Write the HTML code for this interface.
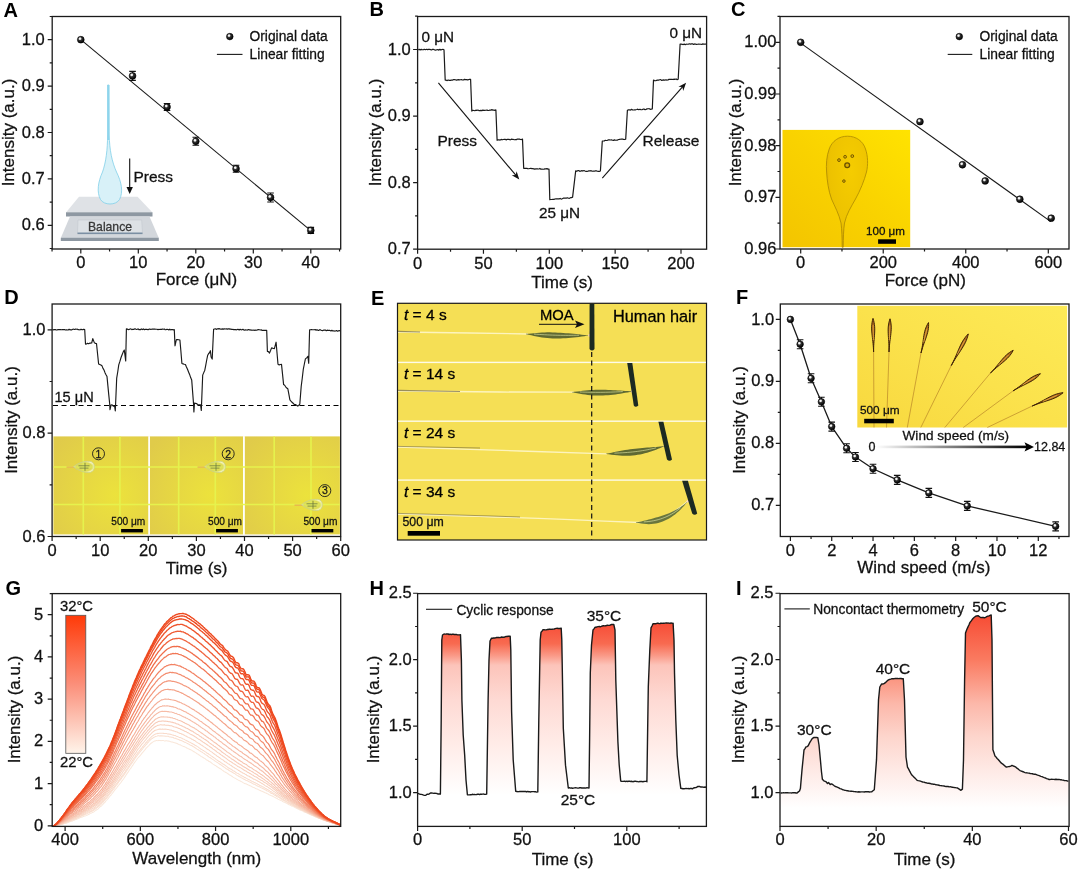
<!DOCTYPE html>
<html><head><meta charset="utf-8"><style>
html,body{margin:0;padding:0;background:#fff;width:1080px;height:870px;overflow:hidden}
svg{display:block;font-family:"Liberation Sans",sans-serif;will-change:transform}
</style></head><body>
<svg width="1080" height="870" viewBox="0 0 1080 870">
<defs><radialGradient id="sph" cx="0.38" cy="0.35" r="0.65">
<stop offset="0" stop-color="#fff"/><stop offset="0.18" stop-color="#eee"/><stop offset="0.42" stop-color="#333"/><stop offset="1" stop-color="#000"/></radialGradient>
<linearGradient id="cy" x1="0" y1="1" x2="1" y2="0"><stop offset="0" stop-color="#f3c400"/><stop offset="0.5" stop-color="#f9d200"/><stop offset="1" stop-color="#ffe300"/></linearGradient>
<radialGradient id="cdrop" cx="0.6" cy="0.3" r="0.65"><stop offset="0" stop-color="#f5cc00"/><stop offset="0.8" stop-color="#edc200"/><stop offset="1" stop-color="#dfb200"/></radialGradient>
<radialGradient id="dy" cx="0.65" cy="0.6" r="0.8"><stop offset="0" stop-color="#ece23c"/><stop offset="1" stop-color="#e0cb4a"/></radialGradient>
<radialGradient id="ddrop" cx="0.5" cy="0.5" r="0.5"><stop offset="0" stop-color="#e8ec70" stop-opacity="0.6"/><stop offset="0.75" stop-color="#d4dc60" stop-opacity="0.6"/><stop offset="1" stop-color="#f8f8c8" stop-opacity="0.9"/></radialGradient>
<linearGradient id="fib" x1="0" y1="0" x2="1" y2="0"><stop offset="0" stop-color="#6f6a40" stop-opacity="0.7"/><stop offset="1" stop-color="#3a4020"/></linearGradient>
<linearGradient id="fy" x1="0" y1="1" x2="1" y2="0"><stop offset="0" stop-color="#f8d83e"/><stop offset="0.5" stop-color="#fbe24c"/><stop offset="1" stop-color="#fdea56"/></linearGradient>
<linearGradient id="spin" x1="0" y1="0" x2="1" y2="0"><stop offset="0" stop-color="#8a4a08"/><stop offset="0.5" stop-color="#e0a030"/><stop offset="1" stop-color="#8a4a08"/></linearGradient>
<linearGradient id="wgrad" x1="0" y1="0" x2="1" y2="0"><stop offset="0" stop-color="#fff"/><stop offset="1" stop-color="#000"/></linearGradient>
<clipPath id="gclip"><rect x="51.5" y="593.6" width="289.2" height="232.2"/></clipPath>
<linearGradient id="cbar" x1="0" y1="0" x2="0" y2="1"><stop offset="0" stop-color="#ff3a08"/><stop offset="0.5" stop-color="#fb8f7a"/><stop offset="1" stop-color="#fff4ea"/></linearGradient>
<linearGradient id="hfill" gradientUnits="userSpaceOnUse" x1="0" y1="623" x2="0" y2="795"><stop offset="0" stop-color="#f74c36"/><stop offset="0.12" stop-color="#f86a50"/><stop offset="0.19" stop-color="#fa9a88"/><stop offset="0.245" stop-color="#fcc4ba"/><stop offset="0.45" stop-color="#fedad4"/><stop offset="0.71" stop-color="#ffece8"/><stop offset="1" stop-color="#ffffff"/></linearGradient>
<linearGradient id="ifill" gradientUnits="userSpaceOnUse" x1="0" y1="615" x2="0" y2="808"><stop offset="0" stop-color="#f74c34"/><stop offset="0.23" stop-color="#fa7a60"/><stop offset="0.46" stop-color="#fcb8aa"/><stop offset="0.63" stop-color="#fdd5cc"/><stop offset="0.81" stop-color="#feeae6"/><stop offset="1" stop-color="#ffffff"/></linearGradient></defs>
<rect width="1080" height="870" fill="#fff"/>
<text x="3.5" y="16.7" font-size="20" text-anchor="start" font-weight="bold" fill="#000" >A</text>
<g>
<path d="M79 196.7 L137.5 196.7 L152.5 212.5 L66 212.5 Z" fill="#dfe2e6"/>
<rect x="66" y="212.3" width="86.5" height="4.2" fill="#8e98a2"/>
<path d="M70 216.5 L149.5 216.5 L158.8 238 L60.8 238 Z" fill="#d3d7dc"/>
<path d="M78 220 L141.7 220 L142.5 233.5 L77.5 233.5 Z" fill="#dde1e5" stroke="#c3c8ce" stroke-width="0.6"/>
<rect x="77.5" y="232.5" width="65" height="1.6" fill="#7b8fa3"/>
<rect x="60.8" y="237.8" width="98" height="3.2" fill="#8e98a2"/>
</g>
<text x="110" y="230.5" font-size="12.2" text-anchor="middle" font-weight="normal" fill="#383838" stroke="#383838" stroke-width="0.28" >Balance</text>
<path d="M107.6 85 L109.0 85 L109.2 135 C109.5 150 112 162 116.5 172 C121.5 182 123.5 192 119.5 199.5 C116 205.5 104 205.5 100.5 199.5 C96.5 192 98 182 102.5 172 C106 162 107.5 150 107.6 135 Z" fill="#d8f1f8" stroke="#80cfe8" stroke-width="0.8"/>
<rect x="107.5" y="85" width="1.7" height="55" fill="#8ed4ec"/>
<path d="M129.7 158.5 V190" stroke="#111" stroke-width="1.1"/><path d="M126.5 187 L129.7 194 L132.9 187 Z" fill="#111"/>
<text x="133.5" y="182.3" font-size="15.5" text-anchor="start" font-weight="normal" fill="#111" stroke="#111" stroke-width="0.28" >Press</text>
<rect x="52.2" y="16.5" width="288.5" height="232.5" fill="none" stroke="#1a1a1a" stroke-width="1.3"/>
<path d="M80.8 249v4.5M138.3 249v4.5M195.8 249v4.5M253.3 249v4.5M310.8 249v4.5M52.05 249v2.5M109.55 249v2.5M167.05 249v2.5M224.55 249v2.5M282.05 249v2.5M339.55 249v2.5" stroke="#1a1a1a" stroke-width="1.2" fill="none"/>
<text x="80.8" y="268.4" font-size="16.5" text-anchor="middle" font-weight="normal" fill="#111" stroke="#111" stroke-width="0.28" >0</text>
<text x="138.3" y="268.4" font-size="16.5" text-anchor="middle" font-weight="normal" fill="#111" stroke="#111" stroke-width="0.28" >10</text>
<text x="195.8" y="268.4" font-size="16.5" text-anchor="middle" font-weight="normal" fill="#111" stroke="#111" stroke-width="0.28" >20</text>
<text x="253.3" y="268.4" font-size="16.5" text-anchor="middle" font-weight="normal" fill="#111" stroke="#111" stroke-width="0.28" >30</text>
<text x="310.8" y="268.4" font-size="16.5" text-anchor="middle" font-weight="normal" fill="#111" stroke="#111" stroke-width="0.28" >40</text>
<path d="M52.2 225.3h-4.5M52.2 178.9h-4.5M52.2 132.5h-4.5M52.2 86.1h-4.5M52.2 39.7h-4.5M52.2 248.5h-2.5M52.2 202.1h-2.5M52.2 155.7h-2.5M52.2 109.3h-2.5M52.2 62.9h-2.5M52.2 16.5h-2.5" stroke="#1a1a1a" stroke-width="1.2" fill="none"/>
<text x="44.7" y="230.4" font-size="16.5" text-anchor="end" font-weight="normal" fill="#111" stroke="#111" stroke-width="0.28" >0.6</text>
<text x="44.7" y="184" font-size="16.5" text-anchor="end" font-weight="normal" fill="#111" stroke="#111" stroke-width="0.28" >0.7</text>
<text x="44.7" y="137.6" font-size="16.5" text-anchor="end" font-weight="normal" fill="#111" stroke="#111" stroke-width="0.28" >0.8</text>
<text x="44.7" y="91.2" font-size="16.5" text-anchor="end" font-weight="normal" fill="#111" stroke="#111" stroke-width="0.28" >0.9</text>
<text x="44.7" y="44.8" font-size="16.5" text-anchor="end" font-weight="normal" fill="#111" stroke="#111" stroke-width="0.28" >1.0</text>
<text x="196.5" y="285.2" font-size="17" text-anchor="middle" font-weight="normal" fill="#111" stroke="#111" stroke-width="0.28" >Force (μN)</text>
<text transform="translate(14.4,132.5) rotate(-90)" x="0" y="0" font-size="17" text-anchor="middle" fill="#111" stroke="#111" stroke-width="0.28">Intensity (a.u.)</text>
<path d="M80.8 39.7 L310.8 230.64" fill="none" stroke="#1a1a1a" stroke-width="1.1" stroke-linejoin="round" />
<circle cx="80.8" cy="39.7" r="3.4" fill="url(#sph)" stroke="#000" stroke-width="0.6"/>
<path d="M132.55 71.39V80.39M129.25 71.39h6.6M129.25 80.39h6.6" stroke="#111" stroke-width="1.1" fill="none"/>
<circle cx="132.55" cy="75.89" r="3.4" fill="url(#sph)" stroke="#000" stroke-width="0.6"/>
<path d="M167.05 103.48V110.48M163.75 103.48h6.6M163.75 110.48h6.6" stroke="#111" stroke-width="1.1" fill="none"/>
<circle cx="167.05" cy="106.98" r="3.4" fill="url(#sph)" stroke="#000" stroke-width="0.6"/>
<path d="M195.8 137.32V145.32M192.5 137.32h6.6M192.5 145.32h6.6" stroke="#111" stroke-width="1.1" fill="none"/>
<circle cx="195.8" cy="141.32" r="3.4" fill="url(#sph)" stroke="#000" stroke-width="0.6"/>
<path d="M236.05 165.19V172.19M232.75 165.19h6.6M232.75 172.19h6.6" stroke="#111" stroke-width="1.1" fill="none"/>
<circle cx="236.05" cy="168.69" r="3.4" fill="url(#sph)" stroke="#000" stroke-width="0.6"/>
<path d="M270.55 192.96V201.96M267.25 192.96h6.6M267.25 201.96h6.6" stroke="#111" stroke-width="1.1" fill="none"/>
<circle cx="270.55" cy="197.46" r="3.4" fill="url(#sph)" stroke="#000" stroke-width="0.6"/>
<path d="M310.8 227.4V233.4M307.5 227.4h6.6M307.5 233.4h6.6" stroke="#111" stroke-width="1.1" fill="none"/>
<circle cx="310.8" cy="230.4" r="3.4" fill="url(#sph)" stroke="#000" stroke-width="0.6"/>
<circle cx="229.8" cy="36.6" r="3.3" fill="url(#sph)" stroke="#000" stroke-width="0.6"/>
<text x="249.5" y="41.2" font-size="13.8" text-anchor="start" font-weight="normal" fill="#111" stroke="#111" stroke-width="0.28" >Original data</text>
<path d="M216.9 54.4 L242.5 54.4" fill="none" stroke="#1a1a1a" stroke-width="1.1" stroke-linejoin="round" />
<text x="249.5" y="58.8" font-size="13.8" text-anchor="start" font-weight="normal" fill="#111" stroke="#111" stroke-width="0.28" >Linear fitting</text>
<text x="369.5" y="16.4" font-size="20" text-anchor="start" font-weight="bold" fill="#000" >B</text>
<rect x="417.6" y="16.5" width="289" height="232.7" fill="none" stroke="#1a1a1a" stroke-width="1.3"/>
<path d="M417.6 249.2v4.5M483.45 249.2v4.5M549.3 249.2v4.5M615.15 249.2v4.5M681 249.2v4.5M450.53 249.2v2.5M516.38 249.2v2.5M582.23 249.2v2.5M648.08 249.2v2.5" stroke="#1a1a1a" stroke-width="1.2" fill="none"/>
<text x="417.6" y="268.6" font-size="16.5" text-anchor="middle" font-weight="normal" fill="#111" stroke="#111" stroke-width="0.28" >0</text>
<text x="483.45" y="268.6" font-size="16.5" text-anchor="middle" font-weight="normal" fill="#111" stroke="#111" stroke-width="0.28" >50</text>
<text x="549.3" y="268.6" font-size="16.5" text-anchor="middle" font-weight="normal" fill="#111" stroke="#111" stroke-width="0.28" >100</text>
<text x="615.15" y="268.6" font-size="16.5" text-anchor="middle" font-weight="normal" fill="#111" stroke="#111" stroke-width="0.28" >150</text>
<text x="681" y="268.6" font-size="16.5" text-anchor="middle" font-weight="normal" fill="#111" stroke="#111" stroke-width="0.28" >200</text>
<path d="M417.6 249.2h-4.5M417.6 182.63h-4.5M417.6 116.07h-4.5M417.6 49.5h-4.5M417.6 215.92h-2.5M417.6 149.35h-2.5M417.6 82.78h-2.5M417.6 16.22h-2.5" stroke="#1a1a1a" stroke-width="1.2" fill="none"/>
<text x="410.8" y="254.3" font-size="16.5" text-anchor="end" font-weight="normal" fill="#111" stroke="#111" stroke-width="0.28" >0.7</text>
<text x="410.8" y="187.73" font-size="16.5" text-anchor="end" font-weight="normal" fill="#111" stroke="#111" stroke-width="0.28" >0.8</text>
<text x="410.8" y="121.17" font-size="16.5" text-anchor="end" font-weight="normal" fill="#111" stroke="#111" stroke-width="0.28" >0.9</text>
<text x="410.8" y="54.6" font-size="16.5" text-anchor="end" font-weight="normal" fill="#111" stroke="#111" stroke-width="0.28" >1.0</text>
<text x="562.1" y="287.5" font-size="17" text-anchor="middle" font-weight="normal" fill="#111" stroke="#111" stroke-width="0.28" >Time (s)</text>
<text transform="translate(380.9,132.5) rotate(-90)" x="0" y="0" font-size="17" text-anchor="middle" fill="#111" stroke="#111" stroke-width="0.28">Intensity (a.u.)</text>
<path d="M418.2 49.54 L419.23 49.39 L420.26 49.84 L421.3 49.32 L422.33 49.73 L423.36 49.58 L424.39 49.3 L425.42 49.71 L426.46 49.28 L427.49 49.64 L428.52 49.31 L429.55 49.33 L430.58 49.63 L431.62 49.99 L432.65 49.36 L433.68 49.45 L434.71 49.81 L435.74 50.1 L436.78 49.77 L437.81 49.61 L438.84 50.13 L439.87 49.29 L440.9 50.02 L441.94 49.51 L442.97 49.38 L444 49.7 L445.2 80.06 L446.22 80.19 L447.23 80.6 L448.25 79.99 L449.26 80.31 L450.28 80.33 L451.3 80.05 L452.31 80.16 L453.33 79.69 L454.34 79.64 L455.36 79.74 L456.38 80.12 L457.39 79.85 L458.41 79.71 L459.42 79.92 L460.44 79.76 L461.46 79.58 L462.47 79.98 L463.49 79.86 L464.5 79.41 L465.52 79.67 L466.54 79.58 L467.55 79.86 L468.57 79.69 L469.58 79.25 L470.6 79.4 L471.8 111.03 L472.8 110.23 L473.81 110.47 L474.81 110.74 L475.82 110.17 L476.82 110.44 L477.82 110.01 L478.83 110.55 L479.83 110.6 L480.84 110.4 L481.84 110.65 L482.85 110.11 L483.85 110.43 L484.85 110.31 L485.86 110.26 L486.86 110.12 L487.87 110.44 L488.87 110.5 L489.88 110.05 L490.88 110.19 L491.88 109.62 L492.89 110.17 L493.89 110.09 L494.9 110.37 L495.9 109.9 L497.1 140.29 L498.12 139.77 L499.13 139.83 L500.15 140.04 L501.16 139.43 L502.18 139.79 L503.2 139.49 L504.21 139.4 L505.23 139.32 L506.24 139.92 L507.26 139.31 L508.28 139.38 L509.29 139.47 L510.31 139.87 L511.32 139.12 L512.34 139.41 L513.36 139.47 L514.37 139.73 L515.39 139.64 L516.4 139.64 L517.42 139.08 L518.44 139.17 L519.45 139.08 L520.47 139.52 L521.48 139.55 L522.5 139.1 L523.7 168.29 L524.71 168.32 L525.72 168.39 L526.74 168.41 L527.75 168.65 L528.76 168.76 L529.77 168.48 L530.78 168.27 L531.8 168.66 L532.81 168.63 L533.82 168.82 L534.83 169.18 L535.84 168.96 L536.86 168.82 L537.87 168.93 L538.88 169 L539.89 168.45 L540.9 169.23 L541.92 169.14 L542.93 169.24 L543.94 169.19 L544.95 168.84 L545.96 168.86 L546.98 168.61 L547.99 169.1 L549 169 L549.8 199.61 L550.84 199.5 L551.87 199.51 L552.91 199.36 L553.95 199.4 L554.98 199.03 L556.02 198.87 L557.05 198.89 L558.09 198.73 L559.13 198.85 L560.16 198.44 L561.2 199.09 L562.24 198.74 L563.27 198.21 L564.31 198.19 L565.35 198.16 L566.38 198.06 L567.42 197.73 L568.45 198.27 L569.49 198.28 L570.53 197.7 L571.56 197.6 L572.6 197.13 L573.63 188.31 L574.67 179.69 L575.7 170.79 L576.73 171.3 L577.76 170.7 L578.79 170.57 L579.82 171.41 L580.85 171.03 L581.88 170.68 L582.9 171.04 L583.93 170.57 L584.96 171.03 L585.99 171.43 L587.02 171.33 L588.05 171.18 L589.08 170.79 L590.11 170.88 L591.14 170.7 L592.17 171.24 L593.2 171.03 L594.23 171.25 L595.25 170.85 L596.28 170.75 L597.31 171.28 L598.34 171.44 L599.37 171.32 L600.4 171 L602.3 141.08 L603.32 141.01 L604.33 140.87 L605.35 140.33 L606.37 140.52 L607.39 140.3 L608.4 139.93 L609.42 139.86 L610.44 140.01 L611.46 139.92 L612.47 140.23 L613.49 140.4 L614.51 139.87 L615.53 140.23 L616.54 140.2 L617.56 140.1 L618.58 139.5 L619.6 139.29 L620.61 139.22 L621.63 139.12 L622.65 139.06 L623.67 139.36 L624.68 139.53 L625.7 139.1 L627.4 110.21 L628.44 109.84 L629.48 109.95 L630.51 110.04 L631.55 109.36 L632.59 109.84 L633.62 110.02 L634.66 109.86 L635.7 109.79 L636.74 109.51 L637.77 109.19 L638.81 109.7 L639.85 109.25 L640.89 109.63 L641.92 109.74 L642.96 109.18 L644 109.14 L645.04 109.59 L646.07 109.35 L647.11 108.81 L648.15 108.73 L649.19 108.71 L650.22 109.35 L651.26 109.22 L652.3 108.9 L653.5 80.08 L654.53 80.64 L655.56 80.73 L656.59 80.39 L657.62 80.07 L658.65 80.19 L659.67 79.77 L660.7 79.61 L661.73 80.42 L662.76 80.08 L663.79 79.92 L664.82 80.24 L665.85 79.74 L666.88 80.08 L667.91 79.99 L668.94 79.39 L669.97 79.38 L671 79.36 L672.03 79.27 L673.05 79.53 L674.08 79.18 L675.11 79.28 L676.14 78.97 L677.17 79.62 L678.2 79.2 L680.1 44.07 L681.14 44.16 L682.17 44.28 L683.21 44.56 L684.24 44.13 L685.28 44.58 L686.32 44.2 L687.35 44.23 L688.39 44.22 L689.42 43.77 L690.46 44.15 L691.5 43.91 L692.53 43.75 L693.57 44.47 L694.6 43.91 L695.64 44.18 L696.68 44.4 L697.71 44.25 L698.75 44.04 L699.78 44.22 L700.82 44.25 L701.86 44.46 L702.89 43.85 L703.93 44.25 L704.96 43.97 L706 44.2" fill="none" stroke="#1a1a1a" stroke-width="1.2" stroke-linejoin="round" />
<path d="M438.4 82.8L516.22 175.72" stroke="#111" stroke-width="1.1"/>
<path d="M519.3 179.4L511.71 175.32L515.7 175.11L516.62 171.21Z" fill="#111"/>
<path d="M602.3 178.2L682.93 86.41" stroke="#111" stroke-width="1.1"/>
<path d="M686.1 82.8L683.22 90.92L682.4 87.01L678.42 86.7Z" fill="#111"/>
<text x="437.5" y="146.3" font-size="15.5" text-anchor="start" font-weight="normal" fill="#111" stroke="#111" stroke-width="0.28" >Press</text>
<text x="642.5" y="146.3" font-size="15.5" text-anchor="start" font-weight="normal" fill="#111" stroke="#111" stroke-width="0.28" >Release</text>
<text x="421.5" y="42.3" font-size="15.3" text-anchor="start" font-weight="normal" fill="#111" stroke="#111" stroke-width="0.28" >0 μN</text>
<text x="669.5" y="38.3" font-size="15.3" text-anchor="start" font-weight="normal" fill="#111" stroke="#111" stroke-width="0.28" >0 μN</text>
<text x="539" y="217.8" font-size="15.3" text-anchor="start" font-weight="normal" fill="#111" stroke="#111" stroke-width="0.28" >25 μN</text>
<text x="731" y="16.4" font-size="20" text-anchor="start" font-weight="bold" fill="#000" >C</text>
<rect x="782.5" y="129.9" width="127.7" height="117.3" fill="url(#cy)"/>
<path d="M847.5 136.2 C856 136.2 863 141 865.5 149 C868 156 868.2 165 866.5 172 C864.5 180 860 191 855.5 199 C851 207 846.5 214 844.5 223 C843.5 230 843.3 238 843.2 247.2 L842.2 247.2 C842.1 238 841.9 230 841 223 C839 214 835 207 831.5 199 C828.5 191 827 180 826.6 172 C826 165 826.5 156 829.2 149 C832 141 839 136.2 847.5 136.2 Z" fill="url(#cdrop)" stroke="#a88400" stroke-width="0.75"/>
<circle cx="839" cy="160.1" r="1.4" fill="#e0b000" stroke="#6a5000" stroke-width="0.9"/>
<circle cx="845.1" cy="156.8" r="1.4" fill="#e0b000" stroke="#6a5000" stroke-width="0.9"/>
<circle cx="852.3" cy="156.1" r="1.4" fill="#e0b000" stroke="#6a5000" stroke-width="0.9"/>
<circle cx="847.2" cy="165.3" r="2.4" fill="#e0b000" stroke="#6a5000" stroke-width="1.3"/>
<circle cx="843.9" cy="181.1" r="1.3" fill="#e0b000" stroke="#6a5000" stroke-width="0.9"/>
<rect x="878.1" y="239.3" width="17.9" height="4.5" fill="#000"/>
<text x="866" y="235" font-size="11.6" text-anchor="start" font-weight="normal" fill="#111" stroke="#111" stroke-width="0.28" >100 μm</text>
<rect x="780" y="16.5" width="289" height="232.5" fill="none" stroke="#1a1a1a" stroke-width="1.3"/>
<path d="M800.7 249v4.5M883.23 249v4.5M965.77 249v4.5M1048.3 249v4.5M841.97 249v2.5M924.5 249v2.5M1007.03 249v2.5" stroke="#1a1a1a" stroke-width="1.2" fill="none"/>
<text x="800.7" y="268.4" font-size="16.5" text-anchor="middle" font-weight="normal" fill="#111" stroke="#111" stroke-width="0.28" >0</text>
<text x="883.23" y="268.4" font-size="16.5" text-anchor="middle" font-weight="normal" fill="#111" stroke="#111" stroke-width="0.28" >200</text>
<text x="965.77" y="268.4" font-size="16.5" text-anchor="middle" font-weight="normal" fill="#111" stroke="#111" stroke-width="0.28" >400</text>
<text x="1048.3" y="268.4" font-size="16.5" text-anchor="middle" font-weight="normal" fill="#111" stroke="#111" stroke-width="0.28" >600</text>
<path d="M780 249h-4.5M780 197.32h-4.5M780 145.65h-4.5M780 93.98h-4.5M780 42.3h-4.5M780 223.16h-2.5M780 171.49h-2.5M780 119.81h-2.5M780 68.14h-2.5M780 16.46h-2.5" stroke="#1a1a1a" stroke-width="1.2" fill="none"/>
<text x="776.4" y="254.1" font-size="16.5" text-anchor="end" font-weight="normal" fill="#111" stroke="#111" stroke-width="0.28" >0.96</text>
<text x="776.4" y="202.42" font-size="16.5" text-anchor="end" font-weight="normal" fill="#111" stroke="#111" stroke-width="0.28" >0.97</text>
<text x="776.4" y="150.75" font-size="16.5" text-anchor="end" font-weight="normal" fill="#111" stroke="#111" stroke-width="0.28" >0.98</text>
<text x="776.4" y="99.08" font-size="16.5" text-anchor="end" font-weight="normal" fill="#111" stroke="#111" stroke-width="0.28" >0.99</text>
<text x="776.4" y="47.4" font-size="16.5" text-anchor="end" font-weight="normal" fill="#111" stroke="#111" stroke-width="0.28" >1.00</text>
<text x="925.3" y="286" font-size="17" text-anchor="middle" font-weight="normal" fill="#111" stroke="#111" stroke-width="0.28" >Force (pN)</text>
<text transform="translate(740.9,132.5) rotate(-90)" x="0" y="0" font-size="17" text-anchor="middle" fill="#111" stroke="#111" stroke-width="0.28">Intensity (a.u.)</text>
<path d="M800.7 43.1 L1050.78 221.61" fill="none" stroke="#1a1a1a" stroke-width="1.1" stroke-linejoin="round" />
<circle cx="800.7" cy="42.3" r="3.4" fill="url(#sph)" stroke="#000" stroke-width="0.6"/>
<circle cx="919.96" cy="121.67" r="3.4" fill="url(#sph)" stroke="#000" stroke-width="0.6"/>
<circle cx="962.47" cy="164.77" r="3.4" fill="url(#sph)" stroke="#000" stroke-width="0.6"/>
<circle cx="985.16" cy="180.94" r="3.4" fill="url(#sph)" stroke="#000" stroke-width="0.6"/>
<circle cx="1019.83" cy="199.24" r="3.4" fill="url(#sph)" stroke="#000" stroke-width="0.6"/>
<circle cx="1051.19" cy="218.2" r="3.4" fill="url(#sph)" stroke="#000" stroke-width="0.6"/>
<circle cx="959.3" cy="36.6" r="3.3" fill="url(#sph)" stroke="#000" stroke-width="0.6"/>
<text x="979.5" y="41.2" font-size="13.8" text-anchor="start" font-weight="normal" fill="#111" stroke="#111" stroke-width="0.28" >Original data</text>
<path d="M947.7 54.4 L972.3 54.4" fill="none" stroke="#1a1a1a" stroke-width="1.1" stroke-linejoin="round" />
<text x="979.5" y="58.8" font-size="13.8" text-anchor="start" font-weight="normal" fill="#111" stroke="#111" stroke-width="0.28" >Linear fitting</text>
<text x="4.2" y="304.2" font-size="20" text-anchor="start" font-weight="bold" fill="#000" >D</text>
<rect x="53.4" y="436.4" width="95.2" height="98" fill="url(#dy)"/>
<rect x="149.6" y="436.4" width="93.6" height="98" fill="url(#dy)"/>
<rect x="244.6" y="436.4" width="95.3" height="98" fill="url(#dy)"/>
<rect x="148.4" y="436.4" width="1.5" height="98" fill="#fff"/><rect x="243.1" y="436.4" width="1.5" height="98" fill="#fff"/>
<path d="M83.3 436.4V534.4M119.9 436.4V534.4M178.7 436.4V534.4M215.3 436.4V534.4M274.2 436.4V534.4M311 436.4V534.4M53.4 467H339.9M53.4 504.5H339.9" stroke="#e6f44e" stroke-width="1.6" opacity="0.95"/>
<path d="M66.5 467.1H75.5" stroke="#e87858" stroke-width="0.9" opacity="0.7"/>
<path d="M73.5 466.8 C78.5 462.3 86.5 460.3 91.5 461.8 C95.5 463.8 95.5 470.8 90.5 472.3 C85.5 473.3 78.5 470.8 73.5 466.8 Z" fill="url(#ddrop)" stroke="#c8d088" stroke-width="0.8"/>
<path d="M78.5 465.8H89.5M79.5 468.1H88.5M85.0 462.8V470.8" stroke="#304830" stroke-width="0.7" opacity="0.75"/>
<path d="M197.5 467.1H206.5" stroke="#e87858" stroke-width="0.9" opacity="0.7"/>
<path d="M204.5 466.8 C209.5 462.3 217.5 460.3 222.5 461.8 C226.5 463.8 226.5 470.8 221.5 472.3 C216.5 473.3 209.5 470.8 204.5 466.8 Z" fill="url(#ddrop)" stroke="#c8d088" stroke-width="0.8"/>
<path d="M209.5 465.8H220.5M210.5 468.1H219.5M216.0 462.8V470.8" stroke="#304830" stroke-width="0.7" opacity="0.75"/>
<path d="M294.5 505.1H303.5" stroke="#e87858" stroke-width="0.9" opacity="0.7"/>
<path d="M301.5 504.8 C306.5 500.3 314.5 498.3 319.5 499.8 C323.5 501.8 323.5 508.8 318.5 510.3 C313.5 511.3 306.5 508.8 301.5 504.8 Z" fill="url(#ddrop)" stroke="#c8d088" stroke-width="0.8"/>
<path d="M306.5 503.8H317.5M307.5 506.1H316.5M313.0 500.8V508.8" stroke="#304830" stroke-width="0.7" opacity="0.75"/>
<circle cx="98.5" cy="453.8" r="6" fill="none" stroke="#1a1a1a" stroke-width="0.9"/>
<text x="98.5" y="457.5" font-size="10.5" text-anchor="middle" font-weight="normal" fill="#1a1a1a" stroke="#1a1a1a" stroke-width="0.28" >1</text>
<circle cx="228.2" cy="453.8" r="6" fill="none" stroke="#1a1a1a" stroke-width="0.9"/>
<text x="228.2" y="457.5" font-size="10.5" text-anchor="middle" font-weight="normal" fill="#1a1a1a" stroke="#1a1a1a" stroke-width="0.28" >2</text>
<circle cx="324.8" cy="490.6" r="6" fill="none" stroke="#1a1a1a" stroke-width="0.9"/>
<text x="324.8" y="494.3" font-size="10.5" text-anchor="middle" font-weight="normal" fill="#1a1a1a" stroke="#1a1a1a" stroke-width="0.28" >3</text>
<rect x="121.1" y="529" width="21.8" height="3.4" fill="#000"/>
<text x="128.3" y="525.1" font-size="11.5" text-anchor="middle" font-weight="normal" fill="#111" stroke="#111" stroke-width="0.28" textLength="34" lengthAdjust="spacingAndGlyphs">500 μm</text>
<rect x="216.1" y="529" width="21.8" height="3.4" fill="#000"/>
<text x="225" y="525.1" font-size="11.5" text-anchor="middle" font-weight="normal" fill="#111" stroke="#111" stroke-width="0.28" textLength="34" lengthAdjust="spacingAndGlyphs">500 μm</text>
<rect x="311.5" y="529" width="21.8" height="3.4" fill="#000"/>
<text x="320.4" y="525.1" font-size="11.5" text-anchor="middle" font-weight="normal" fill="#111" stroke="#111" stroke-width="0.28" textLength="34" lengthAdjust="spacingAndGlyphs">500 μm</text>
<rect x="52.1" y="304" width="288.6" height="232.5" fill="none" stroke="#1a1a1a" stroke-width="1.3"/>
<path d="M52.1 536.5v4.5M100.2 536.5v4.5M148.3 536.5v4.5M196.4 536.5v4.5M244.5 536.5v4.5M292.6 536.5v4.5M340.7 536.5v4.5M76.15 536.5v2.5M124.25 536.5v2.5M172.35 536.5v2.5M220.45 536.5v2.5M268.55 536.5v2.5M316.65 536.5v2.5" stroke="#1a1a1a" stroke-width="1.2" fill="none"/>
<text x="52.1" y="555.6" font-size="16.5" text-anchor="middle" font-weight="normal" fill="#111" stroke="#111" stroke-width="0.28" >0</text>
<text x="100.2" y="555.6" font-size="16.5" text-anchor="middle" font-weight="normal" fill="#111" stroke="#111" stroke-width="0.28" >10</text>
<text x="148.3" y="555.6" font-size="16.5" text-anchor="middle" font-weight="normal" fill="#111" stroke="#111" stroke-width="0.28" >20</text>
<text x="196.4" y="555.6" font-size="16.5" text-anchor="middle" font-weight="normal" fill="#111" stroke="#111" stroke-width="0.28" >30</text>
<text x="244.5" y="555.6" font-size="16.5" text-anchor="middle" font-weight="normal" fill="#111" stroke="#111" stroke-width="0.28" >40</text>
<text x="292.6" y="555.6" font-size="16.5" text-anchor="middle" font-weight="normal" fill="#111" stroke="#111" stroke-width="0.28" >50</text>
<text x="340.7" y="555.6" font-size="16.5" text-anchor="middle" font-weight="normal" fill="#111" stroke="#111" stroke-width="0.28" >60</text>
<path d="M52.1 536.5h-4.5M52.1 433.15h-4.5M52.1 329.8h-4.5M52.1 484.83h-2.5M52.1 381.48h-2.5" stroke="#1a1a1a" stroke-width="1.2" fill="none"/>
<text x="45.5" y="541.6" font-size="16.5" text-anchor="end" font-weight="normal" fill="#111" stroke="#111" stroke-width="0.28" >0.6</text>
<text x="45.5" y="438.25" font-size="16.5" text-anchor="end" font-weight="normal" fill="#111" stroke="#111" stroke-width="0.28" >0.8</text>
<text x="45.5" y="334.9" font-size="16.5" text-anchor="end" font-weight="normal" fill="#111" stroke="#111" stroke-width="0.28" >1.0</text>
<text x="196.7" y="573.9" font-size="17" text-anchor="middle" font-weight="normal" fill="#111" stroke="#111" stroke-width="0.28" >Time (s)</text>
<text transform="translate(17.4,420) rotate(-90)" x="0" y="0" font-size="17" text-anchor="middle" fill="#111" stroke="#111" stroke-width="0.28">Intensity (a.u.)</text>
<path d="M53 405.5H340" stroke="#000" stroke-width="1.1" stroke-dasharray="5,3.5"/>
<text x="54.5" y="401.7" font-size="14.6" text-anchor="start" font-weight="normal" fill="#111" stroke="#111" stroke-width="0.28" >15 μN</text>
<path d="M52.5 329.4 L53.42 329.84 L54.34 329.6 L55.26 329.65 L56.18 329.82 L57.1 329.96 L58.02 329.53 L58.94 329.68 L59.86 329.58 L60.78 329.59 L61.7 329.74 L62.62 329.53 L63.54 329.6 L64.46 329.54 L65.38 329.96 L66.3 329.74 L67.22 329.89 L68.14 329.95 L69.06 329.33 L69.98 329.6 L70.9 329.94 L71.82 329.85 L72.74 329.21 L73.66 329.19 L74.58 329.48 L75.5 329.14 L76.42 329.29 L77.34 329.14 L78.26 329.67 L79.18 329.77 L80.1 329.87 L81.02 329.2 L81.94 329.7 L82.86 329.65 L83.78 329.18 L84.7 329.5 L85.5 344.09 L86.53 344.05 L87.57 343.25 L88.6 343.78 L89.63 343.16 L90.67 343.11 L91.7 343 L92.8 338.6 L94.4 342.84 L95.45 343.37 L96.5 343.45 L97.55 353.76 L98.6 363.91 L99.73 364.46 L100.87 365.03 L102 365.84 L103 368.4 L104 369.97 L105 372.65 L106 374.75 L107 376.57 L107.9 385.85 L108.8 395.11 L109.7 404 L110 409.7 L111.1 404.91 L112.27 404.96 L113.43 406.24 L114.6 406.25 L115.3 411 L116.7 378.06 L117.72 371.97 L118.75 364.94 L119.9 361.39 L121.05 357.49 L122.2 354.45 L123.25 351.89 L124.3 350 L125.7 361 L126.4 328.87 L127.3 329.14 L128.21 329.59 L129.11 329.51 L130.02 329.01 L130.92 328.92 L131.82 329.62 L132.73 329.32 L133.63 329.44 L134.53 328.9 L135.44 328.88 L136.34 329.45 L137.25 329.22 L138.15 328.91 L139.05 329.7 L139.96 329.43 L140.86 329.59 L141.76 328.95 L142.67 329.66 L143.57 328.95 L144.48 329.68 L145.38 329.32 L146.28 329.22 L147.19 329.42 L148.09 329.77 L148.99 329.18 L149.9 329.06 L150.8 329.43 L151.71 329.18 L152.61 329.07 L153.51 329.12 L154.42 329.03 L155.32 329.17 L156.22 329.28 L157.13 329.28 L158.03 329.7 L158.94 329.28 L159.84 329.48 L160.74 329.2 L161.65 329.36 L162.55 329.07 L163.45 329.28 L164.36 329.08 L165.26 329.73 L166.17 329.58 L167.07 329.26 L167.97 329.52 L168.88 329.95 L169.78 329.21 L170.68 329.86 L171.59 329.52 L172.49 329.58 L173.4 329.89 L174.3 329.6 L175 345.8 L176.4 339.5 L177.57 339.61 L178.73 339.77 L179.9 340.03 L180.9 351.26 L181.9 363.5 L183.07 363.85 L184.23 364.26 L185.4 364.51 L186.45 367.01 L187.5 369.3 L188.55 371.92 L189.6 374.41 L190.65 377.57 L191.7 379.9 L193.5 403.4 L193.9 411.9 L194.5 403.18 L195.52 403.35 L196.53 403.53 L197.55 404.46 L198.57 404.73 L199.58 404.8 L200.6 404.9 L201.3 410.5 L202.7 375.1 L203.75 372.62 L204.8 370.21 L205.73 365.43 L206.67 360.23 L207.6 355.55 L208.53 353.75 L209.47 352.75 L210.4 350.7 L211.1 357 L212.2 359.1 L213.6 329.33 L214.52 328.97 L215.43 328.72 L216.35 329.39 L217.26 328.83 L218.18 328.89 L219.09 328.6 L220.01 328.96 L220.92 329.07 L221.84 329.12 L222.76 328.87 L223.67 329.17 L224.59 328.74 L225.5 329 L226.42 328.87 L227.33 329.17 L228.25 328.87 L229.16 328.88 L230.08 329.16 L230.99 329.12 L231.91 329.46 L232.83 329.43 L233.74 329.66 L234.66 329.6 L235.57 329.67 L236.49 329.84 L237.4 329.43 L238.32 329.4 L239.23 330.01 L240.15 329.28 L241.07 329.83 L241.98 329.78 L242.9 329.26 L243.81 330 L244.73 330.07 L245.64 329.86 L246.56 329.98 L247.47 330.07 L248.39 329.49 L249.31 329.86 L250.22 329.87 L251.14 330.19 L252.05 330.19 L252.97 330.23 L253.88 330.04 L254.8 330.34 L255.71 330.17 L256.63 330.21 L257.54 329.82 L258.46 329.66 L259.38 329.78 L260.29 330.01 L261.21 329.8 L262.12 330.48 L263.04 330.26 L263.95 330.34 L264.87 330.37 L265.78 330.44 L266.7 330.3 L267.4 351.39 L268.45 351.65 L269.5 353.07 L270.55 350.57 L271.6 347.9 L272.53 348.17 L273.47 348.51 L274.4 348.6 L276.1 342.2 L278 364.31 L279.17 364.91 L280.33 364.48 L281.5 364.32 L282.55 374.34 L283.6 384.61 L284.65 385.21 L285.7 386.77 L286.75 388.05 L287.8 388.69 L288.85 394.19 L289.9 399.88 L290.97 401.14 L292.05 402.29 L293.12 403.23 L294.2 404.33 L295.37 404.52 L296.53 405.28 L297.7 406.08 L298.75 405.47 L299.8 404.2 L301.2 386.42 L302.25 378.21 L303.3 369.26 L304.35 364 L305.4 358.89 L306.65 357.85 L307.9 356.3 L308.7 363.3 L309.6 329.77 L310.53 329.8 L311.45 329.5 L312.38 329.74 L313.31 329.74 L314.24 329.78 L315.16 329.51 L316.09 330.25 L317.02 329.67 L317.95 330.41 L318.87 330.42 L319.8 329.63 L320.73 330.07 L321.65 330.44 L322.58 330.62 L323.51 330.19 L324.44 330.07 L325.36 330.06 L326.29 330.76 L327.22 330.15 L328.15 330.52 L329.07 330.17 L330 330.55 L330.93 330.98 L331.85 330.29 L332.78 330.95 L333.71 330.71 L334.64 331.09 L335.56 330.97 L336.49 330.59 L337.42 331.23 L338.35 330.9 L339.27 330.53 L340.2 331" fill="none" stroke="#1a1a1a" stroke-width="1.15" stroke-linejoin="round" />
<text x="371" y="305" font-size="20" text-anchor="start" font-weight="bold" fill="#000" >E</text>
<rect x="397.5" y="303.3" width="309" height="236.7" fill="#f5df55" stroke="#1a1a1a" stroke-width="1.2"/>
<rect x="398.1" y="361.7" width="307.8" height="1.4" fill="#fdfbe8"/>
<rect x="398.1" y="420.5" width="307.8" height="1.4" fill="#fdfbe8"/>
<rect x="398.1" y="479.40000000000003" width="307.8" height="1.4" fill="#fdfbe8"/>
<path d="M398 332 L470 333 L528 334" fill="none" stroke="#fffbe0" stroke-width="1.3" opacity="0.75"/>
<path d="M398 331.4 L420 332" fill="none" stroke="#5a5030" stroke-width="1.2" opacity="0.6"/>
<path d="M398 391 L500 392 L574 392.2" fill="none" stroke="#fffbe0" stroke-width="1.3" opacity="0.75"/>
<path d="M398 390.4 L460 391.5" fill="none" stroke="#5a5030" stroke-width="1.2" opacity="0.6"/>
<path d="M398 447 L520 451 L607 453.8" fill="none" stroke="#fffbe0" stroke-width="1.3" opacity="0.75"/>
<path d="M398 446.4 L480 448" fill="none" stroke="#5a5030" stroke-width="1.0" opacity="0.5"/>
<path d="M398 514 C480 516 580 520 640 522.5 C660 523 675 512 688 501" fill="none" stroke="#fffbe0" stroke-width="1.3" opacity="0.75"/>
<path d="M398 513.4 C440 514.5 480 515.5 520 517" fill="none" stroke="#5a5030" stroke-width="1.0" opacity="0.5"/>
<path d="M526 333.83 L528.67 333.73 L531.33 333.46 L533.99 333.19 L536.65 332.95 L539.31 332.73 L541.97 332.56 L544.62 332.43 L547.28 332.36 L549.93 332.35 L552.58 332.4 L555.23 332.5 L557.88 332.63 L560.52 332.78 L563.16 332.95 L565.8 333.15 L568.44 333.36 L571.08 333.6 L573.72 333.85 L576.35 334.1 L578.99 334.37 L581.62 334.63 L584.25 334.9 L586.87 335.15 L589.5 335.23 L589.5 335.53 L586.87 335.83 L584.25 336.24 L581.62 336.62 L578.99 336.98 L576.35 337.31 L573.72 337.6 L571.08 337.86 L568.44 338.08 L565.8 338.25 L563.16 338.37 L560.52 338.46 L557.88 338.49 L555.23 338.47 L552.58 338.4 L549.93 338.26 L547.28 338.05 L544.62 337.75 L541.97 337.38 L539.31 336.95 L536.65 336.45 L533.99 335.89 L531.33 335.3 L528.67 334.66 L526 334.13Z" fill="#4f5c30" opacity="0.9"/>
<path d="M533.99 334.08 L536.65 334.27 L539.31 334.45 L541.97 334.61 L544.62 334.76 L547.28 334.89 L549.93 335 L552.58 335.1 L555.23 335.18 L557.88 335.25 L560.52 335.3 L563.16 335.33 L565.8 335.35 L568.44 335.36 L571.08 335.34 L573.72 335.31 L576.35 335.27 L578.99 335.21" stroke="#e8eca8" stroke-width="0.8" fill="none" opacity="0.75"/>
<path d="M572 392.03 L574.66 391.85 L577.31 391.49 L579.94 391.14 L582.56 390.82 L585.17 390.52 L587.77 390.26 L590.35 390.05 L592.92 389.89 L595.48 389.79 L598.02 389.75 L600.56 389.75 L603.08 389.78 L605.58 389.84 L608.07 389.92 L610.55 390.02 L613.02 390.14 L615.48 390.28 L617.92 390.43 L620.35 390.59 L622.76 390.75 L625.17 390.92 L627.56 391.09 L629.94 391.25 L632.3 391.23 L632.3 391.53 L629.94 391.9 L627.56 392.39 L625.17 392.85 L622.76 393.28 L620.35 393.69 L617.92 394.06 L615.48 394.4 L613.02 394.69 L610.55 394.95 L608.07 395.16 L605.58 395.33 L603.08 395.45 L600.56 395.52 L598.02 395.55 L595.48 395.5 L592.92 395.39 L590.35 395.19 L587.77 394.93 L585.17 394.59 L582.56 394.2 L579.94 393.76 L577.31 393.27 L574.66 392.75 L572 392.33Z" fill="#4f5c30" opacity="0.9"/>
<path d="M579.94 391.98 L582.56 392.08 L585.17 392.16 L587.77 392.22 L590.35 392.28 L592.92 392.31 L595.48 392.33 L598.02 392.34 L600.56 392.33 L603.08 392.3 L605.58 392.26 L608.07 392.2 L610.55 392.13 L613.02 392.04 L615.48 391.94 L617.92 391.82 L620.35 391.69 L622.76 391.54" stroke="#e8eca8" stroke-width="0.8" fill="none" opacity="0.75"/>
<path d="M606 453.63 L608.82 453.25 L611.6 452.68 L614.35 452.11 L617.07 451.55 L619.75 451.02 L622.41 450.51 L625.03 450.05 L627.61 449.63 L630.16 449.27 L632.68 448.97 L635.17 448.71 L637.62 448.46 L640.05 448.23 L642.43 448.01 L644.79 447.81 L647.11 447.62 L649.4 447.43 L651.66 447.25 L653.88 447.07 L656.07 446.88 L658.23 446.68 L660.35 446.48 L662.44 446.25 L664.5 445.83 L664.5 446.13 L662.44 446.98 L660.35 447.93 L658.23 448.84 L656.07 449.71 L653.88 450.54 L651.66 451.32 L649.4 452.05 L647.11 452.72 L644.79 453.33 L642.43 453.89 L640.05 454.38 L637.62 454.81 L635.17 455.17 L632.68 455.47 L630.16 455.68 L627.61 455.79 L625.03 455.81 L622.41 455.74 L619.75 455.58 L617.07 455.35 L614.35 455.04 L611.6 454.67 L608.82 454.26 L606 453.94Z" fill="#4f5c30" opacity="0.9"/>
<path d="M614.35 453.12 L617.07 453.04 L619.75 452.93 L622.41 452.79 L625.03 452.62 L627.61 452.42 L630.16 452.2 L632.68 451.94 L635.17 451.66 L637.62 451.35 L640.05 451.01 L642.43 450.64 L644.79 450.25 L647.11 449.82 L649.4 449.37 L651.66 448.89 L653.88 448.38 L656.07 447.84" stroke="#e8eca8" stroke-width="0.8" fill="none" opacity="0.75"/>
<path d="M636 522.34 L638.64 522.02 L641.25 521.47 L643.8 520.87 L646.32 520.24 L648.79 519.58 L651.22 518.92 L653.6 518.25 L655.94 517.59 L658.24 516.95 L660.5 516.3 L662.71 515.6 L664.88 514.85 L667 514.06 L669.08 513.21 L671.12 512.32 L673.11 511.37 L675.06 510.36 L676.97 509.3 L678.83 508.17 L680.65 506.98 L682.43 505.72 L684.16 504.39 L685.85 502.99 L687.5 501.33 L687.5 501.63 L685.85 503.62 L684.16 505.65 L682.43 507.59 L680.65 509.44 L678.83 511.19 L676.97 512.85 L675.06 514.4 L673.11 515.85 L671.12 517.2 L669.08 518.43 L667 519.56 L664.88 520.58 L662.71 521.48 L660.5 522.27 L658.24 522.95 L655.94 523.48 L653.6 523.86 L651.22 524.07 L648.79 524.13 L646.32 524.05 L643.8 523.83 L641.25 523.5 L638.64 523.05 L636 522.63Z" fill="#5a6a3a" opacity="0.9"/>
<path d="M643.8 521.9 L646.32 521.73 L648.79 521.48 L651.22 521.15 L653.6 520.73 L655.94 520.23 L658.24 519.65 L660.5 518.98 L662.71 518.23 L664.88 517.4 L667 516.48 L669.08 515.48 L671.12 514.4 L673.11 513.23 L675.06 511.98 L676.97 510.65 L678.83 509.23 L680.65 507.73" stroke="#e8eca8" stroke-width="0.8" fill="none" opacity="0.75"/>
<circle cx="589.5" cy="335.4" r="1.3" fill="#ffd8c8" opacity="0.9"/>
<circle cx="632.3" cy="391.4" r="1.3" fill="#ffd8c8" opacity="0.9"/>
<circle cx="664.9" cy="446" r="1.3" fill="#ffd8c8" opacity="0.9"/>
<circle cx="687.9" cy="501.2" r="1.3" fill="#ffd8c8" opacity="0.9"/>
<path d="M589.6 303.8 L594.3 303.8 L594.5 349 Q592 352 589.5 349 Z" fill="#1c2a22"/>
<path d="M627.2 362.9 L632.3 362.9 L638.3 405.5 Q635.5 408 633.8 405.5 Z" fill="#1c2a22"/>
<path d="M658.4 421.7 L663.4 421.7 L672 459.5 Q669.5 462 667 459.5 Z" fill="#1c2a22"/>
<path d="M682.1 480.8 L687.9 480.8 L697.2 513.5 Q694.5 516 692.2 513.5 Z" fill="#1c2a22"/>
<path d="M591.7 352 V539.5" stroke="#111" stroke-width="1.2" stroke-dasharray="5,3.5"/>
<text x="404" y="320.3" font-size="15.5" fill="#000" stroke="#000" stroke-width="0.28"><tspan font-style="italic">t</tspan> = 4 s</text>
<text x="404" y="379.2" font-size="15.5" fill="#000" stroke="#000" stroke-width="0.28"><tspan font-style="italic">t</tspan> = 14 s</text>
<text x="404" y="438.1" font-size="15.5" fill="#000" stroke="#000" stroke-width="0.28"><tspan font-style="italic">t</tspan> = 24 s</text>
<text x="404" y="497" font-size="15.5" fill="#000" stroke="#000" stroke-width="0.28"><tspan font-style="italic">t</tspan> = 34 s</text>
<text x="540" y="319.5" font-size="14.8" text-anchor="start" font-weight="normal" fill="#000" stroke="#000" stroke-width="0.28" >MOA</text>
<path d="M539 324.3 H577" stroke="#111" stroke-width="1"/><path d="M584.5 324.3 L575 320.6 L577 324.3 L575 328 Z" fill="#111"/>
<text x="613" y="321.8" font-size="16.3" text-anchor="start" font-weight="normal" fill="#000" stroke="#000" stroke-width="0.28" >Human hair</text>
<rect x="407.7" y="531" width="32.3" height="4.7" fill="#000"/>
<text x="402.5" y="525.7" font-size="12.3" text-anchor="start" font-weight="normal" fill="#111" stroke="#111" stroke-width="0.28" >500 μm</text>
<text x="736" y="304.2" font-size="20" text-anchor="start" font-weight="bold" fill="#000" >F</text>
<rect x="857.3" y="305.8" width="209.8" height="121.7" fill="url(#fy)"/>
<path d="M874 427.5 L873.6 352 L873 318.4" fill="none" stroke="#a87020" stroke-width="0.7" stroke-linejoin="round" opacity="0.8"/>
<path d="M873.6 352 L873.6 349.9 L873.65 347.8 L873.73 345.7 L873.85 343.59 L874 341.49 L874.16 339.39 L874.33 337.28 L874.49 335.18 L874.63 333.08 L874.72 330.97 L874.74 328.87 L874.66 326.77 L874.46 324.68 L874.12 322.58 L873.65 320.49 L873 318.4 L873 318.4 L872.43 320.51 L872.03 322.62 L871.77 324.72 L871.64 326.83 L871.64 328.93 L871.73 331.03 L871.9 333.12 L872.11 335.22 L872.35 337.32 L872.59 339.41 L872.83 341.51 L873.05 343.61 L873.24 345.7 L873.4 347.8 L873.52 349.9 L873.6 352Z" fill="#b06a1c" stroke="#3a2006" stroke-width="0.95" stroke-linejoin="round"/>
<path d="M873.39 340.24 L873.12 325.12" stroke="#f0b848" stroke-width="0.9" opacity="0.8"/>
<path d="M886.5 427.5 L889 352 L890 318.8" fill="none" stroke="#a87020" stroke-width="0.7" stroke-linejoin="round" opacity="0.8"/>
<path d="M889 352 L889.1 349.93 L889.25 347.85 L889.43 345.78 L889.65 343.71 L889.9 341.64 L890.16 339.57 L890.43 337.5 L890.69 335.44 L890.93 333.37 L891.12 331.29 L891.24 329.22 L891.26 327.15 L891.16 325.07 L890.92 322.98 L890.55 320.89 L890 318.8 L890 318.8 L889.33 320.86 L888.83 322.92 L888.47 324.98 L888.24 327.05 L888.14 329.13 L888.13 331.21 L888.2 333.28 L888.31 335.36 L888.45 337.45 L888.59 339.53 L888.73 341.61 L888.85 343.69 L888.94 345.77 L889 347.85 L889.02 349.92 L889 352Z" fill="#b06a1c" stroke="#3a2006" stroke-width="0.95" stroke-linejoin="round"/>
<path d="M889.35 340.38 L889.8 325.44" stroke="#f0b848" stroke-width="0.9" opacity="0.8"/>
<path d="M907.3 427.5 L921 353 L928.5 322.6" fill="none" stroke="#a87020" stroke-width="0.7" stroke-linejoin="round" opacity="0.8"/>
<path d="M921 353 L921.51 351.11 L922.06 349.23 L922.65 347.36 L923.27 345.5 L923.91 343.64 L924.57 341.79 L925.24 339.94 L925.91 338.09 L926.54 336.23 L927.14 334.36 L927.66 332.47 L928.09 330.56 L928.4 328.62 L928.58 326.65 L928.62 324.65 L928.5 322.6 L928.5 322.6 L927.44 324.35 L926.55 326.15 L925.79 327.98 L925.16 329.84 L924.65 331.73 L924.24 333.64 L923.89 335.57 L923.59 337.51 L923.32 339.46 L923.05 341.41 L922.78 343.36 L922.48 345.3 L922.17 347.24 L921.82 349.17 L921.43 351.09 L921 353Z" fill="#b06a1c" stroke="#3a2006" stroke-width="0.95" stroke-linejoin="round"/>
<path d="M923.62 342.36 L927 328.68" stroke="#f0b848" stroke-width="0.9" opacity="0.8"/>
<path d="M920.8 427.5 L951.3 365.5 L968.3 333.9" fill="none" stroke="#a87020" stroke-width="0.7" stroke-linejoin="round" opacity="0.8"/>
<path d="M951.3 365.5 L952.4 363.54 L953.53 361.61 L954.71 359.69 L955.9 357.79 L957.13 355.9 L958.36 354.02 L959.61 352.14 L960.85 350.26 L962.07 348.37 L963.24 346.46 L964.35 344.51 L965.38 342.51 L966.3 340.46 L967.1 338.35 L967.77 336.16 L968.3 333.9 L968.3 333.9 L966.7 335.59 L965.25 337.35 L963.93 339.19 L962.72 341.09 L961.62 343.04 L960.61 345.04 L959.66 347.08 L958.75 349.14 L957.87 351.21 L956.99 353.28 L956.1 355.35 L955.2 357.41 L954.27 359.46 L953.32 361.49 L952.33 363.51 L951.3 365.5Z" fill="#b06a1c" stroke="#3a2006" stroke-width="0.95" stroke-linejoin="round"/>
<path d="M957.25 354.44 L964.9 340.22" stroke="#f0b848" stroke-width="0.9" opacity="0.8"/>
<path d="M944.8 427.5 L990.5 373 L1013.2 350.3" fill="none" stroke="#a87020" stroke-width="0.7" stroke-linejoin="round" opacity="0.8"/>
<path d="M990.5 373 L991.95 371.61 L993.43 370.25 L994.93 368.92 L996.46 367.61 L998.01 366.32 L999.57 365.04 L1001.13 363.77 L1002.69 362.49 L1004.23 361.2 L1005.74 359.87 L1007.2 358.49 L1008.59 357.04 L1009.89 355.51 L1011.1 353.88 L1012.21 352.15 L1013.2 350.3 L1013.2 350.3 L1011.35 351.29 L1009.62 352.4 L1007.99 353.61 L1006.46 354.91 L1005.01 356.3 L1003.63 357.76 L1002.3 359.27 L1001.01 360.81 L999.73 362.37 L998.46 363.93 L997.18 365.49 L995.89 367.04 L994.58 368.57 L993.25 370.07 L991.89 371.55 L990.5 373Z" fill="#b06a1c" stroke="#3a2006" stroke-width="0.95" stroke-linejoin="round"/>
<path d="M998.45 365.06 L1008.66 354.84" stroke="#f0b848" stroke-width="0.9" opacity="0.8"/>
<path d="M963.3 427.5 L1013.2 390.8 L1040.4 373.7" fill="none" stroke="#a87020" stroke-width="0.7" stroke-linejoin="round" opacity="0.8"/>
<path d="M1013.2 390.8 L1014.92 389.76 L1016.67 388.77 L1018.43 387.8 L1020.21 386.87 L1022.01 385.95 L1023.82 385.05 L1025.63 384.16 L1027.43 383.26 L1029.23 382.34 L1031 381.38 L1032.72 380.36 L1034.4 379.25 L1036.02 378.05 L1037.56 376.72 L1039.02 375.28 L1040.4 373.7 L1040.4 373.7 L1038.38 374.25 L1036.44 374.95 L1034.58 375.77 L1032.8 376.7 L1031.08 377.73 L1029.4 378.85 L1027.77 380.02 L1026.17 381.24 L1024.57 382.48 L1022.98 383.72 L1021.39 384.96 L1019.79 386.18 L1018.17 387.38 L1016.53 388.56 L1014.88 389.7 L1013.2 390.8Z" fill="#b06a1c" stroke="#3a2006" stroke-width="0.95" stroke-linejoin="round"/>
<path d="M1022.72 384.81 L1034.96 377.12" stroke="#f0b848" stroke-width="0.9" opacity="0.8"/>
<path d="M987.3 427.5 L1032.2 406 L1063.1 392.7" fill="none" stroke="#a87020" stroke-width="0.7" stroke-linejoin="round" opacity="0.8"/>
<path d="M1032.2 406 L1034.15 405.2 L1036.11 404.45 L1038.09 403.73 L1040.08 403.04 L1042.09 402.38 L1044.1 401.73 L1046.11 401.09 L1048.12 400.44 L1050.12 399.77 L1052.1 399.06 L1054.06 398.28 L1055.97 397.41 L1057.84 396.43 L1059.65 395.32 L1061.41 394.09 L1063.1 392.7 L1063.1 392.7 L1060.93 392.97 L1058.82 393.4 L1056.77 393.96 L1054.78 394.64 L1052.83 395.43 L1050.92 396.32 L1049.04 397.26 L1047.18 398.26 L1045.33 399.27 L1043.48 400.29 L1041.63 401.31 L1039.77 402.31 L1037.9 403.28 L1036.01 404.22 L1034.12 405.13 L1032.2 406Z" fill="#b06a1c" stroke="#3a2006" stroke-width="0.95" stroke-linejoin="round"/>
<path d="M1043.02 401.34 L1056.92 395.36" stroke="#f0b848" stroke-width="0.9" opacity="0.8"/>
<rect x="864.2" y="418.8" width="29.6" height="4.5" fill="#000"/>
<text x="860" y="413.5" font-size="11.8" text-anchor="start" font-weight="normal" fill="#111" stroke="#111" stroke-width="0.28" >500 μm</text>
<text x="955.8" y="439.6" font-size="13.6" text-anchor="middle" font-weight="normal" fill="#111" stroke="#111" stroke-width="0.28" >Wind speed (m/s)</text>
<rect x="876" y="445.6" width="151" height="2.6" fill="url(#wgrad)"/><path d="M1034 446.9 L1024.5 442.2 L1026.5 446.9 L1024.5 451.6 Z" fill="#000"/>
<text x="868.5" y="450.6" font-size="12.5" text-anchor="start" font-weight="normal" fill="#111" stroke="#111" stroke-width="0.28" >0</text>
<text x="1034" y="450.6" font-size="12.5" text-anchor="start" font-weight="normal" fill="#111" stroke="#111" stroke-width="0.28" >12.84</text>
<rect x="780.3" y="304" width="288.7" height="232.5" fill="none" stroke="#1a1a1a" stroke-width="1.3"/>
<path d="M790.4 536.5v4.5M831.72 536.5v4.5M873.03 536.5v4.5M914.35 536.5v4.5M955.67 536.5v4.5M996.98 536.5v4.5M1038.3 536.5v4.5M811.06 536.5v2.5M852.38 536.5v2.5M893.69 536.5v2.5M935.01 536.5v2.5M976.32 536.5v2.5M1017.64 536.5v2.5M1058.96 536.5v2.5" stroke="#1a1a1a" stroke-width="1.2" fill="none"/>
<text x="790.4" y="555.6" font-size="16.5" text-anchor="middle" font-weight="normal" fill="#111" stroke="#111" stroke-width="0.28" >0</text>
<text x="831.72" y="555.6" font-size="16.5" text-anchor="middle" font-weight="normal" fill="#111" stroke="#111" stroke-width="0.28" >2</text>
<text x="873.03" y="555.6" font-size="16.5" text-anchor="middle" font-weight="normal" fill="#111" stroke="#111" stroke-width="0.28" >4</text>
<text x="914.35" y="555.6" font-size="16.5" text-anchor="middle" font-weight="normal" fill="#111" stroke="#111" stroke-width="0.28" >6</text>
<text x="955.67" y="555.6" font-size="16.5" text-anchor="middle" font-weight="normal" fill="#111" stroke="#111" stroke-width="0.28" >8</text>
<text x="996.98" y="555.6" font-size="16.5" text-anchor="middle" font-weight="normal" fill="#111" stroke="#111" stroke-width="0.28" >10</text>
<text x="1038.3" y="555.6" font-size="16.5" text-anchor="middle" font-weight="normal" fill="#111" stroke="#111" stroke-width="0.28" >12</text>
<path d="M780.3 505.3h-4.5M780.3 443.33h-4.5M780.3 381.37h-4.5M780.3 319.4h-4.5M780.3 474.32h-2.5M780.3 412.35h-2.5M780.3 350.38h-2.5" stroke="#1a1a1a" stroke-width="1.2" fill="none"/>
<text x="774.1" y="510.4" font-size="16.5" text-anchor="end" font-weight="normal" fill="#111" stroke="#111" stroke-width="0.28" >0.7</text>
<text x="774.1" y="448.43" font-size="16.5" text-anchor="end" font-weight="normal" fill="#111" stroke="#111" stroke-width="0.28" >0.8</text>
<text x="774.1" y="386.47" font-size="16.5" text-anchor="end" font-weight="normal" fill="#111" stroke="#111" stroke-width="0.28" >0.9</text>
<text x="774.1" y="324.5" font-size="16.5" text-anchor="end" font-weight="normal" fill="#111" stroke="#111" stroke-width="0.28" >1.0</text>
<text x="923.8" y="572.5" font-size="17" text-anchor="middle" font-weight="normal" fill="#111" stroke="#111" stroke-width="0.28" >Wind speed (m/s)</text>
<text transform="translate(745,420) rotate(-90)" x="0" y="0" font-size="17" text-anchor="middle" fill="#111" stroke="#111" stroke-width="0.28">Intensity (a.u.)</text>
<path d="M790.4 319.4 L800.11 344.19 L811.06 378.27 L821.39 401.82 L831.72 426.6 L846.59 448.29 L855.47 456.97 L873.03 468.74 L897.2 479.89 L928.81 492.91 L967.24 505.92 L1055.65 526.37" fill="none" stroke="#1a1a1a" stroke-width="1.3" stroke-linejoin="round" />
<circle cx="790.4" cy="319.4" r="3.3" fill="url(#sph)" stroke="#000" stroke-width="0.6"/>
<path d="M800.11 339.69V348.69M796.81 339.69h6.6M796.81 348.69h6.6" stroke="#111" stroke-width="1.1" fill="none"/>
<circle cx="800.11" cy="344.19" r="3.3" fill="url(#sph)" stroke="#000" stroke-width="0.6"/>
<path d="M811.06 373.77V382.77M807.76 373.77h6.6M807.76 382.77h6.6" stroke="#111" stroke-width="1.1" fill="none"/>
<circle cx="811.06" cy="378.27" r="3.3" fill="url(#sph)" stroke="#000" stroke-width="0.6"/>
<path d="M821.39 397.32V406.32M818.09 397.32h6.6M818.09 406.32h6.6" stroke="#111" stroke-width="1.1" fill="none"/>
<circle cx="821.39" cy="401.82" r="3.3" fill="url(#sph)" stroke="#000" stroke-width="0.6"/>
<path d="M831.72 422.1V431.1M828.42 422.1h6.6M828.42 431.1h6.6" stroke="#111" stroke-width="1.1" fill="none"/>
<circle cx="831.72" cy="426.6" r="3.3" fill="url(#sph)" stroke="#000" stroke-width="0.6"/>
<path d="M846.59 443.79V452.79M843.29 443.79h6.6M843.29 452.79h6.6" stroke="#111" stroke-width="1.1" fill="none"/>
<circle cx="846.59" cy="448.29" r="3.3" fill="url(#sph)" stroke="#000" stroke-width="0.6"/>
<path d="M855.47 452.47V461.47M852.17 452.47h6.6M852.17 461.47h6.6" stroke="#111" stroke-width="1.1" fill="none"/>
<circle cx="855.47" cy="456.97" r="3.3" fill="url(#sph)" stroke="#000" stroke-width="0.6"/>
<path d="M873.03 464.24V473.24M869.73 464.24h6.6M869.73 473.24h6.6" stroke="#111" stroke-width="1.1" fill="none"/>
<circle cx="873.03" cy="468.74" r="3.3" fill="url(#sph)" stroke="#000" stroke-width="0.6"/>
<path d="M897.2 475.39V484.39M893.9 475.39h6.6M893.9 484.39h6.6" stroke="#111" stroke-width="1.1" fill="none"/>
<circle cx="897.2" cy="479.89" r="3.3" fill="url(#sph)" stroke="#000" stroke-width="0.6"/>
<path d="M928.81 488.41V497.41M925.51 488.41h6.6M925.51 497.41h6.6" stroke="#111" stroke-width="1.1" fill="none"/>
<circle cx="928.81" cy="492.91" r="3.3" fill="url(#sph)" stroke="#000" stroke-width="0.6"/>
<path d="M967.24 501.42V510.42M963.94 501.42h6.6M963.94 510.42h6.6" stroke="#111" stroke-width="1.1" fill="none"/>
<circle cx="967.24" cy="505.92" r="3.3" fill="url(#sph)" stroke="#000" stroke-width="0.6"/>
<path d="M1055.65 521.87V530.87M1052.35 521.87h6.6M1052.35 530.87h6.6" stroke="#111" stroke-width="1.1" fill="none"/>
<circle cx="1055.65" cy="526.37" r="3.3" fill="url(#sph)" stroke="#000" stroke-width="0.6"/>
<text x="5.5" y="595.3" font-size="20" text-anchor="start" font-weight="bold" fill="#000" >G</text>
<g clip-path="url(#gclip)">
<path d="M51.5 826.37 L52.3 826.44 L53.1 826.29 L53.9 826.11 L54.7 825.88 L55.5 825.99 L56.3 825.87 L57.1 825.61 L57.9 825.46 L58.7 825.18 L59.5 824.9 L60.3 824.84 L61.1 824.7 L61.9 824.27 L62.7 824.33 L63.5 823.86 L64.3 823.62 L65.1 823.3 L65.9 823.42 L66.7 823.06 L67.5 822.85 L68.3 822.47 L69.1 821.96 L69.9 821.8 L70.7 821.58 L71.5 821.14 L72.3 821.18 L73.1 820.64 L73.9 820.25 L74.7 820.2 L75.5 819.61 L76.3 819.6 L77.1 819.09 L77.9 818.8 L78.7 818.38 L79.5 818.09 L80.3 817.64 L81.1 817.24 L81.9 817.24 L82.7 816.66 L83.5 816.56 L84.3 816.02 L85.1 816 L85.9 815.65 L86.7 815.27 L87.5 814.94 L88.3 814.53 L89.1 814.24 L89.9 813.63 L90.7 813.39 L91.5 813.14 L92.3 812.46 L93.1 812.31 L93.9 811.85 L94.7 811.15 L95.5 810.61 L96.3 810.13 L97.1 809.49 L97.9 809.12 L98.7 808.25 L99.5 807.39 L100.3 806.69 L101.1 806.22 L101.9 805.55 L102.7 804.53 L103.5 803.71 L104.3 802.91 L105.1 802.09 L105.9 800.99 L106.7 800.25 L107.5 799.29 L108.3 798.36 L109.1 797.23 L109.9 796.26 L110.7 795.33 L111.5 794.56 L112.3 793.33 L113.1 792.41 L113.9 791.27 L114.7 790.16 L115.5 789.11 L116.3 788.37 L117.1 787.32 L117.9 786.12 L118.7 785.21 L119.5 784.17 L120.3 783.23 L121.1 782.2 L121.9 780.91 L122.7 780.07 L123.5 778.95 L124.3 777.67 L125.1 776.65 L125.9 775.33 L126.7 774.11 L127.5 772.88 L128.3 771.95 L129.1 770.47 L129.9 769.24 L130.7 768.35 L131.5 767.16 L132.3 765.86 L133.1 764.85 L133.9 763.4 L134.7 762.34 L135.5 761.24 L136.3 760.23 L137.1 759.06 L137.9 757.99 L138.7 757.13 L139.5 756.38 L140.3 755.45 L141.1 754.42 L141.9 753.37 L142.7 752.32 L143.5 751.64 L144.3 750.5 L145.1 749.63 L145.9 748.41 L146.7 747.55 L147.5 746.92 L148.3 746.03 L149.1 745.26 L149.9 744.38 L150.7 743.54 L151.5 743 L152.3 742.5 L153.1 741.75 L153.9 741.44 L154.7 740.94 L155.5 740.91 L156.3 740.46 L157.1 740.59 L157.9 740.7 L158.7 740.33 L159.5 740.56 L160.3 740.59 L161.1 740.69 L161.9 740.6 L162.7 740.51 L163.5 740.6 L164.3 740.88 L165.1 740.92 L165.9 740.7 L166.7 740.77 L167.5 740.89 L168.3 740.98 L169.1 741.31 L169.9 741.35 L170.7 741.84 L171.5 741.96 L172.3 741.96 L173.1 742.36 L173.9 742.52 L174.7 742.84 L175.5 743 L176.3 743.27 L177.1 743.57 L177.9 743.95 L178.7 744.4 L179.5 744.66 L180.3 744.78 L181.1 745.4 L181.9 745.81 L182.7 746.12 L183.5 746.5 L184.3 746.55 L185.1 747.11 L185.9 747.33 L186.7 748 L187.5 748.15 L188.3 748.76 L189.1 748.97 L189.9 749.55 L190.7 749.81 L191.5 750.12 L192.3 750.71 L193.1 751.14 L193.9 751.85 L194.7 752.1 L195.5 752.68 L196.3 753.2 L197.1 753.87 L197.9 754.04 L198.7 754.75 L199.5 755.21 L200.3 755.8 L201.1 756.41 L201.9 756.65 L202.7 757.31 L203.5 757.75 L204.3 758.27 L205.1 758.59 L205.9 759.41 L206.7 760 L207.5 760.28 L208.3 760.79 L209.1 761.58 L209.9 761.75 L210.7 762.27 L211.5 762.81 L212.3 763.64 L213.1 764.15 L213.9 764.56 L214.7 765.16 L215.5 765.45 L216.3 766.24 L217.1 766.69 L217.9 767.26 L218.7 767.74 L219.5 768.27 L220.3 768.73 L221.1 769.19 L221.9 769.87 L222.7 770.32 L223.5 771.03 L224.3 771.59 L225.1 772.07 L225.9 772.48 L226.7 772.9 L227.5 773.48 L228.3 774.03 L229.1 774.58 L229.9 775.2 L230.7 775.35 L231.5 776 L232.3 776.49 L233.1 777.07 L233.9 777.6 L234.7 778.02 L235.5 778.42 L236.3 778.94 L237.1 779.36 L237.9 779.89 L238.7 780.26 L239.5 780.68 L240.3 780.93 L241.1 781.63 L241.9 781.84 L242.7 782.33 L243.5 782.82 L244.3 783.27 L245.1 783.68 L245.9 783.68 L246.7 784.19 L247.5 784.57 L248.3 784.98 L249.1 785.26 L249.9 785.8 L250.7 785.98 L251.5 786.43 L252.3 787.05 L253.1 787.34 L253.9 787.59 L254.7 787.81 L255.5 788.51 L256.3 788.77 L257.1 788.93 L257.9 789.34 L258.7 789.82 L259.5 790.2 L260.3 790.39 L261.1 791.03 L261.9 791.14 L262.7 791.48 L263.5 792.08 L264.3 792.17 L265.1 792.75 L265.9 792.94 L266.7 793.48 L267.5 793.73 L268.3 794.15 L269.1 794.76 L269.9 794.96 L270.7 795.35 L271.5 795.82 L272.3 796.08 L273.1 796.44 L273.9 796.92 L274.7 797.28 L275.5 797.65 L276.3 798.37 L277.1 798.4 L277.9 799.12 L278.7 799.58 L279.5 799.9 L280.3 800.03 L281.1 800.63 L281.9 800.85 L282.7 801.49 L283.5 801.93 L284.3 802.15 L285.1 802.46 L285.9 803.08 L286.7 803.3 L287.5 803.79 L288.3 804.25 L289.1 804.82 L289.9 805.01 L290.7 805.31 L291.5 805.96 L292.3 806.37 L293.1 806.63 L293.9 806.82 L294.7 807.26 L295.5 807.73 L296.3 808.16 L297.1 808.41 L297.9 809.02 L298.7 809.41 L299.5 809.81 L300.3 810.17 L301.1 810.2 L301.9 810.8 L302.7 810.97 L303.5 811.67 L304.3 811.97 L305.1 812.35 L305.9 812.49 L306.7 812.8 L307.5 813.47 L308.3 813.75 L309.1 814.11 L309.9 814.41 L310.7 814.89 L311.5 815.06 L312.3 815.39 L313.1 815.77 L313.9 816.09 L314.7 816.56 L315.5 817.01 L316.3 817.01 L317.1 817.34 L317.9 817.85 L318.7 818.24 L319.5 818.37 L320.3 818.71 L321.1 818.94 L321.9 819.24 L322.7 819.73 L323.5 820.1 L324.3 820.38 L325.1 820.46 L325.9 820.71 L326.7 821.31 L327.5 821.42 L328.3 821.63 L329.1 822 L329.9 822.26 L330.7 822.43 L331.5 822.5 L332.3 823.04 L333.1 823.03 L333.9 823.21 L334.7 823.57 L335.5 823.88 L336.3 824.16 L337.1 824.22 L337.9 824.68 L338.7 824.84 L339.5 824.96 L340.3 825.48" fill="none" stroke="#f9e6d8" stroke-width="1.00151968627451" stroke-linejoin="round" />
<path d="M51.5 826.66 L52.3 826.44 L53.1 826.35 L53.9 826.26 L54.7 825.86 L55.5 825.86 L56.3 825.8 L57.1 825.62 L57.9 825.32 L58.7 824.95 L59.5 824.82 L60.3 824.81 L61.1 824.19 L61.9 824.01 L62.7 824 L63.5 823.51 L64.3 823.13 L65.1 822.9 L65.9 822.83 L66.7 822.31 L67.5 822.05 L68.3 821.82 L69.1 821.58 L69.9 821.15 L70.7 820.67 L71.5 820.54 L72.3 820.01 L73.1 819.7 L73.9 819.4 L74.7 819.27 L75.5 818.76 L76.3 818.57 L77.1 818.01 L77.9 817.63 L78.7 817.23 L79.5 817.13 L80.3 816.82 L81.1 816.2 L81.9 815.84 L82.7 815.39 L83.5 815.28 L84.3 814.79 L85.1 814.37 L85.9 814.22 L86.7 813.84 L87.5 813.41 L88.3 812.91 L89.1 812.72 L89.9 812.29 L90.7 811.81 L91.5 811.28 L92.3 811.14 L93.1 810.62 L93.9 810.07 L94.7 809.67 L95.5 808.94 L96.3 808.28 L97.1 807.58 L97.9 807.11 L98.7 806.41 L99.5 805.66 L100.3 805.11 L101.1 804.28 L101.9 803.2 L102.7 802.64 L103.5 801.41 L104.3 800.79 L105.1 799.74 L105.9 798.95 L106.7 798.09 L107.5 796.96 L108.3 796.04 L109.1 794.75 L109.9 793.99 L110.7 792.74 L111.5 791.82 L112.3 790.73 L113.1 789.57 L113.9 788.76 L114.7 787.42 L115.5 786.41 L116.3 785.26 L117.1 784.41 L117.9 783.18 L118.7 782 L119.5 780.91 L120.3 779.91 L121.1 778.96 L121.9 777.66 L122.7 776.56 L123.5 775.71 L124.3 774.51 L125.1 773.18 L125.9 772.09 L126.7 770.83 L127.5 769.69 L128.3 768.53 L129.1 767.26 L129.9 766.04 L130.7 764.84 L131.5 763.67 L132.3 762.58 L133.1 761.51 L133.9 760.25 L134.7 759.01 L135.5 757.68 L136.3 756.64 L137.1 755.73 L137.9 754.55 L138.7 753.69 L139.5 752.73 L140.3 751.5 L141.1 750.56 L141.9 749.58 L142.7 748.78 L143.5 747.59 L144.3 746.69 L145.1 745.96 L145.9 744.81 L146.7 744.1 L147.5 742.95 L148.3 742.25 L149.1 741.23 L149.9 740.28 L150.7 739.72 L151.5 738.81 L152.3 738.49 L153.1 737.81 L153.9 737.2 L154.7 736.97 L155.5 736.42 L156.3 736.36 L157.1 736.11 L157.9 735.75 L158.7 735.79 L159.5 736.01 L160.3 735.72 L161.1 736.08 L161.9 735.73 L162.7 736.04 L163.5 736.03 L164.3 735.99 L165.1 736.13 L165.9 736.19 L166.7 736.2 L167.5 736.27 L168.3 736.31 L169.1 736.69 L169.9 736.94 L170.7 736.92 L171.5 737.32 L172.3 737.35 L173.1 737.52 L173.9 737.99 L174.7 738.3 L175.5 738.23 L176.3 738.82 L177.1 738.9 L177.9 739.38 L178.7 739.51 L179.5 740.12 L180.3 740.19 L181.1 740.48 L181.9 740.77 L182.7 741.17 L183.5 741.51 L184.3 742.18 L185.1 742.25 L185.9 742.67 L186.7 743.11 L187.5 743.47 L188.3 744.12 L189.1 744.23 L189.9 744.9 L190.7 745.18 L191.5 745.53 L192.3 746 L193.1 746.58 L193.9 746.94 L194.7 747.49 L195.5 747.99 L196.3 748.55 L197.1 749.13 L197.9 749.49 L198.7 750.13 L199.5 750.69 L200.3 751.03 L201.1 751.74 L201.9 751.98 L202.7 752.66 L203.5 753.12 L204.3 753.55 L205.1 754.28 L205.9 754.89 L206.7 755.28 L207.5 755.76 L208.3 756.52 L209.1 757.09 L209.9 757.48 L210.7 758 L211.5 758.57 L212.3 759.14 L213.1 759.68 L213.9 760.17 L214.7 760.8 L215.5 761.35 L216.3 761.85 L217.1 762.35 L217.9 762.84 L218.7 763.32 L219.5 763.99 L220.3 764.45 L221.1 765.06 L221.9 765.48 L222.7 766.31 L223.5 766.54 L224.3 767.38 L225.1 767.78 L225.9 768.45 L226.7 768.97 L227.5 769.21 L228.3 769.77 L229.1 770.58 L229.9 770.95 L230.7 771.22 L231.5 771.81 L232.3 772.25 L233.1 772.83 L233.9 773.22 L234.7 773.68 L235.5 774.16 L236.3 774.82 L237.1 775.4 L237.9 775.79 L238.7 776.3 L239.5 776.73 L240.3 776.97 L241.1 777.65 L241.9 778.02 L242.7 778.42 L243.5 779.05 L244.3 779.27 L245.1 779.77 L245.9 780.23 L246.7 780.53 L247.5 780.8 L248.3 781.23 L249.1 781.67 L249.9 782.02 L250.7 782.49 L251.5 782.76 L252.3 783.44 L253.1 783.84 L253.9 784.19 L254.7 784.36 L255.5 784.79 L256.3 785.45 L257.1 785.84 L257.9 786.18 L258.7 786.64 L259.5 786.78 L260.3 787.2 L261.1 787.66 L261.9 788.08 L262.7 788.46 L263.5 788.83 L264.3 789.48 L265.1 789.64 L265.9 790.21 L266.7 790.74 L267.5 790.91 L268.3 791.43 L269.1 791.89 L269.9 792.3 L270.7 793 L271.5 793.44 L272.3 793.61 L273.1 794.05 L273.9 794.74 L274.7 795.18 L275.5 795.46 L276.3 796.26 L277.1 796.74 L277.9 797.09 L278.7 797.38 L279.5 797.9 L280.3 798.63 L281.1 799.03 L281.9 799.4 L282.7 800.06 L283.5 800.16 L284.3 800.88 L285.1 801.39 L285.9 801.84 L286.7 801.99 L287.5 802.68 L288.3 803.07 L289.1 803.53 L289.9 803.78 L290.7 804.53 L291.5 804.96 L292.3 805.05 L293.1 805.65 L293.9 806.06 L294.7 806.44 L295.5 806.81 L296.3 807.18 L297.1 807.78 L297.9 808.1 L298.7 808.48 L299.5 808.91 L300.3 809.22 L301.1 809.87 L301.9 810.22 L302.7 810.42 L303.5 810.83 L304.3 811.32 L305.1 811.75 L305.9 812.25 L306.7 812.65 L307.5 812.69 L308.3 813.39 L309.1 813.44 L309.9 814.04 L310.7 814.49 L311.5 814.63 L312.3 815.02 L313.1 815.32 L313.9 815.83 L314.7 816.35 L315.5 816.37 L316.3 817.03 L317.1 817.23 L317.9 817.79 L318.7 817.98 L319.5 818.28 L320.3 818.53 L321.1 819.08 L321.9 819.25 L322.7 819.66 L323.5 819.95 L324.3 820.31 L325.1 820.4 L325.9 820.6 L326.7 820.91 L327.5 821.36 L328.3 821.42 L329.1 821.65 L329.9 822.03 L330.7 822.41 L331.5 822.47 L332.3 822.76 L333.1 822.94 L333.9 823.53 L334.7 823.74 L335.5 824.02 L336.3 824.12 L337.1 824.27 L337.9 824.47 L338.7 824.75 L339.5 825.18 L340.3 825.34" fill="none" stroke="#f9dfcf" stroke-width="1.0160897254901962" stroke-linejoin="round" />
<path d="M51.5 826.57 L52.3 826.48 L53.1 826.25 L53.9 826.09 L54.7 825.89 L55.5 825.96 L56.3 825.5 L57.1 825.26 L57.9 825.1 L58.7 824.87 L59.5 824.66 L60.3 824.37 L61.1 824.02 L61.9 823.82 L62.7 823.53 L63.5 823.33 L64.3 822.88 L65.1 822.52 L65.9 822.26 L66.7 822.07 L67.5 821.7 L68.3 821.51 L69.1 821.21 L69.9 820.73 L70.7 820.27 L71.5 820.19 L72.3 819.86 L73.1 819.38 L73.9 819.13 L74.7 818.63 L75.5 818.53 L76.3 818.13 L77.1 817.74 L77.9 817.44 L78.7 816.76 L79.5 816.5 L80.3 816.19 L81.1 815.83 L81.9 815.28 L82.7 814.8 L83.5 814.62 L84.3 814.04 L85.1 813.9 L85.9 813.24 L86.7 813.04 L87.5 812.67 L88.3 812.12 L89.1 811.86 L89.9 811.45 L90.7 810.95 L91.5 810.71 L92.3 810.24 L93.1 809.74 L93.9 808.97 L94.7 808.36 L95.5 807.92 L96.3 807.22 L97.1 806.85 L97.9 805.99 L98.7 805.24 L99.5 804.59 L100.3 803.84 L101.1 803.17 L101.9 802.25 L102.7 801.31 L103.5 800.56 L104.3 799.4 L105.1 798.53 L105.9 797.74 L106.7 796.78 L107.5 795.54 L108.3 794.5 L109.1 793.64 L109.9 792.66 L110.7 791.36 L111.5 790.45 L112.3 789.31 L113.1 788.16 L113.9 787.09 L114.7 786.04 L115.5 785.01 L116.3 783.76 L117.1 782.85 L117.9 781.85 L118.7 780.66 L119.5 779.32 L120.3 778.45 L121.1 777.35 L121.9 775.99 L122.7 775.02 L123.5 774.01 L124.3 772.98 L125.1 771.79 L125.9 770.47 L126.7 769.29 L127.5 768.23 L128.3 766.72 L129.1 765.62 L129.9 764.22 L130.7 763.29 L131.5 762.02 L132.3 760.64 L133.1 759.43 L133.9 758.36 L134.7 757.29 L135.5 755.88 L136.3 754.79 L137.1 753.77 L137.9 752.58 L138.7 751.74 L139.5 750.68 L140.3 749.78 L141.1 748.66 L141.9 747.71 L142.7 746.6 L143.5 745.73 L144.3 744.72 L145.1 743.77 L145.9 742.65 L146.7 742.02 L147.5 740.79 L148.3 740.03 L149.1 739.34 L149.9 738.32 L150.7 737.71 L151.5 736.71 L152.3 736.11 L153.1 735.47 L153.9 734.86 L154.7 734.44 L155.5 734.07 L156.3 733.86 L157.1 733.77 L157.9 733.27 L158.7 733.41 L159.5 733.35 L160.3 733.31 L161.1 733.17 L161.9 733.31 L162.7 733.32 L163.5 733.37 L164.3 733.51 L165.1 733.48 L165.9 733.53 L166.7 733.61 L167.5 734 L168.3 733.88 L169.1 734.25 L169.9 734.08 L170.7 734.47 L171.5 734.61 L172.3 734.9 L173.1 735.05 L173.9 735.43 L174.7 735.58 L175.5 735.63 L176.3 736.16 L177.1 736.44 L177.9 736.6 L178.7 737.1 L179.5 737.47 L180.3 737.59 L181.1 737.88 L181.9 738.29 L182.7 738.78 L183.5 739.09 L184.3 739.32 L185.1 739.86 L185.9 740.28 L186.7 740.69 L187.5 741.01 L188.3 741.58 L189.1 741.95 L189.9 742.2 L190.7 742.65 L191.5 743.3 L192.3 743.46 L193.1 744.01 L193.9 744.43 L194.7 745.03 L195.5 745.61 L196.3 745.85 L197.1 746.39 L197.9 746.86 L198.7 747.41 L199.5 748.09 L200.3 748.6 L201.1 749.3 L201.9 749.62 L202.7 750.18 L203.5 750.5 L204.3 751.11 L205.1 751.66 L205.9 752.17 L206.7 752.92 L207.5 753.32 L208.3 753.75 L209.1 754.45 L209.9 754.84 L210.7 755.4 L211.5 756.12 L212.3 756.46 L213.1 757.28 L213.9 757.71 L214.7 758.11 L215.5 758.91 L216.3 759.58 L217.1 760.05 L217.9 760.64 L218.7 761.23 L219.5 761.52 L220.3 762.16 L221.1 762.81 L221.9 763.23 L222.7 764 L223.5 764.33 L224.3 764.71 L225.1 765.28 L225.9 765.95 L226.7 766.33 L227.5 767.1 L228.3 767.78 L229.1 768.28 L229.9 768.81 L230.7 769.03 L231.5 769.53 L232.3 770 L233.1 770.86 L233.9 770.99 L234.7 771.48 L235.5 772.2 L236.3 772.81 L237.1 773.14 L237.9 773.44 L238.7 773.9 L239.5 774.65 L240.3 775.04 L241.1 775.35 L241.9 776.09 L242.7 776.27 L243.5 776.64 L244.3 777.39 L245.1 777.44 L245.9 777.99 L246.7 778.35 L247.5 778.97 L248.3 779.33 L249.1 779.65 L249.9 780.2 L250.7 780.39 L251.5 781.15 L252.3 781.49 L253.1 781.69 L253.9 782.27 L254.7 782.54 L255.5 783.05 L256.3 783.34 L257.1 783.72 L257.9 784.26 L258.7 784.53 L259.5 785.32 L260.3 785.65 L261.1 785.83 L261.9 786.41 L262.7 786.69 L263.5 787.14 L264.3 787.68 L265.1 788.25 L265.9 788.43 L266.7 789.23 L267.5 789.42 L268.3 789.86 L269.1 790.47 L269.9 791.11 L270.7 791.4 L271.5 791.94 L272.3 792.61 L273.1 792.93 L273.9 793.38 L274.7 793.83 L275.5 794.47 L276.3 795.02 L277.1 795.51 L277.9 795.87 L278.7 796.31 L279.5 797.21 L280.3 797.6 L281.1 798.17 L281.9 798.66 L282.7 798.99 L283.5 799.39 L284.3 800.18 L285.1 800.63 L285.9 800.78 L286.7 801.48 L287.5 801.89 L288.3 802.17 L289.1 802.85 L289.9 803.34 L290.7 803.71 L291.5 804.09 L292.3 804.79 L293.1 805.15 L293.9 805.42 L294.7 806.06 L295.5 806.54 L296.3 806.76 L297.1 807.26 L297.9 807.49 L298.7 807.93 L299.5 808.64 L300.3 809.1 L301.1 809.51 L301.9 809.61 L302.7 810.24 L303.5 810.53 L304.3 810.87 L305.1 811.55 L305.9 811.64 L306.7 812.03 L307.5 812.54 L308.3 812.85 L309.1 813.35 L309.9 813.83 L310.7 814.17 L311.5 814.72 L312.3 814.93 L313.1 815.17 L313.9 815.7 L314.7 815.86 L315.5 816.48 L316.3 816.65 L317.1 817.13 L317.9 817.46 L318.7 818.01 L319.5 818.04 L320.3 818.43 L321.1 818.78 L321.9 819.19 L322.7 819.46 L323.5 820 L324.3 820.29 L325.1 820.59 L325.9 820.76 L326.7 821.1 L327.5 821.27 L328.3 821.4 L329.1 821.65 L329.9 821.92 L330.7 822.41 L331.5 822.62 L332.3 822.62 L333.1 822.97 L333.9 823.13 L334.7 823.56 L335.5 823.73 L336.3 824.04 L337.1 824.24 L337.9 824.51 L338.7 824.78 L339.5 825.17 L340.3 825.15" fill="none" stroke="#f9dbcb" stroke-width="1.0240370196078432" stroke-linejoin="round" />
<path d="M51.5 826.37 L52.3 826.43 L53.1 826.17 L53.9 825.95 L54.7 825.89 L55.5 825.7 L56.3 825.49 L57.1 825.26 L57.9 824.95 L58.7 824.69 L59.5 824.59 L60.3 824.15 L61.1 823.97 L61.9 823.69 L62.7 823.4 L63.5 823.1 L64.3 822.47 L65.1 822.13 L65.9 821.98 L66.7 821.57 L67.5 821.07 L68.3 820.91 L69.1 820.63 L69.9 820.26 L70.7 819.66 L71.5 819.33 L72.3 818.85 L73.1 818.87 L73.9 818.19 L74.7 818.02 L75.5 817.57 L76.3 817.2 L77.1 816.78 L77.9 816.5 L78.7 816 L79.5 815.47 L80.3 814.98 L81.1 814.71 L81.9 814.48 L82.7 813.75 L83.5 813.56 L84.3 813.13 L85.1 812.54 L85.9 812.14 L86.7 811.92 L87.5 811.41 L88.3 810.96 L89.1 810.55 L89.9 809.95 L90.7 809.71 L91.5 809.18 L92.3 808.67 L93.1 808.06 L93.9 807.7 L94.7 807.15 L95.5 806.44 L96.3 805.63 L97.1 805.02 L97.9 804.32 L98.7 803.56 L99.5 803.05 L100.3 802.19 L101.1 801.22 L101.9 800.65 L102.7 799.65 L103.5 798.76 L104.3 797.82 L105.1 796.8 L105.9 795.72 L106.7 794.87 L107.5 793.5 L108.3 792.67 L109.1 791.66 L109.9 790.42 L110.7 789.48 L111.5 788.11 L112.3 787.08 L113.1 785.91 L113.9 784.83 L114.7 783.8 L115.5 782.43 L116.3 781.37 L117.1 780.42 L117.9 779.05 L118.7 777.83 L119.5 777.04 L120.3 775.72 L121.1 774.38 L121.9 773.47 L122.7 772.15 L123.5 771 L124.3 770.09 L125.1 768.86 L125.9 767.57 L126.7 766.4 L127.5 765.2 L128.3 763.93 L129.1 762.56 L129.9 761.59 L130.7 760.35 L131.5 758.98 L132.3 757.74 L133.1 756.6 L133.9 755.32 L134.7 754.1 L135.5 753.1 L136.3 751.93 L137.1 750.47 L137.9 749.37 L138.7 748.51 L139.5 747.49 L140.3 746.39 L141.1 745.21 L141.9 744.11 L142.7 743.45 L143.5 742.53 L144.3 741.49 L145.1 740.5 L145.9 739.62 L146.7 738.49 L147.5 737.7 L148.3 736.5 L149.1 735.55 L149.9 734.98 L150.7 734.09 L151.5 733.38 L152.3 732.36 L153.1 731.77 L153.9 731.29 L154.7 730.49 L155.5 730.18 L156.3 729.9 L157.1 729.68 L157.9 729.44 L158.7 729.17 L159.5 729.09 L160.3 729.13 L161.1 729.22 L161.9 729.33 L162.7 728.95 L163.5 729.35 L164.3 729.34 L165.1 729.1 L165.9 729.25 L166.7 729.34 L167.5 729.42 L168.3 729.52 L169.1 729.64 L169.9 730.01 L170.7 730.08 L171.5 730.14 L172.3 730.64 L173.1 730.87 L173.9 730.88 L174.7 731.36 L175.5 731.62 L176.3 731.8 L177.1 731.9 L177.9 732.47 L178.7 732.85 L179.5 733.18 L180.3 733.55 L181.1 733.58 L181.9 734.26 L182.7 734.28 L183.5 734.77 L184.3 735.21 L185.1 735.65 L185.9 736 L186.7 736.55 L187.5 736.91 L188.3 737.36 L189.1 737.7 L189.9 738.03 L190.7 738.29 L191.5 738.96 L192.3 739.52 L193.1 739.67 L193.9 740.47 L194.7 740.56 L195.5 741.21 L196.3 741.86 L197.1 742.37 L197.9 742.84 L198.7 743.25 L199.5 743.77 L200.3 744.26 L201.1 744.99 L201.9 745.27 L202.7 745.84 L203.5 746.61 L204.3 747.04 L205.1 747.4 L205.9 748.1 L206.7 748.84 L207.5 749.23 L208.3 749.68 L209.1 750.18 L209.9 750.88 L210.7 751.33 L211.5 751.91 L212.3 752.38 L213.1 753.17 L213.9 753.8 L214.7 754.25 L215.5 754.86 L216.3 755.3 L217.1 756.15 L217.9 756.43 L218.7 757.24 L219.5 757.45 L220.3 758.28 L221.1 758.93 L221.9 759.38 L222.7 759.8 L223.5 760.33 L224.3 761.21 L225.1 761.77 L225.9 762.02 L226.7 762.66 L227.5 763.37 L228.3 763.92 L229.1 764.11 L229.9 764.84 L230.7 765.26 L231.5 765.74 L232.3 766.52 L233.1 766.96 L233.9 767.35 L234.7 768.05 L235.5 768.37 L236.3 768.86 L237.1 769.4 L237.9 769.87 L238.7 770.61 L239.5 770.85 L240.3 771.54 L241.1 771.92 L241.9 772.36 L242.7 773 L243.5 773.25 L244.3 773.53 L245.1 774.2 L245.9 774.4 L246.7 775.22 L247.5 775.7 L248.3 775.93 L249.1 776.24 L249.9 777 L250.7 777.13 L251.5 777.84 L252.3 778.1 L253.1 778.73 L253.9 779.18 L254.7 779.32 L255.5 779.8 L256.3 780.25 L257.1 780.6 L257.9 781.37 L258.7 781.56 L259.5 782.03 L260.3 782.45 L261.1 782.87 L261.9 783.6 L262.7 783.84 L263.5 784.51 L264.3 784.83 L265.1 785.59 L265.9 786.05 L266.7 786.59 L267.5 786.75 L268.3 787.53 L269.1 788.09 L269.9 788.47 L270.7 789.14 L271.5 789.53 L272.3 790.18 L273.1 790.85 L273.9 791.43 L274.7 791.81 L275.5 792.36 L276.3 793.2 L277.1 793.48 L277.9 794.15 L278.7 794.71 L279.5 795.27 L280.3 795.91 L281.1 796.3 L281.9 797 L282.7 797.62 L283.5 798.23 L284.3 798.62 L285.1 799.05 L285.9 799.59 L286.7 800.07 L287.5 800.56 L288.3 801.13 L289.1 801.66 L289.9 802.39 L290.7 802.8 L291.5 803.35 L292.3 803.66 L293.1 804.02 L293.9 804.64 L294.7 805.16 L295.5 805.74 L296.3 805.89 L297.1 806.56 L297.9 807.09 L298.7 807.32 L299.5 807.81 L300.3 808.09 L301.1 808.77 L301.9 808.96 L302.7 809.69 L303.5 810.12 L304.3 810.58 L305.1 811.02 L305.9 811.14 L306.7 811.88 L307.5 812.23 L308.3 812.75 L309.1 813.15 L309.9 813.39 L310.7 813.95 L311.5 814.09 L312.3 814.8 L313.1 815.07 L313.9 815.52 L314.7 815.8 L315.5 816.19 L316.3 816.44 L317.1 817.03 L317.9 817.29 L318.7 817.53 L319.5 818.1 L320.3 818.38 L321.1 818.66 L321.9 819.15 L322.7 819.33 L323.5 819.75 L324.3 820.01 L325.1 820.25 L325.9 820.53 L326.7 820.92 L327.5 821.04 L328.3 821.31 L329.1 821.63 L329.9 822.06 L330.7 822.11 L331.5 822.6 L332.3 822.68 L333.1 823.18 L333.9 823.09 L334.7 823.64 L335.5 823.88 L336.3 824.14 L337.1 824.31 L337.9 824.43 L338.7 824.96 L339.5 824.93 L340.3 825.39" fill="none" stroke="#f8d5c3" stroke-width="1.0372825098039216" stroke-linejoin="round" />
<path d="M51.5 826.51 L52.3 826.49 L53.1 826.42 L53.9 825.98 L54.7 825.96 L55.5 825.73 L56.3 825.47 L57.1 825.01 L57.9 824.71 L58.7 824.57 L59.5 824.41 L60.3 823.88 L61.1 823.63 L61.9 823.2 L62.7 823.05 L63.5 822.72 L64.3 822.13 L65.1 821.99 L65.9 821.24 L66.7 821.15 L67.5 820.8 L68.3 820.13 L69.1 819.96 L69.9 819.52 L70.7 819.3 L71.5 818.61 L72.3 818.36 L73.1 818.11 L73.9 817.61 L74.7 817.08 L75.5 816.58 L76.3 816.51 L77.1 815.91 L77.9 815.7 L78.7 814.93 L79.5 814.76 L80.3 814.31 L81.1 813.91 L81.9 813.11 L82.7 812.81 L83.5 812.24 L84.3 812.08 L85.1 811.49 L85.9 811.29 L86.7 810.61 L87.5 810.32 L88.3 809.89 L89.1 809.16 L89.9 808.81 L90.7 808.47 L91.5 807.77 L92.3 807.18 L93.1 806.59 L93.9 806.22 L94.7 805.39 L95.5 804.94 L96.3 804.26 L97.1 803.59 L97.9 802.71 L98.7 802.16 L99.5 801.49 L100.3 800.44 L101.1 799.57 L101.9 798.9 L102.7 797.87 L103.5 796.76 L104.3 795.66 L105.1 794.94 L105.9 793.75 L106.7 792.71 L107.5 791.55 L108.3 790.61 L109.1 789.52 L109.9 788.23 L110.7 787.01 L111.5 786.24 L112.3 785.05 L113.1 783.53 L113.9 782.58 L114.7 781.44 L115.5 780.14 L116.3 779.09 L117.1 777.99 L117.9 776.65 L118.7 775.38 L119.5 774.12 L120.3 772.96 L121.1 771.75 L121.9 770.56 L122.7 769.44 L123.5 768.51 L124.3 767.2 L125.1 766.13 L125.9 764.95 L126.7 763.68 L127.5 762.15 L128.3 761.25 L129.1 759.67 L129.9 758.7 L130.7 757.47 L131.5 756.14 L132.3 754.79 L133.1 753.42 L133.9 752.18 L134.7 751.17 L135.5 749.8 L136.3 748.72 L137.1 747.41 L137.9 746.22 L138.7 745.14 L139.5 744.19 L140.3 743.02 L141.1 741.95 L141.9 740.97 L142.7 740 L143.5 739 L144.3 738 L145.1 737.23 L145.9 736.16 L146.7 734.98 L147.5 734.06 L148.3 733.07 L149.1 732.21 L149.9 731.2 L150.7 730.62 L151.5 729.74 L152.3 728.93 L153.1 728.37 L153.9 727.5 L154.7 727.02 L155.5 726.58 L156.3 726.02 L157.1 725.66 L157.9 725.23 L158.7 725.33 L159.5 725.09 L160.3 724.83 L161.1 724.84 L161.9 724.94 L162.7 724.92 L163.5 724.94 L164.3 724.85 L165.1 725.05 L165.9 725.17 L166.7 725.27 L167.5 725.24 L168.3 725.35 L169.1 725.5 L169.9 725.66 L170.7 725.8 L171.5 725.8 L172.3 726.11 L173.1 726.62 L173.9 726.8 L174.7 726.9 L175.5 727.28 L176.3 727.35 L177.1 727.67 L177.9 728.06 L178.7 728.47 L179.5 728.53 L180.3 729.04 L181.1 729.57 L181.9 729.81 L182.7 730.33 L183.5 730.35 L184.3 731.06 L185.1 731.42 L185.9 731.51 L186.7 732.12 L187.5 732.62 L188.3 732.83 L189.1 733.42 L189.9 733.93 L190.7 734.34 L191.5 734.64 L192.3 734.93 L193.1 735.57 L193.9 735.9 L194.7 736.52 L195.5 736.91 L196.3 737.46 L197.1 738.06 L197.9 738.7 L198.7 739.3 L199.5 739.61 L200.3 739.99 L201.1 740.83 L201.9 741.2 L202.7 741.9 L203.5 742.47 L204.3 742.7 L205.1 743.52 L205.9 743.89 L206.7 744.45 L207.5 745.01 L208.3 745.66 L209.1 746.1 L209.9 746.77 L210.7 747.25 L211.5 747.75 L212.3 748.37 L213.1 749.12 L213.9 749.55 L214.7 750.08 L215.5 750.72 L216.3 751.24 L217.1 752.13 L217.9 752.63 L218.7 752.94 L219.5 753.58 L220.3 754.22 L221.1 754.84 L221.9 755.37 L222.7 756 L223.5 756.65 L224.3 756.97 L225.1 757.7 L225.9 758.12 L226.7 758.85 L227.5 759.34 L228.3 760.08 L229.1 760.63 L229.9 761.2 L230.7 761.52 L231.5 762.18 L232.3 762.56 L233.1 763.32 L233.9 763.85 L234.7 764.2 L235.5 764.66 L236.3 765.36 L237.1 765.91 L237.9 766.47 L238.7 766.77 L239.5 767.21 L240.3 767.65 L241.1 768.11 L241.9 768.57 L242.7 769.15 L243.5 769.79 L244.3 770.2 L245.1 770.8 L245.9 771.04 L246.7 771.44 L247.5 772.26 L248.3 772.41 L249.1 772.98 L249.9 773.57 L250.7 773.81 L251.5 774.51 L252.3 774.9 L253.1 775.24 L253.9 775.96 L254.7 776.44 L255.5 776.69 L256.3 776.97 L257.1 777.42 L257.9 778.22 L258.7 778.78 L259.5 779.19 L260.3 779.71 L261.1 780.17 L261.9 780.43 L262.7 780.95 L263.5 781.78 L264.3 782.33 L265.1 782.71 L265.9 783.14 L266.7 783.58 L267.5 784.26 L268.3 785.05 L269.1 785.37 L269.9 786.01 L270.7 786.47 L271.5 787.26 L272.3 787.65 L273.1 788.52 L273.9 789.1 L274.7 789.73 L275.5 790.31 L276.3 790.96 L277.1 791.81 L277.9 792.47 L278.7 793.04 L279.5 793.47 L280.3 794.11 L281.1 794.79 L281.9 795.6 L282.7 796.23 L283.5 796.54 L284.3 797.29 L285.1 797.76 L285.9 798.36 L286.7 798.81 L287.5 799.58 L288.3 800.15 L289.1 800.75 L289.9 801.11 L290.7 801.62 L291.5 802.22 L292.3 802.53 L293.1 803.35 L293.9 803.8 L294.7 804.09 L295.5 804.65 L296.3 805.18 L297.1 805.81 L297.9 806.23 L298.7 806.52 L299.5 807.28 L300.3 807.75 L301.1 808.19 L301.9 808.51 L302.7 808.97 L303.5 809.41 L304.3 810.09 L305.1 810.35 L305.9 810.99 L306.7 811.13 L307.5 811.51 L308.3 812.13 L309.1 812.46 L309.9 812.91 L310.7 813.25 L311.5 813.7 L312.3 814.25 L313.1 814.52 L313.9 815.01 L314.7 815.55 L315.5 815.8 L316.3 816.22 L317.1 816.63 L317.9 816.97 L318.7 817.46 L319.5 817.92 L320.3 817.99 L321.1 818.54 L321.9 818.89 L322.7 819.39 L323.5 819.63 L324.3 819.78 L325.1 820.24 L325.9 820.65 L326.7 820.96 L327.5 821.18 L328.3 821.19 L329.1 821.58 L329.9 821.89 L330.7 822.09 L331.5 822.53 L332.3 822.68 L333.1 823.13 L333.9 823 L334.7 823.58 L335.5 823.55 L336.3 823.97 L337.1 824.09 L337.9 824.44 L338.7 824.79 L339.5 825.2 L340.3 825.11" fill="none" stroke="#f8cfbc" stroke-width="1.0505280000000001" stroke-linejoin="round" />
<path d="M51.5 826.44 L52.3 826.36 L53.1 826.2 L53.9 826.03 L54.7 825.78 L55.5 825.66 L56.3 825.24 L57.1 825.12 L57.9 824.58 L58.7 824.38 L59.5 824.06 L60.3 823.63 L61.1 823.49 L61.9 822.93 L62.7 822.73 L63.5 822.39 L64.3 821.71 L65.1 821.56 L65.9 821.11 L66.7 820.64 L67.5 819.97 L68.3 819.74 L69.1 819.39 L69.9 818.86 L70.7 818.42 L71.5 818.05 L72.3 817.62 L73.1 817.42 L73.9 816.82 L74.7 816.43 L75.5 816.1 L76.3 815.79 L77.1 815.09 L77.9 814.55 L78.7 814.47 L79.5 813.95 L80.3 813.47 L81.1 812.89 L81.9 812.31 L82.7 811.8 L83.5 811.39 L84.3 810.99 L85.1 810.37 L85.9 810.16 L86.7 809.69 L87.5 808.93 L88.3 808.77 L89.1 808.13 L89.9 807.79 L90.7 807.09 L91.5 806.66 L92.3 805.96 L93.1 805.46 L93.9 804.8 L94.7 803.99 L95.5 803.41 L96.3 802.75 L97.1 802.12 L97.9 801.4 L98.7 800.67 L99.5 799.91 L100.3 799 L101.1 798.06 L101.9 797.21 L102.7 796.45 L103.5 795.39 L104.3 794.3 L105.1 793.31 L105.9 792.02 L106.7 790.85 L107.5 789.71 L108.3 788.6 L109.1 787.41 L109.9 786.48 L110.7 785.43 L111.5 783.95 L112.3 782.99 L113.1 781.89 L113.9 780.61 L114.7 779.16 L115.5 778.12 L116.3 776.74 L117.1 775.49 L117.9 774.19 L118.7 773.17 L119.5 772.1 L120.3 770.56 L121.1 769.37 L121.9 768.27 L122.7 766.93 L123.5 765.9 L124.3 764.8 L125.1 763.48 L125.9 762.09 L126.7 760.84 L127.5 759.66 L128.3 758.6 L129.1 757.43 L129.9 756 L130.7 754.58 L131.5 753.35 L132.3 752.17 L133.1 750.78 L133.9 749.53 L134.7 748.4 L135.5 747.32 L136.3 745.86 L137.1 744.91 L137.9 743.7 L138.7 742.37 L139.5 741.14 L140.3 740 L141.1 739.12 L141.9 738.15 L142.7 737.13 L143.5 735.87 L144.3 734.97 L145.1 733.83 L145.9 732.96 L146.7 731.97 L147.5 730.93 L148.3 729.96 L149.1 729.39 L149.9 728.2 L150.7 727.41 L151.5 726.57 L152.3 725.75 L153.1 725.05 L153.9 724.28 L154.7 723.66 L155.5 722.92 L156.3 722.59 L157.1 722.21 L157.9 721.85 L158.7 721.4 L159.5 721.3 L160.3 721.3 L161.1 721.2 L161.9 720.92 L162.7 721.03 L163.5 720.98 L164.3 721.23 L165.1 721.14 L165.9 721.2 L166.7 721.21 L167.5 721.39 L168.3 721.6 L169.1 721.69 L169.9 721.67 L170.7 721.9 L171.5 722.17 L172.3 722.14 L173.1 722.69 L173.9 722.58 L174.7 723.08 L175.5 723.15 L176.3 723.75 L177.1 723.94 L177.9 724.06 L178.7 724.48 L179.5 724.96 L180.3 725.3 L181.1 725.57 L181.9 725.93 L182.7 726.34 L183.5 726.79 L184.3 727.03 L185.1 727.46 L185.9 727.94 L186.7 728.24 L187.5 728.54 L188.3 729.11 L189.1 729.45 L189.9 730.03 L190.7 730.49 L191.5 731 L192.3 731.13 L193.1 731.54 L193.9 732.37 L194.7 732.77 L195.5 733.37 L196.3 733.82 L197.1 734.39 L197.9 734.61 L198.7 735.16 L199.5 735.88 L200.3 736.48 L201.1 736.77 L201.9 737.65 L202.7 737.91 L203.5 738.45 L204.3 739.09 L205.1 739.55 L205.9 740.06 L206.7 740.61 L207.5 741.15 L208.3 741.77 L209.1 742.56 L209.9 743.17 L210.7 743.74 L211.5 744.17 L212.3 744.89 L213.1 745.22 L213.9 746.1 L214.7 746.51 L215.5 746.98 L216.3 747.67 L217.1 748.19 L217.9 748.99 L218.7 749.43 L219.5 749.86 L220.3 750.53 L221.1 751.09 L221.9 752.04 L222.7 752.42 L223.5 753.13 L224.3 753.61 L225.1 754.12 L225.9 754.84 L226.7 755.38 L227.5 755.77 L228.3 756.71 L229.1 756.98 L229.9 757.63 L230.7 758.09 L231.5 758.9 L232.3 759.17 L233.1 759.69 L233.9 760.2 L234.7 760.83 L235.5 761.51 L236.3 761.89 L237.1 762.66 L237.9 762.92 L238.7 763.77 L239.5 763.92 L240.3 764.65 L241.1 764.85 L241.9 765.55 L242.7 766.14 L243.5 766.82 L244.3 767.05 L245.1 767.63 L245.9 767.75 L246.7 768.58 L247.5 768.98 L248.3 769.53 L249.1 770.19 L249.9 770.36 L250.7 770.9 L251.5 771.34 L252.3 771.73 L253.1 772.21 L253.9 772.87 L254.7 773.3 L255.5 773.86 L256.3 774.21 L257.1 774.55 L257.9 775.35 L258.7 776.02 L259.5 776.45 L260.3 776.82 L261.1 777.29 L261.9 778.05 L262.7 778.4 L263.5 779.13 L264.3 779.49 L265.1 780.37 L265.9 780.94 L266.7 781.22 L267.5 781.82 L268.3 782.58 L269.1 783.37 L269.9 783.96 L270.7 784.27 L271.5 784.92 L272.3 785.87 L273.1 786.34 L273.9 787.27 L274.7 787.79 L275.5 788.66 L276.3 789.1 L277.1 790.07 L277.9 790.56 L278.7 791.07 L279.5 791.86 L280.3 792.52 L281.1 793.33 L281.9 794.2 L282.7 794.86 L283.5 795.48 L284.3 795.92 L285.1 796.67 L285.9 797.28 L286.7 797.91 L287.5 798.56 L288.3 799.09 L289.1 799.64 L289.9 800.04 L290.7 800.54 L291.5 801.2 L292.3 801.69 L293.1 802.43 L293.9 802.72 L294.7 803.27 L295.5 804.01 L296.3 804.25 L297.1 804.78 L297.9 805.25 L298.7 805.77 L299.5 806.3 L300.3 807.05 L301.1 807.36 L301.9 807.79 L302.7 808.43 L303.5 808.86 L304.3 809.2 L305.1 809.7 L305.9 810.25 L306.7 810.79 L307.5 811.13 L308.3 811.71 L309.1 812.19 L309.9 812.82 L310.7 813.14 L311.5 813.46 L312.3 813.86 L313.1 814.27 L313.9 814.78 L314.7 815.43 L315.5 815.85 L316.3 815.93 L317.1 816.53 L317.9 816.97 L318.7 817.42 L319.5 817.75 L320.3 818.07 L321.1 818.21 L321.9 818.65 L322.7 819.28 L323.5 819.6 L324.3 819.92 L325.1 820.02 L325.9 820.51 L326.7 820.81 L327.5 820.95 L328.3 821.21 L329.1 821.54 L329.9 821.85 L330.7 821.91 L331.5 822.18 L332.3 822.83 L333.1 822.85 L333.9 823.12 L334.7 823.45 L335.5 823.68 L336.3 824.01 L337.1 824.21 L337.9 824.27 L338.7 824.54 L339.5 824.91 L340.3 825.22" fill="none" stroke="#f7c9b6" stroke-width="1.0624489411764706" stroke-linejoin="round" />
<path d="M51.5 826.69 L52.3 826.17 L53.1 826.33 L53.9 825.9 L54.7 825.98 L55.5 825.34 L56.3 825.4 L57.1 825.03 L57.9 824.78 L58.7 824.49 L59.5 823.83 L60.3 823.48 L61.1 823.21 L61.9 822.62 L62.7 822.19 L63.5 821.74 L64.3 821.55 L65.1 821.12 L65.9 820.65 L66.7 819.97 L67.5 819.81 L68.3 819.21 L69.1 818.65 L69.9 818.31 L70.7 817.86 L71.5 817.29 L72.3 817.05 L73.1 816.53 L73.9 816.18 L74.7 815.88 L75.5 815.32 L76.3 814.77 L77.1 814.49 L77.9 814.08 L78.7 813.4 L79.5 813.1 L80.3 812.24 L81.1 811.79 L81.9 811.31 L82.7 811.12 L83.5 810.52 L84.3 810.03 L85.1 809.37 L85.9 808.95 L86.7 808.6 L87.5 807.78 L88.3 807.27 L89.1 806.71 L89.9 806.33 L90.7 805.93 L91.5 805.23 L92.3 804.57 L93.1 804.01 L93.9 803.25 L94.7 802.9 L95.5 802.01 L96.3 801.25 L97.1 800.55 L97.9 800.01 L98.7 799.01 L99.5 798.41 L100.3 797.33 L101.1 796.46 L101.9 795.36 L102.7 794.72 L103.5 793.68 L104.3 792.47 L105.1 791.23 L105.9 790.27 L106.7 789.09 L107.5 788.1 L108.3 786.96 L109.1 785.71 L109.9 784.31 L110.7 783 L111.5 782.14 L112.3 780.94 L113.1 779.38 L113.9 778.27 L114.7 777.02 L115.5 775.95 L116.3 774.31 L117.1 773.05 L117.9 772.1 L118.7 770.72 L119.5 769.41 L120.3 768.28 L121.1 766.96 L121.9 765.75 L122.7 764.35 L123.5 763.05 L124.3 761.78 L125.1 760.68 L125.9 759.57 L126.7 758.19 L127.5 756.91 L128.3 755.76 L129.1 754.51 L129.9 753.18 L130.7 751.79 L131.5 750.71 L132.3 749.42 L133.1 748.17 L133.9 746.9 L134.7 745.28 L135.5 744.27 L136.3 742.89 L137.1 741.67 L137.9 740.5 L138.7 739.13 L139.5 738.02 L140.3 737.16 L141.1 735.75 L141.9 734.92 L142.7 733.78 L143.5 732.6 L144.3 731.59 L145.1 730.71 L145.9 729.77 L146.7 728.63 L147.5 727.53 L148.3 726.61 L149.1 725.93 L149.9 724.94 L150.7 723.79 L151.5 723.22 L152.3 722.27 L153.1 721.39 L153.9 720.88 L154.7 719.84 L155.5 719.24 L156.3 718.76 L157.1 718.39 L157.9 717.92 L158.7 717.52 L159.5 717.41 L160.3 717.05 L161.1 717.06 L161.9 716.69 L162.7 716.99 L163.5 716.74 L164.3 716.95 L165.1 717.06 L165.9 717.04 L166.7 717.07 L167.5 717.14 L168.3 717.33 L169.1 717.29 L169.9 717.37 L170.7 717.66 L171.5 717.82 L172.3 717.84 L173.1 718.22 L173.9 718.43 L174.7 718.55 L175.5 719.04 L176.3 719.34 L177.1 719.46 L177.9 719.98 L178.7 720.34 L179.5 720.54 L180.3 720.79 L181.1 721.08 L181.9 721.39 L182.7 721.82 L183.5 722.5 L184.3 722.52 L185.1 723.26 L185.9 723.58 L186.7 724.03 L187.5 724.19 L188.3 724.84 L189.1 725.1 L189.9 725.73 L190.7 726.23 L191.5 726.65 L192.3 727.03 L193.1 727.63 L193.9 727.83 L194.7 728.28 L195.5 729.06 L196.3 729.25 L197.1 729.92 L197.9 730.45 L198.7 731.18 L199.5 731.53 L200.3 732.16 L201.1 732.69 L201.9 733.24 L202.7 733.79 L203.5 734.35 L204.3 734.96 L205.1 735.46 L205.9 736.02 L206.7 736.78 L207.5 737.37 L208.3 737.65 L209.1 738.51 L209.9 738.73 L210.7 739.43 L211.5 740.25 L212.3 740.54 L213.1 741.33 L213.9 742.06 L214.7 742.5 L215.5 743.04 L216.3 743.47 L217.1 744.25 L217.9 744.85 L218.7 745.57 L219.5 746 L220.3 746.77 L221.1 747.23 L221.9 747.95 L222.7 748.61 L223.5 748.95 L224.3 749.82 L225.1 750.2 L225.9 750.83 L226.7 751.66 L227.5 752.12 L228.3 752.68 L229.1 753.09 L229.9 753.61 L230.7 754.4 L231.5 754.9 L232.3 755.59 L233.1 756.19 L233.9 756.72 L234.7 757.06 L235.5 757.78 L236.3 758.16 L237.1 758.65 L237.9 759.54 L238.7 760.1 L239.5 760.26 L240.3 761.02 L241.1 761.41 L241.9 761.8 L242.7 762.53 L243.5 763.25 L244.3 763.43 L245.1 764.05 L245.9 764.3 L246.7 764.76 L247.5 765.66 L248.3 766.27 L249.1 766.67 L249.9 767.17 L250.7 767.43 L251.5 767.89 L252.3 768.49 L253.1 769.16 L253.9 769.7 L254.7 770.14 L255.5 770.66 L256.3 771 L257.1 771.65 L257.9 772.24 L258.7 772.84 L259.5 773.26 L260.3 773.83 L261.1 774.55 L261.9 774.82 L262.7 775.52 L263.5 775.95 L264.3 776.65 L265.1 777.33 L265.9 778.1 L266.7 778.48 L267.5 779.25 L268.3 779.69 L269.1 780.66 L269.9 781.39 L270.7 781.9 L271.5 782.54 L272.3 783.22 L273.1 784.03 L273.9 784.68 L274.7 785.5 L275.5 786.51 L276.3 787.31 L277.1 787.73 L277.9 788.62 L278.7 789.44 L279.5 790.34 L280.3 790.95 L281.1 791.69 L281.9 792.5 L282.7 793.22 L283.5 793.88 L284.3 794.54 L285.1 795.29 L285.9 795.64 L286.7 796.58 L287.5 797 L288.3 797.68 L289.1 798.32 L289.9 798.99 L290.7 799.61 L291.5 800.21 L292.3 800.69 L293.1 801.28 L293.9 801.98 L294.7 802.65 L295.5 802.98 L296.3 803.39 L297.1 804.27 L297.9 804.82 L298.7 805.34 L299.5 805.79 L300.3 806.23 L301.1 806.61 L301.9 807.47 L302.7 807.79 L303.5 808.18 L304.3 808.89 L305.1 809.16 L305.9 809.79 L306.7 810.37 L307.5 810.94 L308.3 811.24 L309.1 811.65 L309.9 812.19 L310.7 812.84 L311.5 813.01 L312.3 813.49 L313.1 814.02 L313.9 814.7 L314.7 815.11 L315.5 815.57 L316.3 815.63 L317.1 816.23 L317.9 816.5 L318.7 817.08 L319.5 817.57 L320.3 817.83 L321.1 818.29 L321.9 818.66 L322.7 818.96 L323.5 819.25 L324.3 819.53 L325.1 820.06 L325.9 820.48 L326.7 820.78 L327.5 821.07 L328.3 821.33 L329.1 821.54 L329.9 821.75 L330.7 821.88 L331.5 822.42 L332.3 822.44 L333.1 823.01 L333.9 823.24 L334.7 823.28 L335.5 823.79 L336.3 823.99 L337.1 824.28 L337.9 824.27 L338.7 824.61 L339.5 824.85 L340.3 825.44" fill="none" stroke="#f7c4af" stroke-width="1.0756944313725492" stroke-linejoin="round" />
<path d="M51.5 826.34 L52.3 826.45 L53.1 826.3 L53.9 826.2 L54.7 825.65 L55.5 825.37 L56.3 825.24 L57.1 824.88 L57.9 824.39 L58.7 824.15 L59.5 823.64 L60.3 823.36 L61.1 822.64 L61.9 822.23 L62.7 822.03 L63.5 821.33 L64.3 820.81 L65.1 820.55 L65.9 819.99 L66.7 819.31 L67.5 818.98 L68.3 818.56 L69.1 817.88 L69.9 817.6 L70.7 816.93 L71.5 816.54 L72.3 815.98 L73.1 815.56 L73.9 815.4 L74.7 814.69 L75.5 814.45 L76.3 813.75 L77.1 813.33 L77.9 812.94 L78.7 812.37 L79.5 811.62 L80.3 811.29 L81.1 810.78 L81.9 810.07 L82.7 809.5 L83.5 809.27 L84.3 808.59 L85.1 807.93 L85.9 807.5 L86.7 806.87 L87.5 806.55 L88.3 805.87 L89.1 805.14 L89.9 804.84 L90.7 803.96 L91.5 803.42 L92.3 802.68 L93.1 802.32 L93.9 801.41 L94.7 800.88 L95.5 800 L96.3 799.44 L97.1 798.75 L97.9 797.9 L98.7 797.06 L99.5 796.2 L100.3 795.28 L101.1 794.44 L101.9 793.24 L102.7 792.37 L103.5 791.24 L104.3 790.4 L105.1 789.28 L105.9 787.77 L106.7 786.63 L107.5 785.63 L108.3 784.34 L109.1 782.88 L109.9 781.91 L110.7 780.73 L111.5 779.25 L112.3 777.96 L113.1 776.77 L113.9 775.61 L114.7 774.04 L115.5 772.76 L116.3 771.39 L117.1 770.24 L117.9 768.86 L118.7 767.46 L119.5 766.19 L120.3 764.73 L121.1 763.54 L121.9 762.51 L122.7 761.07 L123.5 759.67 L124.3 758.67 L125.1 757.16 L125.9 755.84 L126.7 754.49 L127.5 753.23 L128.3 751.96 L129.1 750.68 L129.9 749.62 L130.7 748.07 L131.5 746.77 L132.3 745.6 L133.1 744.42 L133.9 742.87 L134.7 741.77 L135.5 740.32 L136.3 739.11 L137.1 737.85 L137.9 736.74 L138.7 735.42 L139.5 734.08 L140.3 733.04 L141.1 731.67 L141.9 730.52 L142.7 729.67 L143.5 728.44 L144.3 727.47 L145.1 726.26 L145.9 725.5 L146.7 724.38 L147.5 723.24 L148.3 722.53 L149.1 721.36 L149.9 720.36 L150.7 719.4 L151.5 718.43 L152.3 717.61 L153.1 716.95 L153.9 715.95 L154.7 715.26 L155.5 714.61 L156.3 714.04 L157.1 713.4 L157.9 713.01 L158.7 712.4 L159.5 712.08 L160.3 711.78 L161.1 711.5 L161.9 711.39 L162.7 711.27 L163.5 711.48 L164.3 711.25 L165.1 711.47 L165.9 711.32 L166.7 711.54 L167.5 711.61 L168.3 711.58 L169.1 711.92 L169.9 711.94 L170.7 712.05 L171.5 712.01 L172.3 712.34 L173.1 712.49 L173.9 712.79 L174.7 713.22 L175.5 713.45 L176.3 713.41 L177.1 713.94 L177.9 714.35 L178.7 714.52 L179.5 714.66 L180.3 715.31 L181.1 715.5 L181.9 716.08 L182.7 716.41 L183.5 716.79 L184.3 717.22 L185.1 717.28 L185.9 718 L186.7 718.22 L187.5 718.58 L188.3 719.12 L189.1 719.65 L189.9 719.87 L190.7 720.5 L191.5 721.1 L192.3 721.45 L193.1 721.93 L193.9 722.32 L194.7 723.06 L195.5 723.27 L196.3 723.95 L197.1 724.46 L197.9 724.74 L198.7 725.68 L199.5 725.93 L200.3 726.8 L201.1 727.34 L201.9 727.9 L202.7 728.45 L203.5 728.83 L204.3 729.42 L205.1 729.95 L205.9 730.76 L206.7 730.98 L207.5 731.6 L208.3 732.51 L209.1 733.04 L209.9 733.59 L210.7 734.29 L211.5 734.72 L212.3 735.44 L213.1 735.89 L213.9 736.68 L214.7 736.96 L215.5 737.72 L216.3 738.39 L217.1 739.1 L217.9 739.57 L218.7 740.27 L219.5 740.98 L220.3 741.38 L221.1 741.93 L221.9 742.52 L222.7 743.49 L223.5 743.93 L224.3 744.46 L225.1 745.09 L225.9 745.56 L226.7 746.27 L227.5 746.94 L228.3 747.55 L229.1 748.34 L229.9 748.61 L230.7 749.11 L231.5 750.06 L232.3 750.61 L233.1 751.03 L233.9 751.84 L234.7 752.32 L235.5 752.79 L236.3 753.41 L237.1 753.9 L237.9 754.48 L238.7 755.28 L239.5 755.72 L240.3 756.19 L241.1 756.45 L241.9 757.09 L242.7 757.87 L243.5 758.39 L244.3 759.02 L245.1 759.39 L245.9 759.9 L246.7 760.23 L247.5 760.9 L248.3 761.7 L249.1 762.09 L249.9 762.51 L250.7 763.11 L251.5 763.34 L252.3 764.18 L253.1 764.59 L253.9 765.49 L254.7 765.93 L255.5 766.26 L256.3 766.84 L257.1 767.4 L257.9 767.92 L258.7 768.67 L259.5 769.25 L260.3 770.08 L261.1 770.28 L261.9 771.05 L262.7 771.34 L263.5 772.26 L264.3 772.85 L265.1 773.6 L265.9 774.43 L266.7 775.15 L267.5 775.54 L268.3 776.3 L269.1 777.13 L269.9 777.99 L270.7 778.66 L271.5 779.37 L272.3 780.28 L273.1 780.94 L273.9 781.7 L274.7 782.78 L275.5 783.74 L276.3 784.35 L277.1 785 L277.9 785.92 L278.7 787.01 L279.5 787.59 L280.3 788.47 L281.1 789.55 L281.9 790.07 L282.7 791.15 L283.5 791.67 L284.3 792.51 L285.1 793.34 L285.9 793.86 L286.7 794.85 L287.5 795.41 L288.3 796.23 L289.1 796.9 L289.9 797.3 L290.7 798.25 L291.5 798.9 L292.3 799.3 L293.1 800.07 L293.9 800.54 L294.7 801.28 L295.5 801.96 L296.3 802.41 L297.1 803.06 L297.9 803.48 L298.7 804.34 L299.5 804.82 L300.3 805.46 L301.1 805.72 L301.9 806.55 L302.7 806.84 L303.5 807.57 L304.3 807.98 L305.1 808.78 L305.9 808.99 L306.7 809.67 L307.5 810.18 L308.3 810.66 L309.1 811.03 L309.9 811.78 L310.7 812.39 L311.5 812.63 L312.3 813.33 L313.1 813.58 L313.9 814.02 L314.7 814.56 L315.5 815.22 L316.3 815.59 L317.1 815.97 L317.9 816.16 L318.7 816.75 L319.5 817 L320.3 817.43 L321.1 817.94 L321.9 818.28 L322.7 818.61 L323.5 819.13 L324.3 819.59 L325.1 819.99 L325.9 820.31 L326.7 820.43 L327.5 820.65 L328.3 821.26 L329.1 821.34 L329.9 821.59 L330.7 822.07 L331.5 822.24 L332.3 822.67 L333.1 822.84 L333.9 823.21 L334.7 823.16 L335.5 823.74 L336.3 823.86 L337.1 824.19 L337.9 824.31 L338.7 824.57 L339.5 824.88 L340.3 825.12" fill="none" stroke="#f6bca7" stroke-width="1.092913568627451" stroke-linejoin="round" />
<path d="M51.5 826.4 L52.3 826.44 L53.1 826.31 L53.9 826.15 L54.7 825.58 L55.5 825.29 L56.3 824.91 L57.1 824.57 L57.9 824.39 L58.7 823.73 L59.5 823.45 L60.3 822.85 L61.1 822.39 L61.9 821.95 L62.7 821.6 L63.5 820.99 L64.3 820.22 L65.1 819.8 L65.9 819.22 L66.7 818.98 L67.5 818.43 L68.3 817.92 L69.1 817.41 L69.9 816.87 L70.7 816.45 L71.5 815.89 L72.3 815.18 L73.1 814.92 L73.9 814.28 L74.7 813.88 L75.5 813.3 L76.3 812.74 L77.1 812.19 L77.9 811.69 L78.7 811.12 L79.5 810.5 L80.3 810.23 L81.1 809.66 L81.9 809.17 L82.7 808.48 L83.5 807.85 L84.3 807.36 L85.1 806.54 L85.9 806.19 L86.7 805.51 L87.5 804.82 L88.3 804.24 L89.1 803.76 L89.9 803.03 L90.7 802.48 L91.5 801.89 L92.3 801.13 L93.1 800.33 L93.9 799.79 L94.7 798.95 L95.5 798.21 L96.3 797.44 L97.1 796.71 L97.9 795.76 L98.7 795.16 L99.5 794.39 L100.3 793.23 L101.1 792.41 L101.9 791.5 L102.7 790.09 L103.5 789.04 L104.3 788.2 L105.1 787.03 L105.9 785.74 L106.7 784.32 L107.5 783.17 L108.3 782.06 L109.1 780.77 L109.9 779.43 L110.7 777.87 L111.5 776.8 L112.3 775.29 L113.1 774.11 L113.9 772.54 L114.7 771.52 L115.5 770.01 L116.3 768.7 L117.1 767.12 L117.9 765.91 L118.7 764.52 L119.5 763.16 L120.3 761.7 L121.1 760.48 L121.9 758.98 L122.7 757.62 L123.5 756.24 L124.3 755.13 L125.1 753.6 L125.9 752.33 L126.7 750.96 L127.5 749.89 L128.3 748.52 L129.1 747.19 L129.9 745.67 L130.7 744.49 L131.5 743.12 L132.3 741.7 L133.1 740.34 L133.9 739.41 L134.7 737.74 L135.5 736.5 L136.3 735.18 L137.1 734 L137.9 732.5 L138.7 731.39 L139.5 730.08 L140.3 729.02 L141.1 727.49 L141.9 726.43 L142.7 725.31 L143.5 724.4 L144.3 723.13 L145.1 722.04 L145.9 721.08 L146.7 719.92 L147.5 718.81 L148.3 717.99 L149.1 717.16 L149.9 716.11 L150.7 714.97 L151.5 714.2 L152.3 713.36 L153.1 712.26 L153.9 711.55 L154.7 710.66 L155.5 709.89 L156.3 709.18 L157.1 708.52 L157.9 708.01 L158.7 707.33 L159.5 707.06 L160.3 706.57 L161.1 706.48 L161.9 706.25 L162.7 705.86 L163.5 706.05 L164.3 705.79 L165.1 705.89 L165.9 705.93 L166.7 705.87 L167.5 705.9 L168.3 706.03 L169.1 706.01 L169.9 706.42 L170.7 706.26 L171.5 706.7 L172.3 706.64 L173.1 706.86 L173.9 707.11 L174.7 707.2 L175.5 707.5 L176.3 707.86 L177.1 708.18 L177.9 708.66 L178.7 709.02 L179.5 708.98 L180.3 709.51 L181.1 709.69 L181.9 710.34 L182.7 710.53 L183.5 711.14 L184.3 711.41 L185.1 711.65 L185.9 712.02 L186.7 712.55 L187.5 713.24 L188.3 713.39 L189.1 713.98 L189.9 714.4 L190.7 714.85 L191.5 715.5 L192.3 715.74 L193.1 716.43 L193.9 716.89 L194.7 717.49 L195.5 717.81 L196.3 718.48 L197.1 718.81 L197.9 719.4 L198.7 719.97 L199.5 720.62 L200.3 721.21 L201.1 721.47 L201.9 722.06 L202.7 722.79 L203.5 723.49 L204.3 723.96 L205.1 724.44 L205.9 725.29 L206.7 725.62 L207.5 726.12 L208.3 726.7 L209.1 727.29 L209.9 728.17 L210.7 728.53 L211.5 729.39 L212.3 730.06 L213.1 730.73 L213.9 731.27 L214.7 731.74 L215.5 732.45 L216.3 733.17 L217.1 733.76 L217.9 734.23 L218.7 735.03 L219.5 735.37 L220.3 736.07 L221.1 737 L221.9 737.48 L222.7 738.07 L223.5 738.89 L224.3 739.33 L225.1 739.72 L225.9 740.37 L226.7 741.16 L227.5 741.9 L228.3 742.79 L229.1 743.07 L229.9 743.82 L230.7 744.38 L231.5 744.85 L232.3 745.8 L233.1 746.39 L233.9 746.86 L234.7 747.26 L235.5 747.8 L236.3 748.53 L237.1 749.06 L237.9 749.63 L238.7 750.35 L239.5 750.9 L240.3 751.21 L241.1 751.82 L241.9 752.18 L242.7 753.18 L243.5 753.63 L244.3 754.2 L245.1 754.84 L245.9 755.1 L246.7 755.79 L247.5 756.27 L248.3 757.01 L249.1 757.82 L249.9 758.09 L250.7 758.7 L251.5 759.09 L252.3 759.54 L253.1 760.44 L253.9 760.8 L254.7 761.78 L255.5 762.02 L256.3 762.74 L257.1 762.94 L257.9 763.53 L258.7 764.44 L259.5 765.38 L260.3 765.77 L261.1 766.42 L261.9 766.98 L262.7 767.46 L263.5 768.34 L264.3 768.97 L265.1 769.97 L265.9 770.8 L266.7 771.27 L267.5 771.87 L268.3 772.56 L269.1 773.69 L269.9 774.49 L270.7 775.53 L271.5 776.25 L272.3 776.73 L273.1 777.89 L273.9 778.81 L274.7 779.75 L275.5 780.74 L276.3 781.62 L277.1 782.52 L277.9 783.38 L278.7 784.28 L279.5 785.11 L280.3 786.02 L281.1 787.19 L281.9 788.03 L282.7 788.68 L283.5 789.77 L284.3 790.59 L285.1 791.39 L285.9 792.28 L286.7 793.1 L287.5 793.66 L288.3 794.58 L289.1 795.19 L289.9 795.95 L290.7 796.6 L291.5 797.5 L292.3 798 L293.1 798.88 L293.9 799.3 L294.7 800.09 L295.5 800.83 L296.3 801.38 L297.1 801.88 L297.9 802.39 L298.7 803.16 L299.5 803.75 L300.3 804.51 L301.1 805.1 L301.9 805.77 L302.7 806.14 L303.5 806.71 L304.3 807.35 L305.1 807.99 L305.9 808.28 L306.7 808.89 L307.5 809.42 L308.3 810.03 L309.1 810.55 L309.9 811.35 L310.7 811.57 L311.5 812.37 L312.3 812.62 L313.1 813.09 L313.9 813.89 L314.7 814.02 L315.5 814.51 L316.3 814.98 L317.1 815.42 L317.9 816 L318.7 816.37 L319.5 816.79 L320.3 817.17 L321.1 817.84 L321.9 817.99 L322.7 818.47 L323.5 818.97 L324.3 819.46 L325.1 819.73 L325.9 820.09 L326.7 820.41 L327.5 820.77 L328.3 821.1 L329.1 821.12 L329.9 821.38 L330.7 821.89 L331.5 822.13 L332.3 822.41 L333.1 822.8 L333.9 822.83 L334.7 823.32 L335.5 823.48 L336.3 823.76 L337.1 823.97 L337.9 824.26 L338.7 824.67 L339.5 824.96 L340.3 825.39" fill="none" stroke="#f6b59f" stroke-width="1.110132705882353" stroke-linejoin="round" />
<path d="M51.5 826.49 L52.3 826.43 L53.1 826.3 L53.9 825.85 L54.7 825.46 L55.5 825.26 L56.3 824.84 L57.1 824.65 L57.9 824.18 L58.7 823.67 L59.5 823.17 L60.3 822.7 L61.1 821.95 L61.9 821.52 L62.7 820.84 L63.5 820.57 L64.3 819.65 L65.1 819.38 L65.9 818.5 L66.7 818.17 L67.5 817.45 L68.3 816.92 L69.1 816.54 L69.9 815.65 L70.7 815.13 L71.5 814.93 L72.3 814.23 L73.1 813.53 L73.9 813.36 L74.7 812.8 L75.5 811.93 L76.3 811.51 L77.1 810.84 L77.9 810.35 L78.7 809.92 L79.5 809.16 L80.3 808.79 L81.1 807.93 L81.9 807.37 L82.7 807.02 L83.5 806.24 L84.3 805.63 L85.1 805.08 L85.9 804.42 L86.7 803.76 L87.5 802.99 L88.3 802.62 L89.1 802.07 L89.9 801.41 L90.7 800.6 L91.5 799.79 L92.3 799.08 L93.1 798.47 L93.9 797.72 L94.7 796.73 L95.5 795.99 L96.3 795.23 L97.1 794.47 L97.9 793.72 L98.7 792.71 L99.5 791.62 L100.3 790.96 L101.1 789.81 L101.9 788.83 L102.7 787.62 L103.5 786.58 L104.3 785.41 L105.1 784.37 L105.9 782.83 L106.7 781.72 L107.5 780.27 L108.3 779.14 L109.1 777.5 L109.9 776.22 L110.7 774.88 L111.5 773.6 L112.3 771.97 L113.1 770.75 L113.9 769.26 L114.7 767.88 L115.5 766.54 L116.3 765.31 L117.1 763.69 L117.9 762.45 L118.7 760.69 L119.5 759.56 L120.3 757.91 L121.1 756.41 L121.9 755.21 L122.7 753.88 L123.5 752.12 L124.3 750.85 L125.1 749.68 L125.9 748.15 L126.7 746.75 L127.5 745.31 L128.3 743.98 L129.1 742.84 L129.9 741.63 L130.7 740.28 L131.5 738.72 L132.3 737.17 L133.1 735.94 L133.9 734.77 L134.7 733.44 L135.5 732.02 L136.3 730.52 L137.1 729.31 L137.9 727.95 L138.7 726.69 L139.5 725.25 L140.3 724.24 L141.1 722.93 L141.9 721.41 L142.7 720.24 L143.5 719.28 L144.3 717.88 L145.1 717.05 L145.9 715.78 L146.7 714.79 L147.5 713.75 L148.3 712.54 L149.1 711.55 L149.9 710.53 L150.7 709.72 L151.5 708.76 L152.3 707.59 L153.1 706.98 L153.9 705.92 L154.7 705 L155.5 704.26 L156.3 703.74 L157.1 702.85 L157.9 702.2 L158.7 701.74 L159.5 701.21 L160.3 700.65 L161.1 700.13 L161.9 699.84 L162.7 699.71 L163.5 699.5 L164.3 699.27 L165.1 699.11 L165.9 699.1 L166.7 699.24 L167.5 699.19 L168.3 699.02 L169.1 699.36 L169.9 699.53 L170.7 699.61 L171.5 699.8 L172.3 699.97 L173.1 700 L173.9 700.31 L174.7 700.37 L175.5 700.5 L176.3 700.87 L177.1 701.13 L177.9 701.68 L178.7 701.9 L179.5 702.16 L180.3 702.55 L181.1 702.7 L181.9 703.22 L182.7 703.68 L183.5 703.95 L184.3 704.29 L185.1 704.77 L185.9 705.16 L186.7 705.74 L187.5 705.97 L188.3 706.4 L189.1 706.95 L189.9 707.57 L190.7 708.07 L191.5 708.51 L192.3 709.11 L193.1 709.38 L193.9 709.74 L194.7 710.43 L195.5 710.92 L196.3 711.32 L197.1 712.04 L197.9 712.44 L198.7 712.95 L199.5 713.55 L200.3 714.37 L201.1 714.57 L201.9 715.3 L202.7 715.86 L203.5 716.42 L204.3 717.11 L205.1 717.62 L205.9 718.5 L206.7 718.93 L207.5 719.62 L208.3 720.01 L209.1 720.74 L209.9 721.41 L210.7 722.12 L211.5 722.51 L212.3 723.23 L213.1 724.02 L213.9 724.64 L214.7 725.04 L215.5 725.8 L216.3 726.54 L217.1 727.06 L217.9 727.83 L218.7 728.46 L219.5 729.19 L220.3 729.65 L221.1 730.38 L221.9 730.96 L222.7 731.83 L223.5 732.31 L224.3 732.96 L225.1 733.48 L225.9 734.09 L226.7 734.75 L227.5 735.56 L228.3 736.39 L229.1 736.85 L229.9 737.28 L230.7 738.12 L231.5 738.57 L232.3 739.59 L233.1 740.22 L233.9 740.77 L234.7 741.45 L235.5 741.9 L236.3 742.2 L237.1 742.82 L237.9 743.81 L238.7 744.61 L239.5 745.07 L240.3 745.55 L241.1 745.82 L241.9 746.48 L242.7 747.07 L243.5 747.91 L244.3 748.57 L245.1 749.05 L245.9 749.43 L246.7 750.02 L247.5 750.39 L248.3 751.2 L249.1 752 L249.9 752.89 L250.7 753.12 L251.5 753.31 L252.3 754.16 L253.1 754.91 L253.9 755.71 L254.7 756.27 L255.5 756.98 L256.3 757.26 L257.1 757.66 L257.9 758.59 L258.7 759.38 L259.5 759.98 L260.3 761.01 L261.1 761.26 L261.9 761.9 L262.7 762.4 L263.5 763.27 L264.3 764.21 L265.1 765.35 L265.9 766 L266.7 766.63 L267.5 767.31 L268.3 768.15 L269.1 769.32 L269.9 770.24 L270.7 770.99 L271.5 772.1 L272.3 772.84 L273.1 773.67 L273.9 774.7 L274.7 775.83 L275.5 777.01 L276.3 777.94 L277.1 778.99 L277.9 779.9 L278.7 780.98 L279.5 781.95 L280.3 783.05 L281.1 784.14 L281.9 785.24 L282.7 786.02 L283.5 787.24 L284.3 788 L285.1 789.07 L285.9 789.89 L286.7 790.86 L287.5 791.6 L288.3 792.32 L289.1 793.13 L289.9 794 L290.7 794.84 L291.5 795.65 L292.3 796.11 L293.1 796.83 L293.9 797.57 L294.7 798.29 L295.5 798.97 L296.3 799.65 L297.1 800.43 L297.9 801.05 L298.7 801.95 L299.5 802.58 L300.3 803.38 L301.1 804.02 L301.9 804.57 L302.7 805.29 L303.5 805.54 L304.3 806.24 L305.1 807.14 L305.9 807.56 L306.7 808.04 L307.5 808.86 L308.3 809.3 L309.1 809.92 L309.9 810.4 L310.7 810.93 L311.5 811.41 L312.3 812.16 L313.1 812.83 L313.9 813.37 L314.7 813.79 L315.5 814.37 L316.3 814.64 L317.1 815.1 L317.9 815.84 L318.7 816.17 L319.5 816.66 L320.3 816.86 L321.1 817.37 L321.9 817.9 L322.7 818.42 L323.5 818.85 L324.3 819.2 L325.1 819.41 L325.9 819.78 L326.7 820.31 L327.5 820.69 L328.3 820.81 L329.1 821 L329.9 821.48 L330.7 821.74 L331.5 821.96 L332.3 822.2 L333.1 822.54 L333.9 822.92 L334.7 823.01 L335.5 823.45 L336.3 823.9 L337.1 824.11 L337.9 824.2 L338.7 824.56 L339.5 824.74 L340.3 825.3" fill="none" stroke="#f5ad95" stroke-width="1.1313254901960785" stroke-linejoin="round" />
<path d="M51.5 826.48 L52.3 826.39 L53.1 826.41 L53.9 825.96 L54.7 825.59 L55.5 825.24 L56.3 824.65 L57.1 824.31 L57.9 823.88 L58.7 823.41 L59.5 822.58 L60.3 822.09 L61.1 821.4 L61.9 821.07 L62.7 820.38 L63.5 819.48 L64.3 819.21 L65.1 818.55 L65.9 817.78 L66.7 817.11 L67.5 816.28 L68.3 815.59 L69.1 815.18 L69.9 814.37 L70.7 813.82 L71.5 813.25 L72.3 812.57 L73.1 812.16 L73.9 811.56 L74.7 811.14 L75.5 810.42 L76.3 809.87 L77.1 809.22 L77.9 808.68 L78.7 807.99 L79.5 807.3 L80.3 806.95 L81.1 806.3 L81.9 805.58 L82.7 804.86 L83.5 804.03 L84.3 803.32 L85.1 802.67 L85.9 801.9 L86.7 801.5 L87.5 800.66 L88.3 800.13 L89.1 799.24 L89.9 798.74 L90.7 797.96 L91.5 796.86 L92.3 796.17 L93.1 795.66 L93.9 794.66 L94.7 794.04 L95.5 792.96 L96.3 791.96 L97.1 791.3 L97.9 790.45 L98.7 789.3 L99.5 788.25 L100.3 787.37 L101.1 786.57 L101.9 785.4 L102.7 784.05 L103.5 782.92 L104.3 781.65 L105.1 780.39 L105.9 779.4 L106.7 777.79 L107.5 776.55 L108.3 775.1 L109.1 773.56 L109.9 772.3 L110.7 770.58 L111.5 769.31 L112.3 767.61 L113.1 766.24 L113.9 764.68 L114.7 763.23 L115.5 762.01 L116.3 760.43 L117.1 758.72 L117.9 757.44 L118.7 755.64 L119.5 754.19 L120.3 752.85 L121.1 751.25 L121.9 749.52 L122.7 748.37 L123.5 746.57 L124.3 745.11 L125.1 743.86 L125.9 742.24 L126.7 740.8 L127.5 739.27 L128.3 737.87 L129.1 736.67 L129.9 735.12 L130.7 733.85 L131.5 732.36 L132.3 730.99 L133.1 729.79 L133.9 728.21 L134.7 726.86 L135.5 725.59 L136.3 723.93 L137.1 722.55 L137.9 721.48 L138.7 720.08 L139.5 718.49 L140.3 717.12 L141.1 716.01 L141.9 714.77 L142.7 713.16 L143.5 712.21 L144.3 710.93 L145.1 709.6 L145.9 708.36 L146.7 707.1 L147.5 705.95 L148.3 705.24 L149.1 703.9 L149.9 703.05 L150.7 701.85 L151.5 701.06 L152.3 699.98 L153.1 698.9 L153.9 697.91 L154.7 697.21 L155.5 696.09 L156.3 695.31 L157.1 694.63 L157.9 694.02 L158.7 693.22 L159.5 692.41 L160.3 692.09 L161.1 691.27 L161.9 690.71 L162.7 690.43 L163.5 690.15 L164.3 689.71 L165.1 689.59 L165.9 689.52 L166.7 689.51 L167.5 689.3 L168.3 689.38 L169.1 689.61 L169.9 689.69 L170.7 689.63 L171.5 689.75 L172.3 689.85 L173.1 689.83 L173.9 689.98 L174.7 690.18 L175.5 690.76 L176.3 690.93 L177.1 691.31 L177.9 691.23 L178.7 691.78 L179.5 692.04 L180.3 692.47 L181.1 692.66 L181.9 693.31 L182.7 693.32 L183.5 693.89 L184.3 694.38 L185.1 694.87 L185.9 695.23 L186.7 695.66 L187.5 696.14 L188.3 696.65 L189.1 696.9 L189.9 697.52 L190.7 698.08 L191.5 698.57 L192.3 698.89 L193.1 699.55 L193.9 700.09 L194.7 700.49 L195.5 701.04 L196.3 701.48 L197.1 702.09 L197.9 702.64 L198.7 702.98 L199.5 703.76 L200.3 704.48 L201.1 705.02 L201.9 705.56 L202.7 706.03 L203.5 706.78 L204.3 707.33 L205.1 707.89 L205.9 708.67 L206.7 708.99 L207.5 709.87 L208.3 710.21 L209.1 711.07 L209.9 711.65 L210.7 712.19 L211.5 713.01 L212.3 713.58 L213.1 714.28 L213.9 715.06 L214.7 715.46 L215.5 716.02 L216.3 716.8 L217.1 717.65 L217.9 718.16 L218.7 718.8 L219.5 719.72 L220.3 720.25 L221.1 720.86 L221.9 721.8 L222.7 722.35 L223.5 723.18 L224.3 723.59 L225.1 724.25 L225.9 725.03 L226.7 725.84 L227.5 726.67 L228.3 727.26 L229.1 727.98 L229.9 728.37 L230.7 728.81 L231.5 729.61 L232.3 730.58 L233.1 731.45 L233.9 732.12 L234.7 732.73 L235.5 732.86 L236.3 733.31 L237.1 734.14 L237.9 734.95 L238.7 735.77 L239.5 736.47 L240.3 736.95 L241.1 737.27 L241.9 737.74 L242.7 738.75 L243.5 739.71 L244.3 740.27 L245.1 740.65 L245.9 740.98 L246.7 741.7 L247.5 741.99 L248.3 743.12 L249.1 744 L249.9 744.62 L250.7 745.26 L251.5 745.28 L252.3 745.79 L253.1 746.7 L253.9 747.49 L254.7 748.71 L255.5 749.12 L256.3 749.51 L257.1 749.92 L257.9 750.8 L258.7 751.63 L259.5 752.69 L260.3 753.57 L261.1 754.3 L261.9 754.88 L262.7 755.39 L263.5 756.05 L264.3 757.22 L265.1 758.19 L265.9 759.06 L266.7 760.01 L267.5 760.81 L268.3 761.44 L269.1 762.53 L269.9 763.73 L270.7 765 L271.5 765.91 L272.3 766.85 L273.1 767.82 L273.9 768.76 L274.7 770.15 L275.5 771.48 L276.3 772.39 L277.1 773.86 L277.9 774.89 L278.7 775.8 L279.5 777.15 L280.3 778.49 L281.1 779.84 L281.9 780.8 L282.7 782.01 L283.5 783.23 L284.3 784.32 L285.1 785.43 L285.9 786.28 L286.7 787.34 L287.5 788.13 L288.3 789.29 L289.1 790.25 L289.9 791.09 L290.7 792 L291.5 792.68 L292.3 793.8 L293.1 794.67 L293.9 795.49 L294.7 796.12 L295.5 797.02 L296.3 797.6 L297.1 798.61 L297.9 799.34 L298.7 799.89 L299.5 800.51 L300.3 801.38 L301.1 802.14 L301.9 802.94 L302.7 803.53 L303.5 804.04 L304.3 805.03 L305.1 805.41 L305.9 806.37 L306.7 806.78 L307.5 807.49 L308.3 808.31 L309.1 808.68 L309.9 809.3 L310.7 810.07 L311.5 810.74 L312.3 811.38 L313.1 811.91 L313.9 812.57 L314.7 812.95 L315.5 813.69 L316.3 813.88 L317.1 814.47 L317.9 815.11 L318.7 815.52 L319.5 816.19 L320.3 816.65 L321.1 817.07 L321.9 817.65 L322.7 817.99 L323.5 818.32 L324.3 818.74 L325.1 819.32 L325.9 819.73 L326.7 819.8 L327.5 820.41 L328.3 820.8 L329.1 820.94 L329.9 821.28 L330.7 821.44 L331.5 821.87 L332.3 822.16 L333.1 822.5 L333.9 822.56 L334.7 823.23 L335.5 823.34 L336.3 823.59 L337.1 824.05 L337.9 824.25 L338.7 824.53 L339.5 824.93 L340.3 825" fill="none" stroke="#f4a186" stroke-width="1.1617901176470589" stroke-linejoin="round" />
<path d="M51.5 826.53 L52.3 826.34 L53.1 826.27 L53.9 825.85 L54.7 825.66 L55.5 825.24 L56.3 824.71 L57.1 823.99 L57.9 823.61 L58.7 822.95 L59.5 822.31 L60.3 821.97 L61.1 821.32 L61.9 820.26 L62.7 819.89 L63.5 819.09 L64.3 818.29 L65.1 817.54 L65.9 816.98 L66.7 816.19 L67.5 815.58 L68.3 814.86 L69.1 813.98 L69.9 813.56 L70.7 812.99 L71.5 812.34 L72.3 811.56 L73.1 810.7 L73.9 810.05 L74.7 809.48 L75.5 809.17 L76.3 808.28 L77.1 807.67 L77.9 807.24 L78.7 806.35 L79.5 805.79 L80.3 805.07 L81.1 804.24 L81.9 803.74 L82.7 803.14 L83.5 802.14 L84.3 801.45 L85.1 800.79 L85.9 799.91 L86.7 799.36 L87.5 798.74 L88.3 797.93 L89.1 797.11 L89.9 796.47 L90.7 795.39 L91.5 794.75 L92.3 793.85 L93.1 793.1 L93.9 792.03 L94.7 791.41 L95.5 790.25 L96.3 789.35 L97.1 788.67 L97.9 787.77 L98.7 786.58 L99.5 785.55 L100.3 784.45 L101.1 783.39 L101.9 782.4 L102.7 781.07 L103.5 779.87 L104.3 778.75 L105.1 777.34 L105.9 776.21 L106.7 774.89 L107.5 773.43 L108.3 771.84 L109.1 770.29 L109.9 768.79 L110.7 767.06 L111.5 765.78 L112.3 764.06 L113.1 762.48 L113.9 760.81 L114.7 759.4 L115.5 757.9 L116.3 756.26 L117.1 754.86 L117.9 753.2 L118.7 751.44 L119.5 749.95 L120.3 748.5 L121.1 746.75 L121.9 745.19 L122.7 743.39 L123.5 741.98 L124.3 740.41 L125.1 738.84 L125.9 737.31 L126.7 735.87 L127.5 734.36 L128.3 732.86 L129.1 731.26 L129.9 729.91 L130.7 728.68 L131.5 727 L132.3 725.4 L133.1 723.96 L133.9 722.73 L134.7 721.1 L135.5 719.7 L136.3 718.29 L137.1 717.02 L137.9 715.83 L138.7 714.23 L139.5 712.82 L140.3 711.42 L141.1 710.06 L141.9 708.67 L142.7 707.43 L143.5 706.16 L144.3 704.77 L145.1 703.38 L145.9 702.21 L146.7 701.08 L147.5 699.61 L148.3 698.48 L149.1 697.51 L149.9 696.45 L150.7 695.37 L151.5 694.31 L152.3 693.37 L153.1 692.23 L153.9 691.37 L154.7 690.48 L155.5 689.34 L156.3 688.61 L157.1 687.7 L157.9 686.94 L158.7 685.82 L159.5 685.45 L160.3 684.7 L161.1 684.14 L161.9 683.59 L162.7 682.78 L163.5 682.48 L164.3 681.9 L165.1 681.74 L165.9 681.61 L166.7 681.15 L167.5 681.06 L168.3 680.87 L169.1 680.88 L169.9 680.87 L170.7 680.85 L171.5 681.26 L172.3 681.31 L173.1 681.26 L173.9 681.53 L174.7 681.7 L175.5 681.84 L176.3 682.03 L177.1 682.39 L177.9 682.62 L178.7 682.81 L179.5 683.17 L180.3 683.6 L181.1 683.96 L181.9 684.15 L182.7 684.69 L183.5 685.2 L184.3 685.6 L185.1 685.92 L185.9 686.13 L186.7 686.72 L187.5 687.04 L188.3 687.49 L189.1 688.05 L189.9 688.62 L190.7 689.24 L191.5 689.69 L192.3 690.06 L193.1 690.75 L193.9 691.2 L194.7 691.74 L195.5 692.18 L196.3 692.79 L197.1 693.31 L197.9 694.02 L198.7 694.48 L199.5 695.03 L200.3 695.62 L201.1 696.21 L201.9 696.9 L202.7 697.52 L203.5 698.17 L204.3 698.64 L205.1 699.43 L205.9 700.13 L206.7 700.78 L207.5 701.31 L208.3 701.69 L209.1 702.64 L209.9 703.29 L210.7 703.62 L211.5 704.4 L212.3 705.05 L213.1 705.89 L213.9 706.51 L214.7 707.06 L215.5 707.69 L216.3 708.38 L217.1 709.07 L217.9 710.07 L218.7 710.82 L219.5 711.17 L220.3 712.01 L221.1 712.79 L221.9 713.28 L222.7 714.26 L223.5 714.96 L224.3 715.8 L225.1 716.31 L225.9 716.59 L226.7 717.44 L227.5 718.6 L228.3 719.37 L229.1 720.05 L229.9 720.68 L230.7 721.14 L231.5 721.85 L232.3 722.47 L233.1 723.32 L233.9 724.41 L234.7 724.71 L235.5 725.3 L236.3 725.85 L237.1 726.37 L237.9 727.4 L238.7 728.19 L239.5 728.91 L240.3 729.5 L241.1 729.91 L241.9 730.45 L242.7 730.87 L243.5 732.24 L244.3 732.99 L245.1 733.51 L245.9 733.86 L246.7 734.26 L247.5 734.77 L248.3 735.6 L249.1 736.92 L249.9 737.71 L250.7 738.18 L251.5 738.53 L252.3 739.05 L253.1 739.46 L253.9 740.78 L254.7 741.84 L255.5 742.42 L256.3 742.95 L257.1 743.28 L257.9 743.81 L258.7 744.85 L259.5 745.87 L260.3 747.19 L261.1 747.62 L261.9 748.34 L262.7 748.89 L263.5 749.91 L264.3 750.99 L265.1 752.04 L265.9 753.14 L266.7 753.84 L267.5 754.59 L268.3 755.54 L269.1 756.91 L269.9 757.84 L270.7 759.18 L271.5 760.49 L272.3 761.33 L273.1 762.25 L273.9 763.67 L274.7 764.65 L275.5 766.31 L276.3 767.63 L277.1 768.88 L277.9 770.03 L278.7 771.27 L279.5 772.72 L280.3 774.28 L281.1 775.58 L281.9 777.03 L282.7 778.35 L283.5 779.3 L284.3 780.83 L285.1 781.94 L285.9 783.03 L286.7 784.2 L287.5 785.42 L288.3 786.29 L289.1 787.2 L289.9 788.56 L290.7 789.2 L291.5 790.16 L292.3 791.36 L293.1 792.11 L293.9 793.02 L294.7 794.05 L295.5 795.02 L296.3 795.65 L297.1 796.72 L297.9 797.43 L298.7 798.24 L299.5 799.01 L300.3 799.6 L301.1 800.44 L301.9 801.42 L302.7 802.19 L303.5 802.71 L304.3 803.66 L305.1 804.33 L305.9 805.1 L306.7 805.73 L307.5 806.36 L308.3 807.12 L309.1 808.03 L309.9 808.39 L310.7 809.32 L311.5 809.83 L312.3 810.28 L313.1 811.21 L313.9 811.5 L314.7 812.43 L315.5 812.82 L316.3 813.63 L317.1 814.12 L317.9 814.53 L318.7 815.18 L319.5 815.85 L320.3 816.05 L321.1 816.57 L321.9 817.08 L322.7 817.77 L323.5 818 L324.3 818.41 L325.1 818.98 L325.9 819.37 L326.7 819.67 L327.5 820.09 L328.3 820.24 L329.1 820.56 L329.9 820.9 L330.7 821.23 L331.5 821.83 L332.3 822.22 L333.1 822.18 L333.9 822.59 L334.7 822.74 L335.5 823.21 L336.3 823.61 L337.1 823.9 L337.9 824.32 L338.7 824.5 L339.5 824.64 L340.3 825.1" fill="none" stroke="#f3967a" stroke-width="1.1882810980392158" stroke-linejoin="round" />
<path d="M51.5 826.49 L52.3 826.32 L53.1 826.09 L53.9 826.1 L54.7 825.3 L55.5 825.03 L56.3 824.68 L57.1 823.79 L57.9 823.41 L58.7 822.8 L59.5 821.91 L60.3 821.37 L61.1 820.78 L61.9 819.94 L62.7 819.3 L63.5 818.32 L64.3 817.58 L65.1 816.76 L65.9 816.14 L66.7 815.54 L67.5 814.65 L68.3 813.96 L69.1 813.07 L69.9 812.49 L70.7 811.51 L71.5 810.9 L72.3 810.37 L73.1 809.72 L73.9 808.92 L74.7 808.12 L75.5 807.51 L76.3 806.82 L77.1 806.17 L77.9 805.7 L78.7 804.77 L79.5 804.34 L80.3 803.63 L81.1 802.58 L81.9 801.97 L82.7 801.26 L83.5 800.31 L84.3 799.7 L85.1 799.12 L85.9 798.02 L86.7 797.42 L87.5 796.45 L88.3 795.82 L89.1 795.14 L89.9 794.04 L90.7 793.12 L91.5 792.3 L92.3 791.6 L93.1 790.5 L93.9 789.61 L94.7 788.84 L95.5 788.06 L96.3 786.89 L97.1 785.89 L97.9 784.98 L98.7 783.74 L99.5 782.88 L100.3 781.62 L101.1 780.69 L101.9 779.68 L102.7 778.13 L103.5 777.1 L104.3 775.86 L105.1 774.35 L105.9 773.03 L106.7 771.92 L107.5 770.44 L108.3 768.56 L109.1 767.24 L109.9 765.75 L110.7 763.85 L111.5 762.35 L112.3 760.47 L113.1 758.95 L113.9 757.42 L114.7 755.73 L115.5 754.17 L116.3 752.27 L117.1 750.73 L117.9 749.28 L118.7 747.51 L119.5 745.79 L120.3 744.09 L121.1 742.65 L121.9 740.82 L122.7 738.93 L123.5 737.58 L124.3 735.75 L125.1 734.16 L125.9 732.46 L126.7 730.95 L127.5 729.33 L128.3 727.68 L129.1 726.36 L129.9 724.62 L130.7 723.39 L131.5 721.59 L132.3 720.39 L133.1 718.92 L133.9 717.32 L134.7 715.93 L135.5 714.28 L136.3 713.02 L137.1 711.45 L137.9 709.93 L138.7 708.79 L139.5 707.13 L140.3 705.7 L141.1 704.47 L141.9 702.86 L142.7 701.58 L143.5 699.99 L144.3 698.89 L145.1 697.29 L145.9 695.9 L146.7 694.96 L147.5 693.37 L148.3 692.44 L149.1 691.28 L149.9 689.95 L150.7 688.59 L151.5 687.51 L152.3 686.5 L153.1 685.53 L153.9 684.58 L154.7 683.72 L155.5 682.5 L156.3 681.47 L157.1 680.72 L157.9 679.66 L158.7 678.81 L159.5 678.18 L160.3 677.48 L161.1 676.53 L161.9 676 L162.7 675.5 L163.5 674.97 L164.3 674.31 L165.1 674.09 L165.9 673.43 L166.7 673.32 L167.5 673.11 L168.3 672.98 L169.1 672.67 L169.9 672.44 L170.7 672.38 L171.5 672.56 L172.3 672.44 L173.1 672.68 L173.9 672.57 L174.7 672.99 L175.5 672.94 L176.3 673.07 L177.1 673.37 L177.9 673.75 L178.7 674.07 L179.5 674.31 L180.3 674.56 L181.1 675.03 L181.9 675.57 L182.7 675.79 L183.5 676.34 L184.3 676.38 L185.1 677.2 L185.9 677.58 L186.7 677.88 L187.5 678.34 L188.3 678.82 L189.1 679.45 L189.9 679.6 L190.7 680.34 L191.5 680.81 L192.3 681.24 L193.1 681.94 L193.9 682.47 L194.7 682.78 L195.5 683.57 L196.3 684.03 L197.1 684.61 L197.9 685.24 L198.7 685.59 L199.5 686.39 L200.3 686.88 L201.1 687.68 L201.9 688.03 L202.7 688.88 L203.5 689.47 L204.3 690.07 L205.1 690.81 L205.9 691.12 L206.7 692 L207.5 692.66 L208.3 693.34 L209.1 693.9 L209.9 694.42 L210.7 695.13 L211.5 695.98 L212.3 696.49 L213.1 697.12 L213.9 697.92 L214.7 698.67 L215.5 699.38 L216.3 699.88 L217.1 700.92 L217.9 701.51 L218.7 702.4 L219.5 702.74 L220.3 703.75 L221.1 704.31 L221.9 705.28 L222.7 706.17 L223.5 706.92 L224.3 707.29 L225.1 707.93 L225.9 708.48 L226.7 709.47 L227.5 710.2 L228.3 711.18 L229.1 711.91 L229.9 712.45 L230.7 713.23 L231.5 713.84 L232.3 714.48 L233.1 715.68 L233.9 716.53 L234.7 717.19 L235.5 717.5 L236.3 717.98 L237.1 718.48 L237.9 719.48 L238.7 720.67 L239.5 721.39 L240.3 721.95 L241.1 722.41 L241.9 722.44 L242.7 723.26 L243.5 724.64 L244.3 725.4 L245.1 726.19 L245.9 726.75 L246.7 726.9 L247.5 727.28 L248.3 728.17 L249.1 729.4 L249.9 730.39 L250.7 731.19 L251.5 731.55 L252.3 731.82 L253.1 732.57 L253.9 733.66 L254.7 734.86 L255.5 735.8 L256.3 736.34 L257.1 736.31 L257.9 736.93 L258.7 737.87 L259.5 739.26 L260.3 740.4 L261.1 741.19 L261.9 741.92 L262.7 742.28 L263.5 743.04 L264.3 744.26 L265.1 745.71 L265.9 747 L266.7 747.93 L267.5 748.64 L268.3 749.4 L269.1 750.63 L269.9 752 L270.7 753.39 L271.5 754.81 L272.3 755.73 L273.1 756.94 L273.9 758.1 L274.7 759.28 L275.5 761.07 L276.3 762.49 L277.1 763.97 L277.9 765.37 L278.7 766.78 L279.5 768.3 L280.3 769.81 L281.1 771.18 L281.9 772.82 L282.7 774.15 L283.5 775.43 L284.3 777.02 L285.1 778.37 L285.9 779.83 L286.7 780.88 L287.5 782.3 L288.3 783.34 L289.1 784.32 L289.9 785.68 L290.7 786.61 L291.5 787.76 L292.3 788.63 L293.1 789.62 L293.9 790.98 L294.7 791.6 L295.5 792.6 L296.3 793.54 L297.1 794.43 L297.9 795.63 L298.7 796.58 L299.5 797.33 L300.3 798.08 L301.1 799.13 L301.9 799.81 L302.7 800.49 L303.5 801.54 L304.3 802.2 L305.1 802.96 L305.9 803.76 L306.7 804.56 L307.5 805.23 L308.3 806.15 L309.1 806.98 L309.9 807.58 L310.7 808.07 L311.5 809.03 L312.3 809.44 L313.1 810.3 L313.9 811.12 L314.7 811.68 L315.5 812.4 L316.3 812.97 L317.1 813.37 L317.9 813.91 L318.7 814.62 L319.5 815.27 L320.3 815.65 L321.1 816.24 L321.9 816.9 L322.7 817.24 L323.5 817.84 L324.3 818.25 L325.1 818.84 L325.9 818.91 L326.7 819.35 L327.5 819.97 L328.3 820.3 L329.1 820.42 L329.9 820.77 L330.7 821.14 L331.5 821.6 L332.3 822.06 L333.1 822.1 L333.9 822.41 L334.7 822.91 L335.5 823.11 L336.3 823.6 L337.1 823.98 L337.9 824.27 L338.7 824.52 L339.5 824.78 L340.3 824.95" fill="none" stroke="#f38c6e" stroke-width="1.2147720784313725" stroke-linejoin="round" />
<path d="M51.5 826.39 L52.3 826.56 L53.1 826.09 L53.9 826.03 L54.7 825.29 L55.5 824.85 L56.3 824.62 L57.1 823.69 L57.9 823.24 L58.7 822.5 L59.5 821.78 L60.3 821.08 L61.1 820.19 L61.9 819.66 L62.7 818.56 L63.5 817.8 L64.3 816.9 L65.1 816.17 L65.9 815.4 L66.7 814.77 L67.5 813.74 L68.3 812.83 L69.1 812.09 L69.9 811.61 L70.7 810.47 L71.5 809.95 L72.3 809.13 L73.1 808.52 L73.9 807.68 L74.7 807.11 L75.5 806.32 L76.3 805.67 L77.1 805.06 L77.9 804.21 L78.7 803.31 L79.5 802.55 L80.3 802.16 L81.1 801.21 L81.9 800.33 L82.7 799.84 L83.5 798.89 L84.3 798.13 L85.1 797.38 L85.9 796.31 L86.7 795.51 L87.5 794.88 L88.3 793.74 L89.1 793.13 L89.9 791.99 L90.7 791.35 L91.5 790.45 L92.3 789.64 L93.1 788.65 L93.9 787.57 L94.7 786.46 L95.5 785.44 L96.3 784.57 L97.1 783.53 L97.9 782.3 L98.7 781.56 L99.5 780.32 L100.3 779.27 L101.1 777.92 L101.9 776.76 L102.7 775.44 L103.5 774.31 L104.3 772.98 L105.1 771.71 L105.9 770.29 L106.7 769.02 L107.5 767.56 L108.3 765.72 L109.1 764.2 L109.9 762.47 L110.7 761 L111.5 759.42 L112.3 757.39 L113.1 755.88 L113.9 753.97 L114.7 752.12 L115.5 750.7 L116.3 748.82 L117.1 747.06 L117.9 745.45 L118.7 743.64 L119.5 741.99 L120.3 740.27 L121.1 738.51 L121.9 736.84 L122.7 734.98 L123.5 733.18 L124.3 731.44 L125.1 729.75 L125.9 728.21 L126.7 726.47 L127.5 724.98 L128.3 723.24 L129.1 721.7 L129.9 720.22 L130.7 718.27 L131.5 716.7 L132.3 715.21 L133.1 713.77 L133.9 712.32 L134.7 710.87 L135.5 709.21 L136.3 707.95 L137.1 706.08 L137.9 704.94 L138.7 703.22 L139.5 702.02 L140.3 700.23 L141.1 699.15 L141.9 697.62 L142.7 696.27 L143.5 694.67 L144.3 693.09 L145.1 692 L145.9 690.4 L146.7 688.9 L147.5 687.77 L148.3 686.42 L149.1 685.13 L149.9 683.78 L150.7 682.56 L151.5 681.58 L152.3 680.39 L153.1 679.17 L153.9 678.22 L154.7 677.29 L155.5 676.26 L156.3 675.16 L157.1 674.17 L157.9 673.21 L158.7 672.26 L159.5 671.39 L160.3 670.67 L161.1 669.74 L161.9 669.25 L162.7 668.56 L163.5 667.86 L164.3 667.05 L165.1 666.67 L165.9 666.2 L166.7 665.67 L167.5 665.67 L168.3 665.26 L169.1 664.95 L169.9 664.87 L170.7 664.52 L171.5 664.47 L172.3 664.55 L173.1 664.62 L173.9 664.61 L174.7 664.44 L175.5 664.8 L176.3 665.08 L177.1 665.21 L177.9 665.53 L178.7 665.81 L179.5 665.81 L180.3 666.15 L181.1 666.59 L181.9 667.12 L182.7 667.26 L183.5 667.87 L184.3 668.23 L185.1 668.52 L185.9 669 L186.7 669.59 L187.5 669.97 L188.3 670.24 L189.1 670.96 L189.9 671.2 L190.7 671.78 L191.5 672.52 L192.3 673.01 L193.1 673.34 L193.9 673.88 L194.7 674.56 L195.5 675.22 L196.3 675.74 L197.1 676.42 L197.9 676.92 L198.7 677.54 L199.5 678.06 L200.3 678.57 L201.1 679.2 L201.9 679.83 L202.7 680.47 L203.5 681.23 L204.3 681.65 L205.1 682.22 L205.9 683.15 L206.7 683.63 L207.5 684.36 L208.3 684.91 L209.1 685.87 L209.9 686.33 L210.7 687.01 L211.5 687.9 L212.3 688.47 L213.1 689.08 L213.9 690.03 L214.7 690.54 L215.5 691.23 L216.3 692.18 L217.1 692.87 L217.9 693.64 L218.7 694.2 L219.5 695.09 L220.3 695.63 L221.1 696.42 L221.9 697.06 L222.7 698.16 L223.5 699.05 L224.3 699.59 L225.1 700.25 L225.9 700.85 L226.7 701.7 L227.5 702.66 L228.3 703.66 L229.1 704.28 L229.9 705.04 L230.7 705.5 L231.5 705.81 L232.3 706.84 L233.1 708.12 L233.9 709.21 L234.7 709.96 L235.5 710.02 L236.3 710.54 L237.1 711.24 L237.9 712.15 L238.7 713.21 L239.5 714.09 L240.3 714.99 L241.1 715.2 L241.9 715.42 L242.7 716.03 L243.5 717.36 L244.3 718.57 L245.1 719.38 L245.9 719.71 L246.7 719.75 L247.5 720.18 L248.3 721.14 L249.1 722.39 L249.9 723.61 L250.7 724.13 L251.5 724.67 L252.3 724.79 L253.1 725.36 L253.9 726.51 L254.7 727.87 L255.5 728.99 L256.3 729.75 L257.1 729.79 L257.9 730.27 L258.7 731.2 L259.5 732.49 L260.3 734.08 L261.1 734.83 L261.9 735.38 L262.7 736.06 L263.5 736.9 L264.3 738.15 L265.1 739.52 L265.9 740.84 L266.7 742.12 L267.5 742.87 L268.3 743.61 L269.1 744.79 L269.9 746.43 L270.7 748.05 L271.5 749.46 L272.3 750.31 L273.1 751.44 L273.9 752.66 L274.7 754.03 L275.5 755.93 L276.3 757.37 L277.1 759.26 L277.9 760.6 L278.7 762.05 L279.5 763.55 L280.3 765.46 L281.1 767.05 L281.9 768.86 L282.7 770.44 L283.5 771.88 L284.3 773.53 L285.1 774.85 L285.9 776.28 L286.7 777.85 L287.5 779.11 L288.3 780.29 L289.1 781.71 L289.9 782.84 L290.7 783.9 L291.5 785.35 L292.3 786.35 L293.1 787.66 L293.9 788.56 L294.7 789.79 L295.5 790.56 L296.3 791.56 L297.1 792.67 L297.9 793.75 L298.7 794.73 L299.5 795.61 L300.3 796.33 L301.1 797.35 L301.9 798.11 L302.7 799.13 L303.5 800.24 L304.3 800.87 L305.1 801.86 L305.9 802.67 L306.7 803.31 L307.5 804.33 L308.3 804.89 L309.1 805.72 L309.9 806.64 L310.7 807.21 L311.5 808.3 L312.3 808.8 L313.1 809.6 L313.9 810.45 L314.7 810.78 L315.5 811.8 L316.3 812.09 L317.1 812.95 L317.9 813.6 L318.7 814.36 L319.5 814.69 L320.3 815.52 L321.1 815.98 L321.9 816.44 L322.7 816.84 L323.5 817.39 L324.3 817.91 L325.1 818.35 L325.9 818.81 L326.7 819.39 L327.5 819.61 L328.3 820.1 L329.1 820.22 L329.9 820.62 L330.7 821.19 L331.5 821.6 L332.3 821.7 L333.1 821.91 L333.9 822.31 L334.7 822.68 L335.5 823 L336.3 823.4 L337.1 823.63 L337.9 824.1 L338.7 824.49 L339.5 824.85 L340.3 825.19" fill="none" stroke="#f28263" stroke-width="1.2399385098039215" stroke-linejoin="round" />
<path d="M51.5 826.43 L52.3 826.23 L53.1 826.3 L53.9 825.77 L54.7 825.42 L55.5 824.8 L56.3 824.1 L57.1 823.61 L57.9 822.74 L58.7 822.17 L59.5 821.25 L60.3 820.48 L61.1 819.77 L61.9 819.08 L62.7 817.94 L63.5 817.09 L64.3 816.36 L65.1 815.58 L65.9 814.53 L66.7 813.56 L67.5 812.9 L68.3 811.65 L69.1 811.09 L69.9 810.04 L70.7 809.14 L71.5 808.32 L72.3 807.61 L73.1 807.03 L73.9 806.01 L74.7 805.4 L75.5 804.66 L76.3 803.79 L77.1 803.1 L77.9 802.14 L78.7 801.37 L79.5 800.65 L80.3 800.05 L81.1 799.15 L81.9 798.28 L82.7 797.56 L83.5 796.65 L84.3 795.73 L85.1 795.05 L85.9 794.13 L86.7 793.05 L87.5 792.29 L88.3 791.37 L89.1 790.59 L89.9 789.61 L90.7 788.48 L91.5 787.81 L92.3 786.49 L93.1 785.61 L93.9 784.73 L94.7 783.45 L95.5 782.53 L96.3 781.26 L97.1 780.42 L97.9 779.34 L98.7 778.14 L99.5 777.1 L100.3 775.71 L101.1 774.66 L101.9 773.38 L102.7 772.13 L103.5 770.77 L104.3 769.59 L105.1 768.25 L105.9 766.64 L106.7 765.24 L107.5 763.47 L108.3 762.16 L109.1 760.49 L109.9 758.93 L110.7 757.12 L111.5 755.13 L112.3 753.38 L113.1 751.66 L113.9 749.57 L114.7 747.91 L115.5 745.97 L116.3 744.12 L117.1 742.29 L117.9 740.78 L118.7 738.73 L119.5 736.96 L120.3 735.2 L121.1 733.57 L121.9 731.42 L122.7 729.74 L123.5 727.95 L124.3 726.26 L125.1 724.42 L125.9 722.63 L126.7 720.61 L127.5 718.89 L128.3 717.12 L129.1 715.6 L129.9 713.94 L130.7 711.93 L131.5 710.29 L132.3 708.68 L133.1 707.07 L133.9 705.58 L134.7 704.03 L135.5 702.33 L136.3 700.67 L137.1 699.28 L137.9 697.73 L138.7 696.28 L139.5 694.93 L140.3 693.32 L141.1 691.75 L141.9 690.31 L142.7 688.84 L143.5 687.12 L144.3 685.97 L145.1 684.46 L145.9 683.05 L146.7 681.58 L147.5 679.99 L148.3 678.61 L149.1 677.12 L149.9 675.99 L150.7 674.45 L151.5 673.19 L152.3 672.02 L153.1 670.8 L153.9 669.72 L154.7 668.48 L155.5 667.37 L156.3 666.37 L157.1 665.3 L157.9 664.41 L158.7 663.3 L159.5 662.69 L160.3 661.69 L161.1 660.62 L161.9 659.85 L162.7 659.09 L163.5 658.36 L164.3 657.58 L165.1 657.2 L165.9 656.68 L166.7 655.93 L167.5 655.44 L168.3 654.86 L169.1 654.5 L169.9 654.28 L170.7 653.99 L171.5 654.02 L172.3 653.61 L173.1 653.45 L173.9 653.75 L174.7 653.57 L175.5 653.42 L176.3 653.63 L177.1 653.54 L177.9 653.9 L178.7 654.29 L179.5 654.5 L180.3 654.71 L181.1 654.85 L181.9 655.23 L182.7 655.52 L183.5 656.15 L184.3 656.46 L185.1 656.97 L185.9 657.22 L186.7 657.62 L187.5 658.32 L188.3 658.87 L189.1 659.3 L189.9 659.77 L190.7 660.31 L191.5 660.81 L192.3 661.14 L193.1 661.79 L193.9 662.29 L194.7 662.74 L195.5 663.32 L196.3 664 L197.1 664.58 L197.9 665.37 L198.7 666.08 L199.5 666.5 L200.3 667.31 L201.1 667.97 L201.9 668.59 L202.7 668.99 L203.5 669.58 L204.3 670.24 L205.1 670.89 L205.9 671.57 L206.7 672.41 L207.5 673.21 L208.3 673.88 L209.1 674.43 L209.9 675.2 L210.7 675.96 L211.5 676.38 L212.3 677.32 L213.1 678.13 L213.9 678.8 L214.7 679.52 L215.5 680.13 L216.3 680.72 L217.1 681.75 L217.9 682.4 L218.7 683.39 L219.5 684.16 L220.3 684.55 L221.1 685.22 L221.9 686.28 L222.7 687.19 L223.5 687.94 L224.3 688.7 L225.1 689.26 L225.9 690.08 L226.7 690.76 L227.5 691.53 L228.3 692.97 L229.1 694.04 L229.9 694.55 L230.7 694.82 L231.5 695.38 L232.3 696.07 L233.1 697.25 L233.9 698.87 L234.7 699.62 L235.5 700 L236.3 700.41 L237.1 700.72 L237.9 701.91 L238.7 703.22 L239.5 704.15 L240.3 704.83 L241.1 705.05 L241.9 705.22 L242.7 706.01 L243.5 707.08 L244.3 708.52 L245.1 709.45 L245.9 710.21 L246.7 710.09 L247.5 710.42 L248.3 711.34 L249.1 712.86 L249.9 714.03 L250.7 715.09 L251.5 715.21 L252.3 715.37 L253.1 715.92 L253.9 716.87 L254.7 718.51 L255.5 719.67 L256.3 720.35 L257.1 720.98 L257.9 721.08 L258.7 722.04 L259.5 723.5 L260.3 725.01 L261.1 726.15 L261.9 726.91 L262.7 727.35 L263.5 728.09 L264.3 729.03 L265.1 730.83 L265.9 732.3 L266.7 733.56 L267.5 734.61 L268.3 735.34 L269.1 736.51 L269.9 738.17 L270.7 740.01 L271.5 741.47 L272.3 742.87 L273.1 743.95 L273.9 745.17 L274.7 746.76 L275.5 748.48 L276.3 750.39 L277.1 752.15 L277.9 753.92 L278.7 755.42 L279.5 757.18 L280.3 759.09 L281.1 760.78 L281.9 762.79 L282.7 764.75 L283.5 766.43 L284.3 767.89 L285.1 769.62 L285.9 771.43 L286.7 772.9 L287.5 774.5 L288.3 775.95 L289.1 777.59 L289.9 779.04 L290.7 780.42 L291.5 781.45 L292.3 782.94 L293.1 784.17 L293.9 785.17 L294.7 786.66 L295.5 787.85 L296.3 788.68 L297.1 790.09 L297.9 790.95 L298.7 792.06 L299.5 793.3 L300.3 794.27 L301.1 795.01 L301.9 796.12 L302.7 797.12 L303.5 798.02 L304.3 798.92 L305.1 799.9 L305.9 800.98 L306.7 801.61 L307.5 802.71 L308.3 803.53 L309.1 804.23 L309.9 805.19 L310.7 806.13 L311.5 806.91 L312.3 807.52 L313.1 808.66 L313.9 809.35 L314.7 810.17 L315.5 810.54 L316.3 811.33 L317.1 811.93 L317.9 812.91 L318.7 813.38 L319.5 813.97 L320.3 814.71 L321.1 815.53 L321.9 816.08 L322.7 816.41 L323.5 816.92 L324.3 817.74 L325.1 818.08 L325.9 818.61 L326.7 818.8 L327.5 819.2 L328.3 819.86 L329.1 820.14 L329.9 820.37 L330.7 821.08 L331.5 821.31 L332.3 821.71 L333.1 821.77 L333.9 822.41 L334.7 822.43 L335.5 823.08 L336.3 823.25 L337.1 823.55 L337.9 823.98 L338.7 824.48 L339.5 824.59 L340.3 824.91" fill="none" stroke="#f17654" stroke-width="1.2743767843137255" stroke-linejoin="round" />
<path d="M51.5 826.62 L52.3 826.5 L53.1 826.24 L53.9 825.84 L54.7 825.17 L55.5 824.86 L56.3 824.18 L57.1 823.59 L57.9 822.72 L58.7 822.12 L59.5 821.1 L60.3 820.49 L61.1 819.58 L61.9 818.56 L62.7 817.7 L63.5 816.82 L64.3 815.69 L65.1 814.89 L65.9 814.04 L66.7 812.88 L67.5 812.15 L68.3 811.18 L69.1 810.32 L69.9 809.23 L70.7 808.26 L71.5 807.68 L72.3 806.86 L73.1 805.89 L73.9 804.95 L74.7 804.18 L75.5 803.57 L76.3 802.63 L77.1 802.1 L77.9 801.16 L78.7 800.2 L79.5 799.58 L80.3 798.64 L81.1 798.04 L81.9 797.18 L82.7 796.17 L83.5 795.33 L84.3 794.46 L85.1 793.59 L85.9 792.75 L86.7 791.44 L87.5 790.64 L88.3 789.79 L89.1 788.72 L89.9 787.87 L90.7 786.69 L91.5 786.02 L92.3 784.86 L93.1 783.67 L93.9 782.84 L94.7 781.63 L95.5 780.48 L96.3 779.48 L97.1 778.2 L97.9 777.08 L98.7 776.17 L99.5 774.91 L100.3 773.43 L101.1 772.5 L101.9 770.94 L102.7 769.77 L103.5 768.68 L104.3 767.19 L105.1 765.67 L105.9 764.26 L106.7 762.77 L107.5 761.13 L108.3 759.87 L109.1 757.84 L109.9 756.27 L110.7 754.62 L111.5 752.68 L112.3 751.06 L113.1 748.9 L113.9 747.3 L114.7 745.36 L115.5 743.37 L116.3 741.57 L117.1 739.5 L117.9 737.79 L118.7 735.92 L119.5 733.96 L120.3 732.07 L121.1 730.28 L121.9 728.28 L122.7 726.26 L123.5 724.64 L124.3 722.56 L125.1 720.77 L125.9 719.02 L126.7 716.91 L127.5 715.01 L128.3 713.23 L129.1 711.62 L129.9 709.74 L130.7 707.96 L131.5 706.31 L132.3 704.81 L133.1 702.86 L133.9 701.27 L134.7 699.83 L135.5 698.09 L136.3 696.36 L137.1 694.85 L137.9 693.28 L138.7 691.58 L139.5 690.12 L140.3 688.56 L141.1 687.23 L141.9 685.52 L142.7 684.14 L143.5 682.76 L144.3 681.24 L145.1 679.52 L145.9 678.11 L146.7 676.53 L147.5 675.09 L148.3 673.68 L149.1 672.38 L149.9 671.05 L150.7 669.41 L151.5 667.96 L152.3 666.83 L153.1 665.42 L153.9 664.18 L154.7 663.3 L155.5 661.87 L156.3 661.01 L157.1 659.79 L157.9 658.96 L158.7 657.91 L159.5 656.59 L160.3 655.7 L161.1 655.07 L161.9 654.06 L162.7 653.15 L163.5 652.48 L164.3 651.74 L165.1 650.89 L165.9 650.23 L166.7 649.45 L167.5 649 L168.3 648.41 L169.1 648.13 L169.9 647.75 L170.7 647.22 L171.5 647.11 L172.3 646.68 L173.1 646.51 L173.9 646.58 L174.7 646.43 L175.5 646.55 L176.3 646.42 L177.1 646.48 L177.9 646.34 L178.7 646.76 L179.5 646.65 L180.3 647.1 L181.1 647.5 L181.9 647.82 L182.7 648.16 L183.5 648.36 L184.3 648.85 L185.1 649.31 L185.9 649.49 L186.7 650.25 L187.5 650.68 L188.3 650.98 L189.1 651.61 L189.9 651.98 L190.7 652.42 L191.5 653.13 L192.3 653.42 L193.1 654.27 L193.9 654.9 L194.7 655.19 L195.5 656.04 L196.3 656.3 L197.1 657.21 L197.9 657.59 L198.7 658.49 L199.5 658.91 L200.3 659.74 L201.1 660.03 L201.9 660.7 L202.7 661.65 L203.5 662.24 L204.3 662.86 L205.1 663.33 L205.9 664.07 L206.7 664.84 L207.5 665.41 L208.3 666.49 L209.1 667.11 L209.9 667.89 L210.7 668.51 L211.5 669.08 L212.3 669.7 L213.1 670.69 L213.9 671.17 L214.7 672.08 L215.5 672.78 L216.3 673.52 L217.1 674.13 L217.9 674.99 L218.7 676.01 L219.5 676.54 L220.3 677.36 L221.1 677.86 L221.9 678.74 L222.7 679.7 L223.5 680.92 L224.3 681.7 L225.1 682.22 L225.9 682.69 L226.7 683.5 L227.5 684.65 L228.3 685.69 L229.1 686.71 L229.9 687.51 L230.7 687.87 L231.5 688.4 L232.3 689.28 L233.1 690.44 L233.9 691.65 L234.7 692.74 L235.5 693.26 L236.3 693.49 L237.1 693.88 L237.9 695.08 L238.7 696.3 L239.5 697.68 L240.3 698.52 L241.1 698.73 L241.9 698.89 L242.7 699.24 L243.5 700.53 L244.3 702.15 L245.1 703.04 L245.9 703.8 L246.7 703.79 L247.5 703.82 L248.3 704.57 L249.1 706.25 L249.9 707.53 L250.7 708.83 L251.5 708.95 L252.3 709.11 L253.1 709.38 L253.9 710.69 L254.7 712.36 L255.5 713.59 L256.3 714.58 L257.1 715.08 L257.9 715.1 L258.7 715.9 L259.5 717.37 L260.3 719.07 L261.1 720.22 L261.9 721.25 L262.7 721.46 L263.5 722.01 L264.3 723.48 L265.1 724.76 L265.9 726.86 L266.7 728.17 L267.5 729.1 L268.3 729.93 L269.1 730.99 L269.9 732.44 L270.7 734.39 L271.5 736.11 L272.3 737.84 L273.1 739.01 L273.9 740.24 L274.7 741.52 L275.5 743.56 L276.3 745.42 L277.1 747.55 L277.9 749.25 L278.7 751 L279.5 752.67 L280.3 754.62 L281.1 756.75 L281.9 758.53 L282.7 760.68 L283.5 762.34 L284.3 764.33 L285.1 766.13 L285.9 768.26 L286.7 769.68 L287.5 771.71 L288.3 773.35 L289.1 774.69 L289.9 776.35 L290.7 777.49 L291.5 778.94 L292.3 780.27 L293.1 781.63 L293.9 782.92 L294.7 784.51 L295.5 785.47 L296.3 786.87 L297.1 787.94 L297.9 789.04 L298.7 790.3 L299.5 791.31 L300.3 792.73 L301.1 793.56 L301.9 794.71 L302.7 795.74 L303.5 796.78 L304.3 797.74 L305.1 798.66 L305.9 799.57 L306.7 800.84 L307.5 801.5 L308.3 802.52 L309.1 803.58 L309.9 804.38 L310.7 805.39 L311.5 806.2 L312.3 806.92 L313.1 807.58 L313.9 808.58 L314.7 809.32 L315.5 810.23 L316.3 810.86 L317.1 811.66 L317.9 812.42 L318.7 812.99 L319.5 813.82 L320.3 814.5 L321.1 814.85 L321.9 815.78 L322.7 816.34 L323.5 816.91 L324.3 817.25 L325.1 817.71 L325.9 818.15 L326.7 818.71 L327.5 819.33 L328.3 819.56 L329.1 819.82 L329.9 820.31 L330.7 820.6 L331.5 821.18 L332.3 821.58 L333.1 821.99 L333.9 822 L334.7 822.46 L335.5 822.7 L336.3 823.36 L337.1 823.68 L337.9 823.91 L338.7 824.44 L339.5 824.66 L340.3 825.15" fill="none" stroke="#f06d4a" stroke-width="1.2968941176470588" stroke-linejoin="round" />
<path d="M51.5 826.55 L52.3 826.47 L53.1 826.37 L53.9 826.11 L54.7 825.44 L55.5 824.9 L56.3 823.92 L57.1 823.34 L57.9 822.77 L58.7 821.86 L59.5 821.1 L60.3 819.91 L61.1 819.14 L61.9 818.1 L62.7 817.27 L63.5 816.3 L64.3 815.08 L65.1 814.17 L65.9 813.2 L66.7 812.45 L67.5 811.4 L68.3 810.18 L69.1 809.46 L69.9 808.25 L70.7 807.53 L71.5 806.42 L72.3 805.5 L73.1 804.98 L73.9 803.87 L74.7 803.03 L75.5 802.51 L76.3 801.63 L77.1 800.57 L77.9 800.01 L78.7 799 L79.5 798.22 L80.3 797.18 L81.1 796.61 L81.9 795.63 L82.7 794.85 L83.5 793.91 L84.3 792.75 L85.1 791.83 L85.9 790.79 L86.7 789.82 L87.5 788.81 L88.3 787.93 L89.1 787.06 L89.9 785.81 L90.7 785.07 L91.5 783.89 L92.3 782.84 L93.1 781.97 L93.9 780.75 L94.7 779.57 L95.5 778.51 L96.3 777.43 L97.1 775.99 L97.9 775.16 L98.7 773.57 L99.5 772.63 L100.3 771.41 L101.1 769.82 L101.9 768.82 L102.7 767.33 L103.5 766.06 L104.3 764.45 L105.1 763.03 L105.9 761.61 L106.7 760.42 L107.5 758.55 L108.3 757.17 L109.1 755.56 L109.9 753.84 L110.7 751.8 L111.5 749.95 L112.3 748.14 L113.1 746.31 L113.9 744.1 L114.7 742.39 L115.5 740.43 L116.3 738.49 L117.1 736.19 L117.9 734.6 L118.7 732.33 L119.5 730.51 L120.3 728.7 L121.1 726.89 L121.9 724.72 L122.7 723 L123.5 720.9 L124.3 718.85 L125.1 716.91 L125.9 714.91 L126.7 712.94 L127.5 711.04 L128.3 709.36 L129.1 707.6 L129.9 705.41 L130.7 703.52 L131.5 702.1 L132.3 700.13 L133.1 698.34 L133.9 696.55 L134.7 694.99 L135.5 693.41 L136.3 691.6 L137.1 689.94 L137.9 688.16 L138.7 686.91 L139.5 684.95 L140.3 683.56 L141.1 682.13 L141.9 680.29 L142.7 678.99 L143.5 677.54 L144.3 675.88 L145.1 674.41 L145.9 672.62 L146.7 671.22 L147.5 669.61 L148.3 668.39 L149.1 666.7 L149.9 665.29 L150.7 664.09 L151.5 662.62 L152.3 661.3 L153.1 659.74 L153.9 658.46 L154.7 657.29 L155.5 655.97 L156.3 654.71 L157.1 653.61 L157.9 652.39 L158.7 651.41 L159.5 650.6 L160.3 649.58 L161.1 648.47 L161.9 647.48 L162.7 646.51 L163.5 645.54 L164.3 644.8 L165.1 644.21 L165.9 643.52 L166.7 642.63 L167.5 642.15 L168.3 641.55 L169.1 640.97 L169.9 640.48 L170.7 640.08 L171.5 639.55 L172.3 639.37 L173.1 638.91 L173.9 638.79 L174.7 638.74 L175.5 638.56 L176.3 638.33 L177.1 638.55 L177.9 638.4 L178.7 638.42 L179.5 638.3 L180.3 638.67 L181.1 638.77 L181.9 639.21 L182.7 639.44 L183.5 639.93 L184.3 640.24 L185.1 640.7 L185.9 640.95 L186.7 641.53 L187.5 642.03 L188.3 642.53 L189.1 642.81 L189.9 643.53 L190.7 644.07 L191.5 644.52 L192.3 645.16 L193.1 645.73 L193.9 646.13 L194.7 646.71 L195.5 647.15 L196.3 648.02 L197.1 648.69 L197.9 649.13 L198.7 649.84 L199.5 650.49 L200.3 651.15 L201.1 651.59 L201.9 652.49 L202.7 653.07 L203.5 653.79 L204.3 654.38 L205.1 655.15 L205.9 655.9 L206.7 656.55 L207.5 657.29 L208.3 657.73 L209.1 658.5 L209.9 659.34 L210.7 660.16 L211.5 660.72 L212.3 661.64 L213.1 662.36 L213.9 662.87 L214.7 663.79 L215.5 664.43 L216.3 665.1 L217.1 665.92 L217.9 666.87 L218.7 667.69 L219.5 668.47 L220.3 669.04 L221.1 669.83 L221.9 670.59 L222.7 671.72 L223.5 672.83 L224.3 673.63 L225.1 674.53 L225.9 674.62 L226.7 675.37 L227.5 676.31 L228.3 677.66 L229.1 678.79 L229.9 679.92 L230.7 680.15 L231.5 680.34 L232.3 681.27 L233.1 682.3 L233.9 683.98 L234.7 685.12 L235.5 685.82 L236.3 686.15 L237.1 686.38 L237.9 687.1 L238.7 688.71 L239.5 690.15 L240.3 691.04 L241.1 691.25 L241.9 691.45 L242.7 691.82 L243.5 693.08 L244.3 694.69 L245.1 695.97 L245.9 696.59 L246.7 696.9 L247.5 696.57 L248.3 697.24 L249.1 698.8 L249.9 700.49 L250.7 701.58 L251.5 702.28 L252.3 702.4 L253.1 702.41 L253.9 703.42 L254.7 704.98 L255.5 706.67 L256.3 708.01 L257.1 708.12 L257.9 708.56 L258.7 709.16 L259.5 710.37 L260.3 711.99 L261.1 713.86 L261.9 714.67 L262.7 715.11 L263.5 715.55 L264.3 716.81 L265.1 718.28 L265.9 720.07 L266.7 721.74 L267.5 722.64 L268.3 723.65 L269.1 724.61 L269.9 726.12 L270.7 728.31 L271.5 730.31 L272.3 731.63 L273.1 733.13 L273.9 734.27 L274.7 736.07 L275.5 737.9 L276.3 739.84 L277.1 741.87 L277.9 743.71 L278.7 745.77 L279.5 747.35 L280.3 749.53 L281.1 751.71 L281.9 754.01 L282.7 756.11 L283.5 758.2 L284.3 759.97 L285.1 762.27 L285.9 764.09 L286.7 766.1 L287.5 767.91 L288.3 769.65 L289.1 771.48 L289.9 773.06 L290.7 774.62 L291.5 776.29 L292.3 777.73 L293.1 778.95 L293.9 780.45 L294.7 781.91 L295.5 783.43 L296.3 784.73 L297.1 785.87 L297.9 786.91 L298.7 788.43 L299.5 789.49 L300.3 790.72 L301.1 791.93 L301.9 793.02 L302.7 794.09 L303.5 795.34 L304.3 796.21 L305.1 797.29 L305.9 798.5 L306.7 799.26 L307.5 800.32 L308.3 801.5 L309.1 802.16 L309.9 803.44 L310.7 804.29 L311.5 805.1 L312.3 805.94 L313.1 807 L313.9 807.9 L314.7 808.44 L315.5 809.38 L316.3 810.2 L317.1 810.97 L317.9 811.65 L318.7 812.32 L319.5 813.22 L320.3 814 L321.1 814.38 L321.9 815.12 L322.7 815.96 L323.5 816.55 L324.3 817.09 L325.1 817.34 L325.9 818.13 L326.7 818.73 L327.5 819.17 L328.3 819.49 L329.1 819.65 L329.9 820.36 L330.7 820.5 L331.5 821.04 L332.3 821.52 L333.1 821.79 L333.9 821.91 L334.7 822.32 L335.5 822.92 L336.3 822.97 L337.1 823.52 L337.9 823.8 L338.7 824.07 L339.5 824.66 L340.3 824.83" fill="none" stroke="#f0643f" stroke-width="1.3220605490196078" stroke-linejoin="round" />
<path d="M51.5 826.39 L52.3 826.21 L53.1 826.21 L53.9 825.79 L54.7 825.14 L55.5 824.64 L56.3 824.2 L57.1 823.36 L57.9 822.56 L58.7 821.52 L59.5 820.74 L60.3 819.72 L61.1 818.73 L61.9 817.71 L62.7 816.76 L63.5 816.03 L64.3 814.95 L65.1 813.9 L65.9 812.86 L66.7 811.57 L67.5 810.57 L68.3 809.68 L69.1 808.71 L69.9 807.76 L70.7 806.81 L71.5 805.54 L72.3 804.83 L73.1 803.96 L73.9 803.01 L74.7 802 L75.5 801.25 L76.3 800.24 L77.1 799.71 L77.9 798.82 L78.7 797.83 L79.5 796.86 L80.3 796.23 L81.1 795.2 L81.9 794.43 L82.7 793.49 L83.5 792.43 L84.3 791.43 L85.1 790.54 L85.9 789.47 L86.7 788.37 L87.5 787.42 L88.3 786.61 L89.1 785.27 L89.9 784.24 L90.7 783.42 L91.5 782.21 L92.3 781.23 L93.1 780.1 L93.9 778.93 L94.7 778.05 L95.5 776.56 L96.3 775.46 L97.1 774.16 L97.9 773.09 L98.7 771.7 L99.5 770.46 L100.3 769.33 L101.1 767.86 L101.9 766.63 L102.7 765.41 L103.5 763.7 L104.3 762.28 L105.1 760.89 L105.9 759.62 L106.7 758.02 L107.5 756.31 L108.3 754.7 L109.1 752.97 L109.9 751.34 L110.7 749.36 L111.5 747.76 L112.3 745.91 L113.1 743.98 L113.9 741.9 L114.7 739.97 L115.5 737.56 L116.3 735.63 L117.1 733.87 L117.9 731.77 L118.7 729.61 L119.5 727.84 L120.3 725.74 L121.1 723.84 L121.9 721.64 L122.7 719.6 L123.5 717.7 L124.3 715.57 L125.1 713.66 L125.9 711.89 L126.7 709.64 L127.5 707.53 L128.3 705.57 L129.1 703.67 L129.9 701.97 L130.7 699.9 L131.5 697.98 L132.3 696.07 L133.1 694.58 L133.9 692.58 L134.7 690.72 L135.5 688.93 L136.3 687.21 L137.1 685.56 L137.9 684.09 L138.7 682.22 L139.5 680.54 L140.3 679.09 L141.1 677.39 L141.9 676.1 L142.7 674.17 L143.5 672.77 L144.3 671.31 L145.1 669.61 L145.9 668.29 L146.7 666.54 L147.5 664.9 L148.3 663.44 L149.1 661.77 L149.9 660.42 L150.7 658.87 L151.5 657.67 L152.3 656.21 L153.1 654.67 L153.9 653.11 L154.7 651.87 L155.5 650.57 L156.3 649.3 L157.1 648.1 L157.9 647.17 L158.7 645.76 L159.5 644.62 L160.3 643.9 L161.1 642.73 L161.9 641.9 L162.7 640.72 L163.5 639.99 L164.3 639.01 L165.1 638.23 L165.9 637.41 L166.7 636.56 L167.5 635.69 L168.3 635.08 L169.1 634.72 L169.9 634.18 L170.7 633.68 L171.5 632.98 L172.3 632.72 L173.1 632.43 L173.9 632.06 L174.7 631.88 L175.5 631.57 L176.3 631.47 L177.1 631.36 L177.9 631.12 L178.7 631.35 L179.5 631.36 L180.3 631.07 L181.1 631.56 L181.9 631.76 L182.7 631.9 L183.5 631.95 L184.3 632.64 L185.1 632.72 L185.9 633.47 L186.7 633.78 L187.5 634.01 L188.3 634.54 L189.1 635.21 L189.9 635.67 L190.7 636.26 L191.5 636.88 L192.3 637.15 L193.1 637.61 L193.9 638.55 L194.7 638.78 L195.5 639.73 L196.3 640.03 L197.1 640.91 L197.9 641.55 L198.7 642.23 L199.5 642.75 L200.3 643.53 L201.1 643.93 L201.9 644.8 L202.7 645.35 L203.5 646.26 L204.3 646.91 L205.1 647.5 L205.9 648.23 L206.7 648.74 L207.5 649.46 L208.3 650.42 L209.1 651.11 L209.9 652 L210.7 652.64 L211.5 653.2 L212.3 654.04 L213.1 654.96 L213.9 655.61 L214.7 656.18 L215.5 657.26 L216.3 657.98 L217.1 658.47 L217.9 659.55 L218.7 660.41 L219.5 661.38 L220.3 661.84 L221.1 662.4 L221.9 663.26 L222.7 664.48 L223.5 665.31 L224.3 666.36 L225.1 667.25 L225.9 667.8 L226.7 668.17 L227.5 669.06 L228.3 670.56 L229.1 671.89 L229.9 672.59 L230.7 673.38 L231.5 673.37 L232.3 674 L233.1 675.4 L233.9 676.81 L234.7 678.36 L235.5 678.88 L236.3 679.35 L237.1 679.25 L237.9 679.99 L238.7 681.58 L239.5 683.19 L240.3 684.47 L241.1 685.04 L241.9 684.92 L242.7 684.86 L243.5 685.98 L244.3 687.72 L245.1 689.33 L245.9 690.34 L246.7 690.39 L247.5 690.15 L248.3 690.67 L249.1 692.23 L249.9 693.81 L250.7 695.46 L251.5 696.22 L252.3 696.1 L253.1 696.19 L253.9 696.96 L254.7 698.48 L255.5 700.57 L256.3 701.69 L257.1 702.35 L257.9 702.18 L258.7 702.89 L259.5 704.12 L260.3 705.89 L261.1 707.57 L261.9 708.61 L262.7 709.41 L263.5 709.66 L264.3 710.68 L265.1 712.06 L265.9 714.04 L266.7 715.81 L267.5 717.27 L268.3 717.83 L269.1 719.07 L269.9 720.39 L270.7 722.5 L271.5 724.56 L272.3 726.49 L273.1 727.68 L273.9 729.07 L274.7 730.79 L275.5 732.43 L276.3 734.84 L277.1 736.91 L277.9 738.86 L278.7 740.6 L279.5 742.47 L280.3 744.99 L281.1 747.27 L281.9 749.65 L282.7 751.93 L283.5 754.17 L284.3 756.02 L285.1 758.37 L285.9 760.49 L286.7 762.59 L287.5 764.78 L288.3 766.63 L289.1 768.57 L289.9 770 L290.7 771.91 L291.5 773.57 L292.3 775.2 L293.1 776.71 L293.9 778.3 L294.7 779.57 L295.5 781.24 L296.3 782.45 L297.1 783.87 L297.9 785.33 L298.7 786.54 L299.5 787.66 L300.3 788.87 L301.1 790.14 L301.9 791.45 L302.7 792.78 L303.5 793.9 L304.3 794.84 L305.1 795.97 L305.9 797.23 L306.7 798.1 L307.5 799.22 L308.3 800.09 L309.1 801.18 L309.9 802.33 L310.7 803.37 L311.5 804.29 L312.3 805.14 L313.1 806.28 L313.9 807.05 L314.7 807.75 L315.5 808.56 L316.3 809.76 L317.1 810.59 L317.9 811.35 L318.7 812 L319.5 812.65 L320.3 813.28 L321.1 814.06 L321.9 814.76 L322.7 815.67 L323.5 816.28 L324.3 816.86 L325.1 817.14 L325.9 817.7 L326.7 818.25 L327.5 818.96 L328.3 819.09 L329.1 819.79 L329.9 820.14 L330.7 820.49 L331.5 821.04 L332.3 821.13 L333.1 821.6 L333.9 821.82 L334.7 822.15 L335.5 822.48 L336.3 822.96 L337.1 823.25 L337.9 823.6 L338.7 824.36 L339.5 824.49 L340.3 825.14" fill="none" stroke="#ef5c35" stroke-width="1.344577882352941" stroke-linejoin="round" />
<path d="M51.5 826.4 L52.3 826.39 L53.1 826.2 L53.9 825.97 L54.7 825.35 L55.5 824.46 L56.3 823.77 L57.1 823.28 L57.9 822.22 L58.7 821.37 L59.5 820.72 L60.3 819.57 L61.1 818.73 L61.9 817.56 L62.7 816.59 L63.5 815.34 L64.3 814.45 L65.1 813.47 L65.9 812.25 L66.7 811.25 L67.5 810.13 L68.3 808.83 L69.1 808.05 L69.9 806.93 L70.7 805.83 L71.5 804.73 L72.3 804.09 L73.1 803.01 L73.9 802.18 L74.7 801.34 L75.5 800.37 L76.3 799.57 L77.1 798.46 L77.9 797.74 L78.7 796.71 L79.5 796 L80.3 795.08 L81.1 793.85 L81.9 792.94 L82.7 792.03 L83.5 791.38 L84.3 790.18 L85.1 789.26 L85.9 788.11 L86.7 787.17 L87.5 786.08 L88.3 785.02 L89.1 784.05 L89.9 782.99 L90.7 782.03 L91.5 780.85 L92.3 779.83 L93.1 778.67 L93.9 777.57 L94.7 776.28 L95.5 774.87 L96.3 773.94 L97.1 772.72 L97.9 771.43 L98.7 770.01 L99.5 768.76 L100.3 767.24 L101.1 766.15 L101.9 764.7 L102.7 763.2 L103.5 761.7 L104.3 760.57 L105.1 759.17 L105.9 757.28 L106.7 756.02 L107.5 754.27 L108.3 752.53 L109.1 750.9 L109.9 749.33 L110.7 747.58 L111.5 745.35 L112.3 743.65 L113.1 741.42 L113.9 739.67 L114.7 737.46 L115.5 735.59 L116.3 733.54 L117.1 731.25 L117.9 729.36 L118.7 727 L119.5 724.85 L120.3 723.03 L121.1 720.77 L121.9 718.81 L122.7 716.85 L123.5 714.88 L124.3 712.64 L125.1 710.54 L125.9 708.81 L126.7 706.54 L127.5 704.75 L128.3 702.69 L129.1 700.47 L129.9 698.5 L130.7 696.54 L131.5 694.65 L132.3 692.69 L133.1 690.8 L133.9 688.94 L134.7 687.25 L135.5 685.27 L136.3 683.48 L137.1 681.84 L137.9 679.92 L138.7 678.24 L139.5 676.83 L140.3 674.98 L141.1 673.34 L141.9 671.5 L142.7 670.04 L143.5 668.51 L144.3 666.7 L145.1 665.36 L145.9 663.79 L146.7 662 L147.5 660.66 L148.3 659.03 L149.1 657.56 L149.9 655.89 L150.7 654.51 L151.5 653.02 L152.3 651.24 L153.1 649.81 L153.9 648.62 L154.7 647.34 L155.5 645.68 L156.3 644.46 L157.1 643.21 L157.9 641.88 L158.7 640.68 L159.5 639.52 L160.3 638.42 L161.1 637.44 L161.9 636.27 L162.7 635.29 L163.5 634.48 L164.3 633.24 L165.1 632.58 L165.9 631.78 L166.7 630.81 L167.5 630 L168.3 629.52 L169.1 628.62 L169.9 627.96 L170.7 627.49 L171.5 627.06 L172.3 626.36 L173.1 626.02 L173.9 625.65 L174.7 625.54 L175.5 625.1 L176.3 625.05 L177.1 624.6 L177.9 624.52 L178.7 624.56 L179.5 624.6 L180.3 624.4 L181.1 624.34 L181.9 624.4 L182.7 624.74 L183.5 624.84 L184.3 625.37 L185.1 625.74 L185.9 625.86 L186.7 626.33 L187.5 626.99 L188.3 627.39 L189.1 627.96 L189.9 628.29 L190.7 628.71 L191.5 629.29 L192.3 630.06 L193.1 630.42 L193.9 631.02 L194.7 631.62 L195.5 632.24 L196.3 632.85 L197.1 633.68 L197.9 634 L198.7 634.59 L199.5 635.64 L200.3 636.28 L201.1 636.99 L201.9 637.46 L202.7 638.37 L203.5 639.06 L204.3 639.49 L205.1 640.41 L205.9 641.17 L206.7 641.84 L207.5 642.51 L208.3 643.15 L209.1 643.93 L209.9 644.63 L210.7 645.33 L211.5 646.29 L212.3 646.94 L213.1 647.92 L213.9 648.38 L214.7 649.5 L215.5 650.18 L216.3 651.01 L217.1 651.77 L217.9 652.67 L218.7 653.51 L219.5 654.14 L220.3 655.1 L221.1 655.45 L221.9 656.21 L222.7 657.36 L223.5 658.53 L224.3 659.62 L225.1 660.61 L225.9 660.92 L226.7 661.26 L227.5 662.07 L228.3 663.63 L229.1 664.95 L229.9 666.21 L230.7 666.58 L231.5 666.74 L232.3 667.34 L233.1 668.55 L233.9 669.92 L234.7 671.74 L235.5 672.74 L236.3 672.95 L237.1 673.03 L237.9 673.3 L238.7 674.94 L239.5 676.84 L240.3 677.95 L241.1 678.62 L241.9 678.57 L242.7 678.73 L243.5 679.53 L244.3 681.21 L245.1 683.13 L245.9 683.98 L246.7 684.25 L247.5 684.1 L248.3 684.37 L249.1 685.55 L249.9 687.76 L250.7 689.4 L251.5 689.97 L252.3 690.21 L253.1 690.08 L253.9 690.7 L254.7 692.25 L255.5 694.37 L256.3 695.89 L257.1 696.45 L257.9 696.43 L258.7 696.76 L259.5 697.82 L260.3 699.87 L261.1 701.88 L261.9 703.07 L262.7 703.59 L263.5 704 L264.3 704.86 L265.1 706.49 L265.9 708.58 L266.7 710.36 L267.5 711.88 L268.3 712.65 L269.1 713.47 L269.9 714.86 L270.7 716.97 L271.5 719.32 L272.3 721.21 L273.1 722.86 L273.9 724.06 L274.7 725.48 L275.5 727.53 L276.3 729.87 L277.1 731.96 L277.9 734.19 L278.7 736.12 L279.5 738.24 L280.3 740.44 L281.1 742.65 L281.9 745.36 L282.7 747.76 L283.5 749.87 L284.3 752.24 L285.1 754.44 L285.9 757 L286.7 759.19 L287.5 761.43 L288.3 763.52 L289.1 765.43 L289.9 767.41 L290.7 769.13 L291.5 770.73 L292.3 772.61 L293.1 774.06 L293.9 775.71 L294.7 777.54 L295.5 778.76 L296.3 780.27 L297.1 781.71 L297.9 783.43 L298.7 784.53 L299.5 785.81 L300.3 787.46 L301.1 788.46 L301.9 790.02 L302.7 791.19 L303.5 792.48 L304.3 793.72 L305.1 794.76 L305.9 796.02 L306.7 796.83 L307.5 798.25 L308.3 799.25 L309.1 800.39 L309.9 801.21 L310.7 802.49 L311.5 803.56 L312.3 804.21 L313.1 805.28 L313.9 806.3 L314.7 807.34 L315.5 808 L316.3 808.84 L317.1 809.74 L317.9 810.71 L318.7 811.57 L319.5 812.23 L320.3 812.98 L321.1 813.73 L321.9 814.45 L322.7 815.14 L323.5 815.66 L324.3 816.47 L325.1 817.22 L325.9 817.54 L326.7 818.22 L327.5 818.45 L328.3 819.13 L329.1 819.62 L329.9 819.99 L330.7 820.34 L331.5 820.73 L332.3 821.17 L333.1 821.64 L333.9 821.72 L334.7 822.06 L335.5 822.69 L336.3 823.13 L337.1 823.35 L337.9 823.7 L338.7 824.2 L339.5 824.41 L340.3 824.87" fill="none" stroke="#ee542c" stroke-width="1.3657706666666665" stroke-linejoin="round" />
<path d="M51.5 826.68 L52.3 826.55 L53.1 826.08 L53.9 825.76 L54.7 825.42 L55.5 824.69 L56.3 823.97 L57.1 822.99 L57.9 822.26 L58.7 821.39 L59.5 820.4 L60.3 819.26 L61.1 818.37 L61.9 817.29 L62.7 816.35 L63.5 815.38 L64.3 814.25 L65.1 812.97 L65.9 811.82 L66.7 810.63 L67.5 809.41 L68.3 808.32 L69.1 807.4 L69.9 806.26 L70.7 805.26 L71.5 804.44 L72.3 803.28 L73.1 802.35 L73.9 801.26 L74.7 800.25 L75.5 799.44 L76.3 798.45 L77.1 797.69 L77.9 796.97 L78.7 795.93 L79.5 794.81 L80.3 794.17 L81.1 793.2 L81.9 792.23 L82.7 791.34 L83.5 790.3 L84.3 789.32 L85.1 788.12 L85.9 787.34 L86.7 786.28 L87.5 784.89 L88.3 784.06 L89.1 782.96 L89.9 781.77 L90.7 780.69 L91.5 779.55 L92.3 778.59 L93.1 777.26 L93.9 776.22 L94.7 774.83 L95.5 773.82 L96.3 772.59 L97.1 771.14 L97.9 769.89 L98.7 768.71 L99.5 767.3 L100.3 765.86 L101.1 764.4 L101.9 763.05 L102.7 761.8 L103.5 760.15 L104.3 758.99 L105.1 757.24 L105.9 755.97 L106.7 754.17 L107.5 752.82 L108.3 751.08 L109.1 749.28 L109.9 747.56 L110.7 745.77 L111.5 743.87 L112.3 741.8 L113.1 739.75 L113.9 737.83 L114.7 735.91 L115.5 733.67 L116.3 731.32 L117.1 729.47 L117.9 727.29 L118.7 725.23 L119.5 722.82 L120.3 720.96 L121.1 718.61 L121.9 716.78 L122.7 714.56 L123.5 712.45 L124.3 710.61 L125.1 708.21 L125.9 706.27 L126.7 704.31 L127.5 701.97 L128.3 699.88 L129.1 698.08 L129.9 695.85 L130.7 693.93 L131.5 691.65 L132.3 689.8 L133.1 687.76 L133.9 686.05 L134.7 683.92 L135.5 682.42 L136.3 680.22 L137.1 678.71 L137.9 676.65 L138.7 675 L139.5 673.5 L140.3 671.53 L141.1 669.86 L141.9 668.4 L142.7 666.63 L143.5 664.86 L144.3 663.63 L145.1 661.69 L145.9 660.05 L146.7 658.59 L147.5 657.11 L148.3 655.58 L149.1 653.75 L149.9 652.28 L150.7 650.6 L151.5 649.23 L152.3 647.83 L153.1 646.32 L153.9 644.92 L154.7 643.41 L155.5 642.05 L156.3 640.6 L157.1 639.18 L157.9 637.77 L158.7 636.71 L159.5 635.35 L160.3 634.11 L161.1 633.11 L161.9 632.21 L162.7 630.85 L163.5 630.02 L164.3 628.97 L165.1 628.08 L165.9 627.04 L166.7 626.5 L167.5 625.42 L168.3 624.78 L169.1 623.99 L169.9 623.15 L170.7 622.74 L171.5 621.98 L172.3 621.41 L173.1 620.94 L173.9 620.55 L174.7 620.16 L175.5 620.05 L176.3 619.7 L177.1 619.68 L177.9 619.47 L178.7 619.34 L179.5 618.93 L180.3 618.94 L181.1 618.84 L181.9 618.98 L182.7 619.08 L183.5 619.31 L184.3 619.51 L185.1 619.63 L185.9 620.05 L186.7 620.48 L187.5 620.71 L188.3 621.18 L189.1 621.82 L189.9 622.22 L190.7 622.99 L191.5 623.32 L192.3 623.79 L193.1 624.41 L193.9 625.01 L194.7 625.6 L195.5 626.31 L196.3 626.91 L197.1 627.49 L197.9 628.26 L198.7 628.73 L199.5 629.68 L200.3 630.38 L201.1 630.98 L201.9 631.54 L202.7 632.27 L203.5 633.02 L204.3 633.53 L205.1 634.4 L205.9 635.17 L206.7 635.79 L207.5 636.5 L208.3 637.53 L209.1 638.11 L209.9 638.94 L210.7 639.87 L211.5 640.52 L212.3 641.16 L213.1 642.22 L213.9 642.76 L214.7 643.41 L215.5 644.45 L216.3 644.96 L217.1 645.81 L217.9 646.91 L218.7 647.82 L219.5 648.48 L220.3 649.36 L221.1 649.9 L221.9 650.59 L222.7 651.45 L223.5 652.83 L224.3 653.86 L225.1 654.82 L225.9 655.33 L226.7 655.94 L227.5 656.34 L228.3 657.89 L229.1 659.21 L229.9 660.65 L230.7 661.24 L231.5 661.48 L232.3 661.94 L233.1 662.77 L233.9 664.28 L234.7 666 L235.5 667.13 L236.3 667.79 L237.1 667.73 L237.9 668.28 L238.7 669.46 L239.5 671.05 L240.3 672.97 L241.1 673.8 L241.9 673.77 L242.7 673.6 L243.5 674.2 L244.3 675.83 L245.1 677.9 L245.9 679.09 L246.7 679.61 L247.5 679.37 L248.3 679.64 L249.1 680.6 L249.9 682.52 L250.7 684.37 L251.5 685.24 L252.3 685.38 L253.1 685.34 L253.9 685.67 L254.7 687.16 L255.5 689.29 L256.3 691.17 L257.1 691.9 L257.9 692.08 L258.7 691.9 L259.5 692.95 L260.3 695.06 L261.1 696.82 L261.9 698.48 L262.7 699.06 L263.5 699.43 L264.3 700.41 L265.1 701.88 L265.9 703.79 L266.7 705.65 L267.5 707.23 L268.3 708.14 L269.1 709.13 L269.9 710.46 L270.7 712.37 L271.5 714.75 L272.3 716.77 L273.1 718.62 L273.9 720.14 L274.7 721.53 L275.5 723.16 L276.3 725.66 L277.1 728.15 L277.9 730.22 L278.7 732.45 L279.5 734.29 L280.3 736.56 L281.1 738.94 L281.9 741.77 L282.7 744.26 L283.5 746.62 L284.3 748.84 L285.1 751.41 L285.9 753.64 L286.7 756.25 L287.5 758.64 L288.3 760.61 L289.1 762.84 L289.9 764.88 L290.7 766.77 L291.5 768.76 L292.3 770.64 L293.1 772.3 L293.9 773.9 L294.7 775.74 L295.5 777.09 L296.3 778.81 L297.1 780.3 L297.9 781.81 L298.7 783.3 L299.5 784.44 L300.3 785.99 L301.1 787.24 L301.9 788.68 L302.7 790.09 L303.5 791.24 L304.3 792.23 L305.1 793.64 L305.9 794.97 L306.7 796.2 L307.5 797.28 L308.3 798.5 L309.1 799.28 L309.9 800.74 L310.7 801.74 L311.5 802.72 L312.3 803.87 L313.1 804.87 L313.9 805.52 L314.7 806.77 L315.5 807.69 L316.3 808.36 L317.1 809.47 L317.9 810.27 L318.7 810.94 L319.5 812.02 L320.3 812.54 L321.1 813.49 L321.9 814.18 L322.7 814.81 L323.5 815.6 L324.3 816.23 L325.1 816.71 L325.9 817.58 L326.7 817.78 L327.5 818.24 L328.3 818.9 L329.1 819.52 L329.9 819.87 L330.7 820.32 L331.5 820.63 L332.3 821.08 L333.1 821.33 L333.9 821.68 L334.7 822.15 L335.5 822.33 L336.3 822.73 L337.1 823.39 L337.9 823.55 L338.7 824.18 L339.5 824.63 L340.3 824.9" fill="none" stroke="#ee4e25" stroke-width="1.3829898039215687" stroke-linejoin="round" />
<path d="M51.5 826.35 L52.3 826.51 L53.1 826.36 L53.9 825.83 L54.7 825.27 L55.5 824.56 L56.3 823.94 L57.1 823.14 L57.9 822 L58.7 821.1 L59.5 820.43 L60.3 819.27 L61.1 818.39 L61.9 817 L62.7 816.1 L63.5 815.11 L64.3 813.78 L65.1 812.94 L65.9 811.79 L66.7 810.3 L67.5 809.17 L68.3 808.26 L69.1 807.31 L69.9 805.98 L70.7 804.87 L71.5 803.92 L72.3 802.73 L73.1 801.84 L73.9 800.96 L74.7 800.04 L75.5 798.99 L76.3 798.06 L77.1 797.13 L77.9 796.3 L78.7 795.31 L79.5 794.27 L80.3 793.66 L81.1 792.61 L81.9 791.69 L82.7 790.54 L83.5 789.87 L84.3 788.82 L85.1 787.48 L85.9 786.53 L86.7 785.61 L87.5 784.53 L88.3 783.54 L89.1 782.24 L89.9 781.29 L90.7 780.11 L91.5 778.83 L92.3 777.8 L93.1 776.74 L93.9 775.54 L94.7 774.19 L95.5 773 L96.3 771.52 L97.1 770.32 L97.9 769.23 L98.7 767.75 L99.5 766.31 L100.3 765.09 L101.1 763.78 L101.9 762.37 L102.7 760.84 L103.5 759.42 L104.3 757.98 L105.1 756.58 L105.9 754.95 L106.7 753.32 L107.5 751.75 L108.3 749.91 L109.1 748.2 L109.9 746.72 L110.7 745 L111.5 742.98 L112.3 740.92 L113.1 738.83 L113.9 736.89 L114.7 734.99 L115.5 732.77 L116.3 730.52 L117.1 728.49 L117.9 726.07 L118.7 724.02 L119.5 722.04 L120.3 719.77 L121.1 717.62 L121.9 715.46 L122.7 713.48 L123.5 711.53 L124.3 709.04 L125.1 707.23 L125.9 705.12 L126.7 703.03 L127.5 700.86 L128.3 698.78 L129.1 696.57 L129.9 694.5 L130.7 692.39 L131.5 690.2 L132.3 688.52 L133.1 686.4 L133.9 684.32 L134.7 682.51 L135.5 680.62 L136.3 678.71 L137.1 676.89 L137.9 675.17 L138.7 673.44 L139.5 671.68 L140.3 669.9 L141.1 668.02 L141.9 666.42 L142.7 664.74 L143.5 663.25 L144.3 661.73 L145.1 660.09 L145.9 658.48 L146.7 656.89 L147.5 655.08 L148.3 653.72 L149.1 652.07 L149.9 650.25 L150.7 648.66 L151.5 647.09 L152.3 645.86 L153.1 644.13 L153.9 642.59 L154.7 641.32 L155.5 639.77 L156.3 638.26 L157.1 636.93 L157.9 635.75 L158.7 634.32 L159.5 633.13 L160.3 632.1 L161.1 630.85 L161.9 629.69 L162.7 628.67 L163.5 627.46 L164.3 626.59 L165.1 625.66 L165.9 624.63 L166.7 623.73 L167.5 623.21 L168.3 622.26 L169.1 621.4 L169.9 620.85 L170.7 620.28 L171.5 619.33 L172.3 618.79 L173.1 618.32 L173.9 618.1 L174.7 617.47 L175.5 617.32 L176.3 617.02 L177.1 616.69 L177.9 616.35 L178.7 616.48 L179.5 616.26 L180.3 616.07 L181.1 615.89 L181.9 616.03 L182.7 615.97 L183.5 616.16 L184.3 616.25 L185.1 616.63 L185.9 616.72 L186.7 617.19 L187.5 617.88 L188.3 618.3 L189.1 618.55 L189.9 619.29 L190.7 619.6 L191.5 620.39 L192.3 620.85 L193.1 621.27 L193.9 621.8 L194.7 622.3 L195.5 623.24 L196.3 623.51 L197.1 624.47 L197.9 625.18 L198.7 625.67 L199.5 626.16 L200.3 627.14 L201.1 627.87 L201.9 628.46 L202.7 629.08 L203.5 629.75 L204.3 630.47 L205.1 631.14 L205.9 632.06 L206.7 632.72 L207.5 633.38 L208.3 634.1 L209.1 635.09 L209.9 635.71 L210.7 636.57 L211.5 637.28 L212.3 638.28 L213.1 639.07 L213.9 639.51 L214.7 640.38 L215.5 641.22 L216.3 642.22 L217.1 642.9 L217.9 643.6 L218.7 644.53 L219.5 645.68 L220.3 646.51 L221.1 647.1 L221.9 647.47 L222.7 648.59 L223.5 649.74 L224.3 650.94 L225.1 652.13 L225.9 652.37 L226.7 652.91 L227.5 653.28 L228.3 654.51 L229.1 656.38 L229.9 657.51 L230.7 658.54 L231.5 658.73 L232.3 659.06 L233.1 659.7 L233.9 661.24 L234.7 663.02 L235.5 664.58 L236.3 664.98 L237.1 665.12 L237.9 665.37 L238.7 666.19 L239.5 668.2 L240.3 669.83 L241.1 670.83 L241.9 670.94 L242.7 671.08 L243.5 671.5 L244.3 672.97 L245.1 674.76 L245.9 676.49 L246.7 677.17 L247.5 676.84 L248.3 676.82 L249.1 677.5 L249.9 679.22 L250.7 681.31 L251.5 682.88 L252.3 683.07 L253.1 683.03 L253.9 683.08 L254.7 684.25 L255.5 686.45 L256.3 688.43 L257.1 689.2 L257.9 689.65 L258.7 689.43 L259.5 690.16 L260.3 692.2 L261.1 694.04 L261.9 695.88 L262.7 697.06 L263.5 697.2 L264.3 697.62 L265.1 698.93 L265.9 700.96 L266.7 703.32 L267.5 704.76 L268.3 706.12 L269.1 706.69 L269.9 708.14 L270.7 710.02 L271.5 712.15 L272.3 714.44 L273.1 716.34 L273.9 717.61 L274.7 719.26 L275.5 720.86 L276.3 723.15 L277.1 725.99 L277.9 728.09 L278.7 730.25 L279.5 732.24 L280.3 734.35 L281.1 736.75 L281.9 739.73 L282.7 742.4 L283.5 744.92 L284.3 747.03 L285.1 749.57 L285.9 752.2 L286.7 754.79 L287.5 756.97 L288.3 759.33 L289.1 761.51 L289.9 763.44 L290.7 765.57 L291.5 767.37 L292.3 769.21 L293.1 770.93 L293.9 772.76 L294.7 774.72 L295.5 776.17 L296.3 777.83 L297.1 779.4 L297.9 781.01 L298.7 782.29 L299.5 783.68 L300.3 785.11 L301.1 786.48 L301.9 788.05 L302.7 789.39 L303.5 790.46 L304.3 791.75 L305.1 793.09 L305.9 794.36 L306.7 795.56 L307.5 796.6 L308.3 797.7 L309.1 798.91 L309.9 799.96 L310.7 801.26 L311.5 802.12 L312.3 803.17 L313.1 804.43 L313.9 805.27 L314.7 806.45 L315.5 807.29 L316.3 808.35 L317.1 808.98 L317.9 810 L318.7 810.96 L319.5 811.52 L320.3 812.68 L321.1 813.14 L321.9 814.16 L322.7 814.96 L323.5 815.57 L324.3 816.05 L325.1 816.56 L325.9 817.29 L326.7 818.02 L327.5 818.27 L328.3 818.99 L329.1 819.17 L329.9 819.9 L330.7 819.97 L331.5 820.5 L332.3 821.12 L333.1 821.47 L333.9 821.9 L334.7 822.25 L335.5 822.59 L336.3 822.94 L337.1 823.13 L337.9 823.63 L338.7 823.92 L339.5 824.58 L340.3 825" fill="none" stroke="#ee4a21" stroke-width="1.3922616470588234" stroke-linejoin="round" />
<path d="M51.5 826.64 L52.3 826.47 L53.1 826.22 L53.9 825.83 L54.7 825.27 L55.5 824.52 L56.3 823.97 L57.1 822.91 L57.9 822.1 L58.7 821.27 L59.5 820.39 L60.3 819.22 L61.1 818.11 L61.9 817.2 L62.7 816.05 L63.5 814.79 L64.3 813.91 L65.1 812.8 L65.9 811.58 L66.7 810.47 L67.5 809.08 L68.3 808.11 L69.1 807.06 L69.9 805.86 L70.7 804.71 L71.5 803.52 L72.3 802.6 L73.1 801.69 L73.9 800.83 L74.7 799.9 L75.5 798.75 L76.3 797.96 L77.1 796.78 L77.9 796.07 L78.7 795.03 L79.5 793.88 L80.3 793.21 L81.1 792.13 L81.9 791.34 L82.7 790.3 L83.5 789.03 L84.3 788.23 L85.1 787.33 L85.9 786.03 L86.7 784.98 L87.5 784.12 L88.3 782.75 L89.1 781.8 L89.9 780.54 L90.7 779.71 L91.5 778.49 L92.3 777.2 L93.1 775.86 L93.9 774.77 L94.7 773.62 L95.5 772.55 L96.3 770.95 L97.1 769.84 L97.9 768.58 L98.7 767.18 L99.5 765.92 L100.3 764.44 L101.1 763.22 L101.9 761.67 L102.7 760.24 L103.5 758.72 L104.3 757.31 L105.1 755.71 L105.9 754.26 L106.7 752.55 L107.5 750.9 L108.3 749.22 L109.1 747.69 L109.9 745.94 L110.7 744.05 L111.5 742.02 L112.3 740.31 L113.1 738.36 L113.9 736.3 L114.7 734.16 L115.5 732.03 L116.3 729.87 L117.1 727.54 L117.9 725.29 L118.7 723.22 L119.5 720.88 L120.3 718.94 L121.1 716.84 L121.9 714.74 L122.7 712.51 L123.5 710.54 L124.3 708.26 L125.1 706.07 L125.9 704.02 L126.7 702.01 L127.5 699.85 L128.3 697.67 L129.1 695.27 L129.9 693.37 L130.7 691.25 L131.5 689.23 L132.3 687.29 L133.1 685.03 L133.9 683.25 L134.7 681.06 L135.5 679.19 L136.3 677.54 L137.1 675.51 L137.9 673.88 L138.7 671.81 L139.5 670.05 L140.3 668.54 L141.1 666.55 L141.9 665.07 L142.7 663.52 L143.5 661.71 L144.3 660.13 L145.1 658.23 L145.9 656.86 L146.7 655.24 L147.5 653.63 L148.3 651.96 L149.1 650.36 L149.9 649.01 L150.7 647.05 L151.5 645.47 L152.3 644.3 L153.1 642.45 L153.9 640.91 L154.7 639.47 L155.5 638.24 L156.3 636.88 L157.1 635.11 L157.9 633.93 L158.7 632.47 L159.5 631.3 L160.3 630.04 L161.1 629.05 L161.9 627.79 L162.7 626.64 L163.5 625.7 L164.3 624.5 L165.1 623.54 L165.9 622.96 L166.7 621.75 L167.5 620.95 L168.3 620.29 L169.1 619.55 L169.9 618.87 L170.7 617.88 L171.5 617.46 L172.3 616.99 L173.1 616.08 L173.9 615.86 L174.7 615.48 L175.5 614.91 L176.3 614.54 L177.1 614.39 L177.9 614.09 L178.7 613.78 L179.5 613.75 L180.3 613.61 L181.1 613.58 L181.9 613.52 L182.7 613.44 L183.5 613.52 L184.3 613.87 L185.1 613.86 L185.9 614.29 L186.7 614.42 L187.5 615.12 L188.3 615.4 L189.1 615.76 L189.9 616.35 L190.7 616.87 L191.5 617.7 L192.3 618 L193.1 618.52 L193.9 619.14 L194.7 619.98 L195.5 620.46 L196.3 621.06 L197.1 621.73 L197.9 622.26 L198.7 622.93 L199.5 623.68 L200.3 624.1 L201.1 624.88 L201.9 625.64 L202.7 626.31 L203.5 627.18 L204.3 627.82 L205.1 628.75 L205.9 629.37 L206.7 630.05 L207.5 630.82 L208.3 631.7 L209.1 632.36 L209.9 633.22 L210.7 633.76 L211.5 634.71 L212.3 635.42 L213.1 636.17 L213.9 637.12 L214.7 637.9 L215.5 638.73 L216.3 639.55 L217.1 640.35 L217.9 641.05 L218.7 641.97 L219.5 643.03 L220.3 643.98 L221.1 644.59 L221.9 645.12 L222.7 645.7 L223.5 647.22 L224.3 648.4 L225.1 649.27 L225.9 650.15 L226.7 650.58 L227.5 650.87 L228.3 652.08 L229.1 653.49 L229.9 654.97 L230.7 656.14 L231.5 656.18 L232.3 656.66 L233.1 657.21 L233.9 658.49 L234.7 660.35 L235.5 662.07 L236.3 662.83 L237.1 662.62 L237.9 663.04 L238.7 663.62 L239.5 665.7 L240.3 667.45 L241.1 668.58 L241.9 668.9 L242.7 668.75 L243.5 669.14 L244.3 670.44 L245.1 672.14 L245.9 674.1 L246.7 675 L247.5 674.79 L248.3 674.78 L249.1 675.13 L249.9 676.67 L250.7 678.77 L251.5 680.59 L252.3 681.04 L253.1 681.03 L253.9 681.09 L254.7 682.11 L255.5 683.71 L256.3 686.07 L257.1 687.38 L257.9 687.7 L258.7 687.68 L259.5 688.25 L260.3 689.73 L261.1 691.81 L261.9 693.83 L262.7 694.78 L263.5 695.34 L264.3 695.55 L265.1 696.73 L265.9 698.73 L266.7 701.11 L267.5 702.97 L268.3 703.98 L269.1 704.89 L269.9 705.75 L270.7 707.57 L271.5 710.28 L272.3 712.4 L273.1 714.41 L273.9 715.97 L274.7 717.27 L275.5 719.13 L276.3 721.29 L277.1 723.71 L277.9 726.21 L278.7 728.49 L279.5 730.37 L280.3 732.68 L281.1 735.12 L281.9 737.84 L282.7 740.4 L283.5 743.32 L284.3 745.66 L285.1 748.34 L285.9 750.93 L286.7 753.16 L287.5 755.65 L288.3 758.08 L289.1 760.25 L289.9 762.32 L290.7 764.58 L291.5 766.58 L292.3 768.5 L293.1 770.2 L293.9 771.9 L294.7 773.85 L295.5 775.42 L296.3 776.8 L297.1 778.41 L297.9 780.21 L298.7 781.45 L299.5 782.89 L300.3 784.49 L301.1 785.94 L301.9 787.3 L302.7 788.66 L303.5 790.03 L304.3 791.37 L305.1 792.54 L305.9 793.8 L306.7 795.27 L307.5 796.18 L308.3 797.59 L309.1 798.6 L309.9 799.7 L310.7 800.72 L311.5 802.11 L312.3 803.11 L313.1 804.25 L313.9 805.06 L314.7 806.14 L315.5 806.9 L316.3 807.94 L317.1 808.78 L317.9 809.62 L318.7 810.84 L319.5 811.4 L320.3 812.2 L321.1 813 L321.9 813.86 L322.7 814.66 L323.5 815.19 L324.3 816.21 L325.1 816.82 L325.9 817.06 L326.7 817.73 L327.5 818.35 L328.3 818.92 L329.1 819.25 L329.9 819.85 L330.7 820.04 L331.5 820.53 L332.3 820.92 L333.1 821.38 L333.9 821.58 L334.7 822.12 L335.5 822.34 L336.3 822.78 L337.1 823.42 L337.9 823.79 L338.7 824.17 L339.5 824.3 L340.3 824.78" fill="none" stroke="#ee481e" stroke-width="1.4" stroke-linejoin="round" />
</g>
<rect x="65.8" y="615.3" width="20" height="138" fill="url(#cbar)" stroke="#555" stroke-width="0.8"/>
<text x="76.5" y="611.4" font-size="14.8" text-anchor="middle" font-weight="normal" fill="#111" stroke="#111" stroke-width="0.28" >32°C</text>
<text x="76.5" y="766.9" font-size="14.8" text-anchor="middle" font-weight="normal" fill="#111" stroke="#111" stroke-width="0.28" >22°C</text>
<rect x="52.2" y="593.6" width="288.5" height="232.8" fill="none" stroke="#1a1a1a" stroke-width="1.3"/>
<path d="M65.1 826.4v4.5M140.33 826.4v4.5M215.57 826.4v4.5M290.8 826.4v4.5M102.72 826.4v2.5M177.95 826.4v2.5M253.18 826.4v2.5M328.42 826.4v2.5" stroke="#1a1a1a" stroke-width="1.2" fill="none"/>
<text x="65.1" y="845" font-size="16.5" text-anchor="middle" font-weight="normal" fill="#111" stroke="#111" stroke-width="0.28" >400</text>
<text x="140.33" y="845" font-size="16.5" text-anchor="middle" font-weight="normal" fill="#111" stroke="#111" stroke-width="0.28" >600</text>
<text x="215.57" y="845" font-size="16.5" text-anchor="middle" font-weight="normal" fill="#111" stroke="#111" stroke-width="0.28" >800</text>
<text x="290.8" y="845" font-size="16.5" text-anchor="middle" font-weight="normal" fill="#111" stroke="#111" stroke-width="0.28" >1000</text>
<path d="M52.2 825.8h-4.5M52.2 783.58h-4.5M52.2 741.36h-4.5M52.2 699.14h-4.5M52.2 656.92h-4.5M52.2 614.7h-4.5M52.2 804.69h-2.5M52.2 762.47h-2.5M52.2 720.25h-2.5M52.2 678.03h-2.5M52.2 635.81h-2.5M52.2 593.59h-2.5" stroke="#1a1a1a" stroke-width="1.2" fill="none"/>
<text x="43.2" y="830.9" font-size="16.5" text-anchor="end" font-weight="normal" fill="#111" stroke="#111" stroke-width="0.28" >0</text>
<text x="43.2" y="788.68" font-size="16.5" text-anchor="end" font-weight="normal" fill="#111" stroke="#111" stroke-width="0.28" >1</text>
<text x="43.2" y="746.46" font-size="16.5" text-anchor="end" font-weight="normal" fill="#111" stroke="#111" stroke-width="0.28" >2</text>
<text x="43.2" y="704.24" font-size="16.5" text-anchor="end" font-weight="normal" fill="#111" stroke="#111" stroke-width="0.28" >3</text>
<text x="43.2" y="662.02" font-size="16.5" text-anchor="end" font-weight="normal" fill="#111" stroke="#111" stroke-width="0.28" >4</text>
<text x="43.2" y="619.8" font-size="16.5" text-anchor="end" font-weight="normal" fill="#111" stroke="#111" stroke-width="0.28" >5</text>
<text x="196.7" y="863.8" font-size="17" text-anchor="middle" font-weight="normal" fill="#111" stroke="#111" stroke-width="0.28" >Wavelength (nm)</text>
<text transform="translate(20.3,709.5) rotate(-90)" x="0" y="0" font-size="17" text-anchor="middle" fill="#111" stroke="#111" stroke-width="0.28">Intensity (a.u.)</text>
<text x="369.5" y="594.8" font-size="20" text-anchor="start" font-weight="bold" fill="#000" >H</text>
<path d="M418 793.3 L419.12 793.91 L420.23 794.2 L421.35 794.43 L422.47 794.65 L423.58 795.09 L424.7 795.39 L425.85 795.25 L427 794.3 L428.15 794.3 L429.3 793.9 L430.45 793.02 L431.6 793.06 L432.7 793.09 L433.8 793.37 L434.9 793.16 L436 793.37 L437.1 793.55 L438.2 794.07 L439.3 793.99 L440.4 794.1 L441.2 720 L441.8 640 L442.5 635 L444 634.02 L445.03 634.09 L446.06 634.04 L447.09 633.94 L448.12 634.01 L449.16 634.49 L450.19 634.2 L451.22 634.62 L452.25 634.25 L453.28 634.3 L454.31 634.48 L455.34 634.33 L456.38 634.47 L457.41 634.86 L458.44 634.86 L459.47 634.85 L460.5 634.7 L461.4 660 L461.9 700.3 L463.2 735 L464.7 755.5 L466 780 L467.4 794.78 L468.42 794.92 L469.43 794.9 L470.45 794.63 L471.46 794.71 L472.48 794.27 L473.49 794.65 L474.51 794.45 L475.53 794.6 L476.54 794.5 L477.56 794.26 L478.57 794.08 L479.59 794.58 L480.61 794.07 L481.62 794.24 L482.64 794.13 L483.65 794.07 L484.67 794.31 L485.68 794.42 L486.7 794.1 L487.5 740 L488.1 700.3 L489 660 L490 641 L491.5 638.16 L492.54 638.28 L493.58 637.96 L494.62 638 L495.66 637.79 L496.69 637.54 L497.73 637.43 L498.77 637.35 L499.81 637.65 L500.85 637.3 L501.89 637.02 L502.93 637.32 L503.97 637.26 L505.01 636.83 L506.04 636.53 L507.08 636.45 L508.12 636.28 L509.16 636.32 L510.2 636.3 L510.8 650 L511.6 711.4 L513.2 759.75 L514.45 775.54 L515.7 791.26 L516.7 791.46 L517.71 791.68 L518.71 791.62 L519.72 791.44 L520.72 791.46 L521.73 791.55 L522.73 791.49 L523.74 791.48 L524.74 791.34 L525.75 791.49 L526.75 791.93 L527.75 791.45 L528.76 791.7 L529.76 791.8 L530.77 791.96 L531.77 791.59 L532.78 791.65 L533.78 791.66 L534.79 791.77 L535.79 791.82 L536.8 792.15 L537.8 791.9 L538.8 720 L540.2 640 L541 632.21 L542 631.22 L543 629.71 L544.01 629.61 L545.02 629.91 L546.03 629.92 L547.04 629.56 L548.06 629.52 L549.07 629.07 L550.08 629.2 L551.09 629.41 L552.1 629.25 L553.11 629.16 L554.12 629.12 L555.13 628.58 L556.14 628.39 L557.16 628.31 L558.17 628.43 L559.18 628.42 L560.19 628.47 L561.2 628.1 L561.8 640 L563.3 728.03 L564.4 746.54 L565.5 765.16 L566.9 776.47 L568.3 788.03 L569.33 787.72 L570.37 788.17 L571.4 787.84 L572.44 788.25 L573.47 788.09 L574.51 787.88 L575.54 787.78 L576.58 787.85 L577.62 788.08 L578.65 788.12 L579.68 787.77 L580.72 787.74 L581.75 788.01 L582.79 788.05 L583.83 787.93 L584.86 787.83 L585.89 788.06 L586.93 787.71 L587.97 787.88 L589 788 L589.6 740 L590.3 672.8 L591.5 645 L593 629.98 L594 628.88 L595 627.29 L596.04 627.28 L597.09 626.89 L598.13 626.59 L599.18 626.45 L600.22 626.73 L601.27 626.42 L602.31 626.03 L603.36 625.71 L604.4 625.85 L605.44 625.8 L606.49 625.5 L607.53 625.25 L608.58 625.35 L609.62 625.36 L610.67 624.79 L611.71 624.52 L612.76 624.55 L613.8 624.5 L615 630 L615.8 679.95 L616.85 710.96 L617.9 741.7 L619.2 765 L620.7 781.02 L621.71 781.4 L622.72 781.38 L623.72 781.26 L624.73 781.1 L625.74 781.58 L626.75 781.2 L627.75 781.53 L628.76 781.19 L629.77 781.21 L630.78 781.55 L631.78 781.29 L632.79 781.7 L633.8 781.45 L634.81 781.28 L635.82 781.32 L636.82 781.46 L637.83 781.63 L638.84 781.82 L639.85 781.35 L640.85 781.52 L641.86 781.43 L642.87 781.91 L643.88 781.43 L644.88 781.39 L645.89 781.42 L646.9 781.7 L647.5 740 L648.3 686.6 L649.8 650 L651 627.94 L652 625.99 L653 623.73 L654 623.62 L655.01 623.76 L656.01 623.7 L657.02 623.32 L658.02 623.21 L659.03 623.64 L660.03 623.51 L661.04 623.06 L662.04 623.42 L663.05 623.23 L664.06 623.2 L665.06 623.16 L666.07 623.04 L667.07 622.92 L668.08 623.07 L669.08 623.09 L670.09 623.43 L671.09 622.91 L672.1 623.4 L673.1 623.1 L674 640 L674.5 672.8 L675.8 720 L677.2 755.5 L679 775 L680.8 788.42 L681.85 788.51 L682.91 788.79 L683.96 788.79 L685.02 788.56 L686.07 788.33 L687.13 788.58 L688.18 788.52 L689.24 788.85 L690.29 788.42 L691.35 788.52 L692.4 788.84 L693.5 787.94 L694.6 787.79 L695.7 787.65 L696.8 787.24 L697.9 786.42 L698.91 786.48 L699.92 786.56 L700.94 787.14 L701.95 786.8 L702.96 787.16 L703.98 787.31 L704.99 787.04 L706 787.2 L706 794 L418 794 Z" fill="url(#hfill)"/>
<path d="M418 793.3 L419.12 793.91 L420.23 794.2 L421.35 794.43 L422.47 794.65 L423.58 795.09 L424.7 795.39 L425.85 795.25 L427 794.3 L428.15 794.3 L429.3 793.9 L430.45 793.02 L431.6 793.06 L432.7 793.09 L433.8 793.37 L434.9 793.16 L436 793.37 L437.1 793.55 L438.2 794.07 L439.3 793.99 L440.4 794.1 L441.2 720 L441.8 640 L442.5 635 L444 634.02 L445.03 634.09 L446.06 634.04 L447.09 633.94 L448.12 634.01 L449.16 634.49 L450.19 634.2 L451.22 634.62 L452.25 634.25 L453.28 634.3 L454.31 634.48 L455.34 634.33 L456.38 634.47 L457.41 634.86 L458.44 634.86 L459.47 634.85 L460.5 634.7 L461.4 660 L461.9 700.3 L463.2 735 L464.7 755.5 L466 780 L467.4 794.78 L468.42 794.92 L469.43 794.9 L470.45 794.63 L471.46 794.71 L472.48 794.27 L473.49 794.65 L474.51 794.45 L475.53 794.6 L476.54 794.5 L477.56 794.26 L478.57 794.08 L479.59 794.58 L480.61 794.07 L481.62 794.24 L482.64 794.13 L483.65 794.07 L484.67 794.31 L485.68 794.42 L486.7 794.1 L487.5 740 L488.1 700.3 L489 660 L490 641 L491.5 638.16 L492.54 638.28 L493.58 637.96 L494.62 638 L495.66 637.79 L496.69 637.54 L497.73 637.43 L498.77 637.35 L499.81 637.65 L500.85 637.3 L501.89 637.02 L502.93 637.32 L503.97 637.26 L505.01 636.83 L506.04 636.53 L507.08 636.45 L508.12 636.28 L509.16 636.32 L510.2 636.3 L510.8 650 L511.6 711.4 L513.2 759.75 L514.45 775.54 L515.7 791.26 L516.7 791.46 L517.71 791.68 L518.71 791.62 L519.72 791.44 L520.72 791.46 L521.73 791.55 L522.73 791.49 L523.74 791.48 L524.74 791.34 L525.75 791.49 L526.75 791.93 L527.75 791.45 L528.76 791.7 L529.76 791.8 L530.77 791.96 L531.77 791.59 L532.78 791.65 L533.78 791.66 L534.79 791.77 L535.79 791.82 L536.8 792.15 L537.8 791.9 L538.8 720 L540.2 640 L541 632.21 L542 631.22 L543 629.71 L544.01 629.61 L545.02 629.91 L546.03 629.92 L547.04 629.56 L548.06 629.52 L549.07 629.07 L550.08 629.2 L551.09 629.41 L552.1 629.25 L553.11 629.16 L554.12 629.12 L555.13 628.58 L556.14 628.39 L557.16 628.31 L558.17 628.43 L559.18 628.42 L560.19 628.47 L561.2 628.1 L561.8 640 L563.3 728.03 L564.4 746.54 L565.5 765.16 L566.9 776.47 L568.3 788.03 L569.33 787.72 L570.37 788.17 L571.4 787.84 L572.44 788.25 L573.47 788.09 L574.51 787.88 L575.54 787.78 L576.58 787.85 L577.62 788.08 L578.65 788.12 L579.68 787.77 L580.72 787.74 L581.75 788.01 L582.79 788.05 L583.83 787.93 L584.86 787.83 L585.89 788.06 L586.93 787.71 L587.97 787.88 L589 788 L589.6 740 L590.3 672.8 L591.5 645 L593 629.98 L594 628.88 L595 627.29 L596.04 627.28 L597.09 626.89 L598.13 626.59 L599.18 626.45 L600.22 626.73 L601.27 626.42 L602.31 626.03 L603.36 625.71 L604.4 625.85 L605.44 625.8 L606.49 625.5 L607.53 625.25 L608.58 625.35 L609.62 625.36 L610.67 624.79 L611.71 624.52 L612.76 624.55 L613.8 624.5 L615 630 L615.8 679.95 L616.85 710.96 L617.9 741.7 L619.2 765 L620.7 781.02 L621.71 781.4 L622.72 781.38 L623.72 781.26 L624.73 781.1 L625.74 781.58 L626.75 781.2 L627.75 781.53 L628.76 781.19 L629.77 781.21 L630.78 781.55 L631.78 781.29 L632.79 781.7 L633.8 781.45 L634.81 781.28 L635.82 781.32 L636.82 781.46 L637.83 781.63 L638.84 781.82 L639.85 781.35 L640.85 781.52 L641.86 781.43 L642.87 781.91 L643.88 781.43 L644.88 781.39 L645.89 781.42 L646.9 781.7 L647.5 740 L648.3 686.6 L649.8 650 L651 627.94 L652 625.99 L653 623.73 L654 623.62 L655.01 623.76 L656.01 623.7 L657.02 623.32 L658.02 623.21 L659.03 623.64 L660.03 623.51 L661.04 623.06 L662.04 623.42 L663.05 623.23 L664.06 623.2 L665.06 623.16 L666.07 623.04 L667.07 622.92 L668.08 623.07 L669.08 623.09 L670.09 623.43 L671.09 622.91 L672.1 623.4 L673.1 623.1 L674 640 L674.5 672.8 L675.8 720 L677.2 755.5 L679 775 L680.8 788.42 L681.85 788.51 L682.91 788.79 L683.96 788.79 L685.02 788.56 L686.07 788.33 L687.13 788.58 L688.18 788.52 L689.24 788.85 L690.29 788.42 L691.35 788.52 L692.4 788.84 L693.5 787.94 L694.6 787.79 L695.7 787.65 L696.8 787.24 L697.9 786.42 L698.91 786.48 L699.92 786.56 L700.94 787.14 L701.95 786.8 L702.96 787.16 L703.98 787.31 L704.99 787.04 L706 787.2" fill="none" stroke="#1a1a1a" stroke-width="1.4" stroke-linejoin="round" />
<rect x="417.6" y="593.6" width="288.8" height="232.8" fill="none" stroke="#1a1a1a" stroke-width="1.3"/>
<path d="M417.6 826.4v4.5M522.2 826.4v4.5M626.8 826.4v4.5M469.9 826.4v2.5M574.5 826.4v2.5M679.1 826.4v2.5" stroke="#1a1a1a" stroke-width="1.2" fill="none"/>
<text x="417.6" y="845" font-size="16.5" text-anchor="middle" font-weight="normal" fill="#111" stroke="#111" stroke-width="0.28" >0</text>
<text x="522.2" y="845" font-size="16.5" text-anchor="middle" font-weight="normal" fill="#111" stroke="#111" stroke-width="0.28" >50</text>
<text x="626.8" y="845" font-size="16.5" text-anchor="middle" font-weight="normal" fill="#111" stroke="#111" stroke-width="0.28" >100</text>
<path d="M417.6 792.6h-4.5M417.6 726.15h-4.5M417.6 659.7h-4.5M417.6 593.25h-4.5M417.6 759.38h-2.5M417.6 692.93h-2.5M417.6 626.48h-2.5" stroke="#1a1a1a" stroke-width="1.2" fill="none"/>
<text x="411.8" y="797.7" font-size="16.5" text-anchor="end" font-weight="normal" fill="#111" stroke="#111" stroke-width="0.28" >1.0</text>
<text x="411.8" y="731.25" font-size="16.5" text-anchor="end" font-weight="normal" fill="#111" stroke="#111" stroke-width="0.28" >1.5</text>
<text x="411.8" y="664.8" font-size="16.5" text-anchor="end" font-weight="normal" fill="#111" stroke="#111" stroke-width="0.28" >2.0</text>
<text x="411.8" y="598.35" font-size="16.5" text-anchor="end" font-weight="normal" fill="#111" stroke="#111" stroke-width="0.28" >2.5</text>
<text x="562.5" y="864.5" font-size="17" text-anchor="middle" font-weight="normal" fill="#111" stroke="#111" stroke-width="0.28" >Time (s)</text>
<text transform="translate(379.2,709.5) rotate(-90)" x="0" y="0" font-size="17" text-anchor="middle" fill="#111" stroke="#111" stroke-width="0.28">Intensity (a.u.)</text>
<path d="M426 609.3 L452.2 609.3" fill="none" stroke="#1a1a1a" stroke-width="1.1" stroke-linejoin="round" />
<text x="456.4" y="614.8" font-size="13.8" text-anchor="start" font-weight="normal" fill="#111" stroke="#111" stroke-width="0.28" >Cyclic response</text>
<text x="604" y="620.9" font-size="15.5" text-anchor="middle" font-weight="normal" fill="#111" stroke="#111" stroke-width="0.28" >35°C</text>
<text x="578" y="805.2" font-size="15.5" text-anchor="middle" font-weight="normal" fill="#111" stroke="#111" stroke-width="0.28" >25°C</text>
<text x="736" y="594.8" font-size="20" text-anchor="start" font-weight="bold" fill="#000" >I</text>
<path d="M780.5 792.73 L781.54 792.94 L782.58 792.84 L783.61 792.73 L784.65 792.86 L785.69 792.74 L786.73 792.73 L787.76 792.65 L788.8 792.88 L789.84 792.92 L790.88 792.84 L791.91 792.93 L792.95 792.66 L793.99 792.72 L795.02 792.79 L796.06 792.94 L797.1 792.94 L798.3 791.87 L799.5 791 L800.4 788.6 L802 769.93 L803 759.98 L804 750 L805 748.63 L806 746.9 L807.05 746.54 L808.1 745.9 L810 742.07 L811.1 740.4 L812.2 738.6 L814 737.38 L815.27 737.43 L816.53 737.45 L817.8 737.6 L819 745 L820.5 761 L821.5 772 L822.4 779.3 L824 780.95 L825 781.31 L826 781.7 L827.5 783.5 L828.5 782.5 L830.2 784.5 L831.5 783.88 L832.9 784.72 L834.3 785.81 L835.44 786.52 L836.58 786.9 L837.72 787.39 L838.86 787.92 L840 788.62 L841.12 788.91 L842.23 789.48 L843.35 789.82 L844.47 790.21 L845.58 790.36 L846.7 790.68 L847.71 790.78 L848.72 791 L849.73 791.16 L850.74 791.18 L851.75 791.22 L852.75 791.38 L853.76 791.54 L854.77 791.65 L855.78 791.77 L856.79 791.9 L857.8 791.95 L858.86 791.79 L859.92 792 L860.98 791.84 L862.05 791.92 L863.11 791.86 L864.17 791.97 L865.23 791.81 L866.29 791.82 L867.35 791.82 L868.42 791.8 L869.48 792.02 L870.54 791.92 L871.6 791.85 L872.95 790.72 L874.3 789.75 L875.4 774.8 L876.5 759.92 L877.5 730.09 L878.5 700 L879.8 687 L881.5 684.05 L882.75 684.05 L884 683.68 L885 682.89 L886 682.1 L887.05 681.1 L888.1 680.12 L889.4 679.46 L890.7 679.14 L892 678.69 L893.1 678.58 L894.2 678.69 L895.3 678.45 L896.4 678.43 L897.55 678.35 L898.7 678.58 L899.85 678.53 L901 678.56 L902.15 678.8 L903.3 678.8 L904.5 700 L906 757 L907.5 767.13 L908.52 768.83 L909.55 770.93 L910.58 772.89 L911.6 774.72 L912.7 775.86 L913.8 776.89 L914.9 778.01 L916 779.13 L917.1 780.33 L918.23 780.67 L919.36 780.87 L920.49 781.14 L921.61 781.56 L922.74 782 L923.87 782.18 L925 782.54 L926 782.7 L927 783.08 L928 783.19 L929 783.24 L930 783.45 L931 783.73 L932 783.97 L933 784.19 L934 784.22 L935 784.43 L936 784.79 L937 784.89 L938 785.05 L939 785.25 L940 785.64 L941.02 785.58 L942.04 785.8 L943.05 785.88 L944.07 786.04 L945.09 786.32 L946.11 786.5 L947.12 786.45 L948.14 786.54 L949.16 786.84 L950.18 786.82 L951.19 786.9 L952.21 787.31 L953.23 787.31 L954.25 787.57 L955.26 787.59 L956.28 787.87 L957.3 787.89 L958.43 788.6 L959.57 789.35 L960.7 790.3 L962.4 789.2 L963.5 760 L964.6 680 L965.5 633 L967 629.02 L968 626.88 L969 624.79 L970 622.38 L971 621.2 L972 619.79 L973 618.5 L974 617.56 L975 616.77 L976 616.01 L977 616.03 L978 615.68 L979 616.36 L980 617.02 L981 617.64 L982.13 617.44 L983.27 617.45 L984.4 617.73 L985.53 617.31 L986.67 616.73 L987.8 616.17 L988.93 615.99 L990.07 615.4 L991.2 615 L992 640 L992.9 749.72 L993.95 752.84 L995 756.1 L996.07 757.08 L997.13 758.45 L998.2 759.47 L999.27 760.7 L1000.33 762.02 L1001.4 763.2 L1002.4 763.82 L1003.4 764.66 L1004.4 765.53 L1005.4 766.39 L1006.4 767.17 L1007.43 766.85 L1008.47 766.66 L1009.5 766.57 L1010.75 766.12 L1012 765.36 L1013.45 766.02 L1014.9 766.58 L1015.92 767.16 L1016.94 768.2 L1017.96 768.79 L1018.98 769.73 L1020 770.52 L1021.02 770.96 L1022.04 771.28 L1023.06 771.74 L1024.08 772.2 L1025.1 772.58 L1026.12 772.82 L1027.14 772.92 L1028.16 773.09 L1029.18 773.14 L1030.2 773.49 L1031.22 773.62 L1032.24 773.71 L1033.26 774.04 L1034.28 774.21 L1035.3 774.29 L1036.42 774.62 L1037.53 775.13 L1038.65 775.43 L1039.77 775.86 L1040.88 776.36 L1042 776.68 L1043.13 777.22 L1044.27 777.67 L1045.4 777.96 L1046.53 778.57 L1047.67 778.84 L1048.8 779.47 L1049.82 779.48 L1050.84 779.4 L1051.86 779.27 L1052.88 779.4 L1053.9 779.36 L1054.92 779.54 L1055.94 779.29 L1056.96 779.51 L1057.98 779.55 L1059 779.47 L1060.06 779.68 L1061.11 779.69 L1062.17 780.11 L1063.22 780.15 L1064.28 780.48 L1065.33 780.66 L1066.39 780.62 L1067.44 781 L1068.5 781.1 L1068.5 808 L780.5 808 Z" fill="url(#ifill)"/>
<path d="M780.5 792.73 L781.54 792.94 L782.58 792.84 L783.61 792.73 L784.65 792.86 L785.69 792.74 L786.73 792.73 L787.76 792.65 L788.8 792.88 L789.84 792.92 L790.88 792.84 L791.91 792.93 L792.95 792.66 L793.99 792.72 L795.02 792.79 L796.06 792.94 L797.1 792.94 L798.3 791.87 L799.5 791 L800.4 788.6 L802 769.93 L803 759.98 L804 750 L805 748.63 L806 746.9 L807.05 746.54 L808.1 745.9 L810 742.07 L811.1 740.4 L812.2 738.6 L814 737.38 L815.27 737.43 L816.53 737.45 L817.8 737.6 L819 745 L820.5 761 L821.5 772 L822.4 779.3 L824 780.95 L825 781.31 L826 781.7 L827.5 783.5 L828.5 782.5 L830.2 784.5 L831.5 783.88 L832.9 784.72 L834.3 785.81 L835.44 786.52 L836.58 786.9 L837.72 787.39 L838.86 787.92 L840 788.62 L841.12 788.91 L842.23 789.48 L843.35 789.82 L844.47 790.21 L845.58 790.36 L846.7 790.68 L847.71 790.78 L848.72 791 L849.73 791.16 L850.74 791.18 L851.75 791.22 L852.75 791.38 L853.76 791.54 L854.77 791.65 L855.78 791.77 L856.79 791.9 L857.8 791.95 L858.86 791.79 L859.92 792 L860.98 791.84 L862.05 791.92 L863.11 791.86 L864.17 791.97 L865.23 791.81 L866.29 791.82 L867.35 791.82 L868.42 791.8 L869.48 792.02 L870.54 791.92 L871.6 791.85 L872.95 790.72 L874.3 789.75 L875.4 774.8 L876.5 759.92 L877.5 730.09 L878.5 700 L879.8 687 L881.5 684.05 L882.75 684.05 L884 683.68 L885 682.89 L886 682.1 L887.05 681.1 L888.1 680.12 L889.4 679.46 L890.7 679.14 L892 678.69 L893.1 678.58 L894.2 678.69 L895.3 678.45 L896.4 678.43 L897.55 678.35 L898.7 678.58 L899.85 678.53 L901 678.56 L902.15 678.8 L903.3 678.8 L904.5 700 L906 757 L907.5 767.13 L908.52 768.83 L909.55 770.93 L910.58 772.89 L911.6 774.72 L912.7 775.86 L913.8 776.89 L914.9 778.01 L916 779.13 L917.1 780.33 L918.23 780.67 L919.36 780.87 L920.49 781.14 L921.61 781.56 L922.74 782 L923.87 782.18 L925 782.54 L926 782.7 L927 783.08 L928 783.19 L929 783.24 L930 783.45 L931 783.73 L932 783.97 L933 784.19 L934 784.22 L935 784.43 L936 784.79 L937 784.89 L938 785.05 L939 785.25 L940 785.64 L941.02 785.58 L942.04 785.8 L943.05 785.88 L944.07 786.04 L945.09 786.32 L946.11 786.5 L947.12 786.45 L948.14 786.54 L949.16 786.84 L950.18 786.82 L951.19 786.9 L952.21 787.31 L953.23 787.31 L954.25 787.57 L955.26 787.59 L956.28 787.87 L957.3 787.89 L958.43 788.6 L959.57 789.35 L960.7 790.3 L962.4 789.2 L963.5 760 L964.6 680 L965.5 633 L967 629.02 L968 626.88 L969 624.79 L970 622.38 L971 621.2 L972 619.79 L973 618.5 L974 617.56 L975 616.77 L976 616.01 L977 616.03 L978 615.68 L979 616.36 L980 617.02 L981 617.64 L982.13 617.44 L983.27 617.45 L984.4 617.73 L985.53 617.31 L986.67 616.73 L987.8 616.17 L988.93 615.99 L990.07 615.4 L991.2 615 L992 640 L992.9 749.72 L993.95 752.84 L995 756.1 L996.07 757.08 L997.13 758.45 L998.2 759.47 L999.27 760.7 L1000.33 762.02 L1001.4 763.2 L1002.4 763.82 L1003.4 764.66 L1004.4 765.53 L1005.4 766.39 L1006.4 767.17 L1007.43 766.85 L1008.47 766.66 L1009.5 766.57 L1010.75 766.12 L1012 765.36 L1013.45 766.02 L1014.9 766.58 L1015.92 767.16 L1016.94 768.2 L1017.96 768.79 L1018.98 769.73 L1020 770.52 L1021.02 770.96 L1022.04 771.28 L1023.06 771.74 L1024.08 772.2 L1025.1 772.58 L1026.12 772.82 L1027.14 772.92 L1028.16 773.09 L1029.18 773.14 L1030.2 773.49 L1031.22 773.62 L1032.24 773.71 L1033.26 774.04 L1034.28 774.21 L1035.3 774.29 L1036.42 774.62 L1037.53 775.13 L1038.65 775.43 L1039.77 775.86 L1040.88 776.36 L1042 776.68 L1043.13 777.22 L1044.27 777.67 L1045.4 777.96 L1046.53 778.57 L1047.67 778.84 L1048.8 779.47 L1049.82 779.48 L1050.84 779.4 L1051.86 779.27 L1052.88 779.4 L1053.9 779.36 L1054.92 779.54 L1055.94 779.29 L1056.96 779.51 L1057.98 779.55 L1059 779.47 L1060.06 779.68 L1061.11 779.69 L1062.17 780.11 L1063.22 780.15 L1064.28 780.48 L1065.33 780.66 L1066.39 780.62 L1067.44 781 L1068.5 781.1" fill="none" stroke="#1a1a1a" stroke-width="1.4" stroke-linejoin="round" />
<rect x="780" y="593.6" width="289.1" height="232.8" fill="none" stroke="#1a1a1a" stroke-width="1.3"/>
<path d="M780 826.4v4.5M876.17 826.4v4.5M972.33 826.4v4.5M1068.5 826.4v4.5M828.08 826.4v2.5M924.25 826.4v2.5M1020.42 826.4v2.5" stroke="#1a1a1a" stroke-width="1.2" fill="none"/>
<text x="780" y="845" font-size="16.5" text-anchor="middle" font-weight="normal" fill="#111" stroke="#111" stroke-width="0.28" >0</text>
<text x="876.17" y="845" font-size="16.5" text-anchor="middle" font-weight="normal" fill="#111" stroke="#111" stroke-width="0.28" >20</text>
<text x="972.33" y="845" font-size="16.5" text-anchor="middle" font-weight="normal" fill="#111" stroke="#111" stroke-width="0.28" >40</text>
<text x="1068.5" y="845" font-size="16.5" text-anchor="middle" font-weight="normal" fill="#111" stroke="#111" stroke-width="0.28" >60</text>
<path d="M780 792.6h-4.5M780 726.15h-4.5M780 659.7h-4.5M780 593.25h-4.5M780 759.38h-2.5M780 692.93h-2.5M780 626.48h-2.5" stroke="#1a1a1a" stroke-width="1.2" fill="none"/>
<text x="773.4" y="797.7" font-size="16.5" text-anchor="end" font-weight="normal" fill="#111" stroke="#111" stroke-width="0.28" >1.0</text>
<text x="773.4" y="731.25" font-size="16.5" text-anchor="end" font-weight="normal" fill="#111" stroke="#111" stroke-width="0.28" >1.5</text>
<text x="773.4" y="664.8" font-size="16.5" text-anchor="end" font-weight="normal" fill="#111" stroke="#111" stroke-width="0.28" >2.0</text>
<text x="773.4" y="598.35" font-size="16.5" text-anchor="end" font-weight="normal" fill="#111" stroke="#111" stroke-width="0.28" >2.5</text>
<text x="924.6" y="864.5" font-size="17" text-anchor="middle" font-weight="normal" fill="#111" stroke="#111" stroke-width="0.28" >Time (s)</text>
<text transform="translate(744,709.5) rotate(-90)" x="0" y="0" font-size="17" text-anchor="middle" fill="#111" stroke="#111" stroke-width="0.28">Intensity (a.u.)</text>
<path d="M784.4 608.9 L809.8 608.9" fill="none" stroke="#1a1a1a" stroke-width="1.1" stroke-linejoin="round" />
<text x="813.2" y="614" font-size="13.8" text-anchor="start" font-weight="normal" fill="#111" stroke="#111" stroke-width="0.28" >Noncontact thermometry</text>
<text x="989.5" y="612.3" font-size="15.5" text-anchor="middle" font-weight="normal" fill="#111" stroke="#111" stroke-width="0.28" >50°C</text>
<text x="893" y="674.1" font-size="15.5" text-anchor="middle" font-weight="normal" fill="#111" stroke="#111" stroke-width="0.28" >40°C</text>
<text x="814.3" y="735.4" font-size="15.5" text-anchor="middle" font-weight="normal" fill="#111" stroke="#111" stroke-width="0.28" >30°C</text>
</svg></body></html>
